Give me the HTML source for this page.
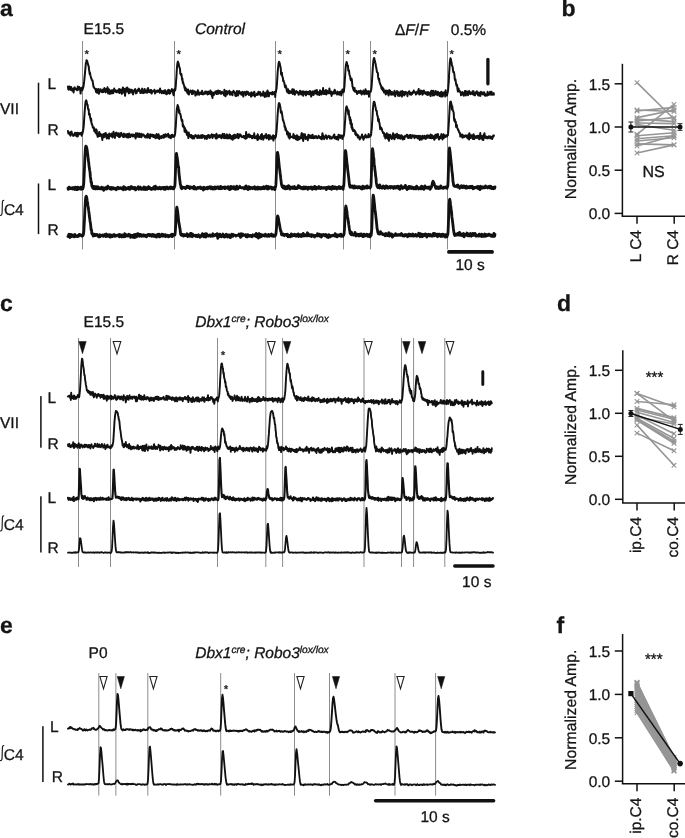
<!DOCTYPE html>
<html><head><meta charset="utf-8"><style>
html,body{margin:0;padding:0;background:#fff;overflow:hidden;width:685px;height:838px;}
svg{display:block;will-change:transform;}
text{font-family:"Liberation Sans", sans-serif;fill:#151515;stroke:#151515;stroke-width:0.3px;text-rendering:geometricPrecision;}
</style></head><body>
<svg width="685" height="838" viewBox="0 0 685 838">
<text x="0" y="16.2" font-size="23" font-weight="bold" font-style="normal" text-anchor="start" >a</text>
<text x="83.6" y="33.6" font-size="15.5" font-weight="normal" font-style="normal" text-anchor="start" >E15.5</text>
<text x="195" y="33.6" font-size="15.5" font-weight="normal" font-style="italic" text-anchor="start" >Control</text>
<text x="395" y="34.8" font-size="15.5"><tspan>Δ</tspan><tspan font-style="italic">F</tspan><tspan>/</tspan><tspan font-style="italic">F</tspan></text>
<text x="450.8" y="35" font-size="15.5" font-weight="normal" font-style="normal" text-anchor="start" >0.5%</text>
<line x1="82.5" y1="41" x2="82.5" y2="249.4" stroke="#8c8c8c" stroke-width="1.0"/>
<line x1="174.5" y1="41" x2="174.5" y2="249.4" stroke="#8c8c8c" stroke-width="1.0"/>
<line x1="275.5" y1="41" x2="275.5" y2="249.4" stroke="#8c8c8c" stroke-width="1.0"/>
<line x1="343.5" y1="41" x2="343.5" y2="249.4" stroke="#8c8c8c" stroke-width="1.0"/>
<line x1="370.5" y1="41" x2="370.5" y2="249.4" stroke="#8c8c8c" stroke-width="1.0"/>
<line x1="447.5" y1="41" x2="447.5" y2="249.4" stroke="#8c8c8c" stroke-width="1.0"/>
<path d="M68.0,86.6 68.3,89.4 68.7,89.6 69.0,87.6 69.4,86.5 69.8,88.2 70.1,89.1 70.5,89.9 70.8,86.9 71.2,86.9 71.5,89.7 71.8,89.3 72.2,90.7 72.5,90.1 72.9,88.8 73.2,88.6 73.6,92.4 74.0,88.5 74.3,87.9 74.7,87.4 75.0,89.1 75.3,89.2 75.7,88.5 76.0,88.9 76.4,89.4 76.8,89.8 77.1,90.3 77.5,89.1 77.8,86.5 78.2,89.8 78.5,87.0 78.8,88.7 79.2,87.0 79.5,89.1 79.9,88.0 80.2,89.3 80.6,93.6 81.0,89.2 81.3,90.5 81.7,87.7 82.0,89.1 82.3,90.2 82.7,88.9 83.0,88.3 83.4,86.8 83.8,84.3 84.1,81.9 84.5,78.0 84.8,75.0 85.2,70.3 85.5,67.1 85.8,63.8 86.2,61.9 86.5,60.2 86.9,60.6 87.2,61.0 87.6,62.7 88.0,64.0 88.3,65.5 88.7,66.2 89.0,69.8 89.3,71.0 89.7,74.0 90.0,72.7 90.4,75.5 90.8,76.8 91.1,77.9 91.5,78.8 91.8,80.0 92.2,80.0 92.5,80.5 92.8,82.3 93.2,84.7 93.5,86.8 93.9,87.0 94.2,87.9 94.6,88.3 95.0,88.9 95.3,88.8 95.7,90.1 96.0,91.9 96.3,89.3 96.7,89.1 97.0,92.7 97.4,90.5 97.8,91.7 98.1,91.6 98.5,89.0 98.8,93.8 99.2,92.9 99.5,90.8 99.8,91.5 100.2,90.7 100.5,89.2 100.9,90.2 101.2,90.9 101.6,91.9 101.9,91.3 102.3,90.5 102.7,92.2 103.0,89.4 103.3,91.7 103.7,92.0 104.0,90.1 104.4,88.1 104.8,89.2 105.1,90.8 105.4,91.0 105.8,92.4 106.2,88.9 106.5,90.3 106.8,91.2 107.2,90.1 107.5,87.3 107.9,91.6 108.2,93.6 108.6,91.8 108.9,89.2 109.3,89.9 109.7,90.7 110.0,93.9 110.3,91.3 110.7,90.8 111.0,92.9 111.4,93.2 111.8,93.4 112.1,90.1 112.4,90.4 112.8,92.1 113.2,93.1 113.5,92.1 113.8,91.6 114.2,88.6 114.5,90.1 114.9,90.1 115.2,90.3 115.6,91.8 115.9,90.6 116.3,92.3 116.7,91.3 117.0,90.5 117.3,91.2 117.7,91.5 118.0,92.2 118.4,90.3 118.8,90.6 119.1,89.0 119.4,93.0 119.8,92.8 120.2,90.7 120.5,90.4 120.8,89.4 121.2,91.2 121.5,91.3 121.9,93.9 122.2,91.2 122.6,89.8 122.9,87.6 123.3,92.6 123.7,91.1 124.0,88.7 124.3,91.3 124.7,89.0 125.0,95.8 125.4,92.6 125.8,91.9 126.1,90.9 126.4,88.1 126.8,90.9 127.2,87.5 127.5,91.4 127.8,88.2 128.2,89.8 128.6,92.7 128.9,93.4 129.2,89.8 129.6,89.2 129.9,92.4 130.3,92.4 130.7,89.9 131.0,90.3 131.3,90.3 131.7,89.7 132.1,90.5 132.4,93.1 132.8,92.4 133.1,94.4 133.4,91.5 133.8,91.4 134.1,90.3 134.5,91.3 134.8,89.7 135.2,89.0 135.6,92.4 135.9,93.4 136.2,92.5 136.6,93.0 136.9,91.6 137.3,90.3 137.6,91.2 138.0,90.5 138.3,89.5 138.7,88.6 139.1,88.9 139.4,90.9 139.8,91.1 140.1,90.4 140.4,93.1 140.8,91.4 141.1,91.9 141.5,92.8 141.8,90.2 142.2,88.6 142.6,92.5 142.9,90.5 143.2,93.1 143.6,91.9 143.9,92.8 144.3,92.6 144.6,88.9 145.0,92.6 145.3,90.6 145.7,90.5 146.1,90.9 146.4,92.4 146.8,92.5 147.1,92.8 147.4,89.1 147.8,90.5 148.1,88.1 148.5,91.0 148.8,92.0 149.2,90.2 149.6,91.5 149.9,91.5 150.2,92.4 150.6,90.0 150.9,90.0 151.3,90.2 151.6,93.6 152.0,92.7 152.3,91.1 152.7,91.6 153.1,91.4 153.4,91.5 153.8,91.0 154.1,90.9 154.4,89.8 154.8,90.5 155.1,93.6 155.5,92.2 155.8,91.5 156.2,91.3 156.6,91.6 156.9,92.0 157.2,90.6 157.6,91.7 157.9,91.8 158.3,90.6 158.6,90.5 159.0,90.3 159.3,90.2 159.7,92.7 160.1,88.4 160.4,91.1 160.8,90.7 161.1,90.8 161.4,91.8 161.8,93.3 162.1,91.9 162.5,91.7 162.8,91.1 163.2,91.8 163.6,93.3 163.9,91.5 164.2,90.4 164.6,90.4 164.9,93.0 165.3,90.3 165.6,93.7 166.0,92.7 166.3,92.0 166.7,94.3 167.1,91.4 167.4,93.2 167.8,93.3 168.1,90.1 168.4,89.9 168.8,90.6 169.1,93.0 169.5,93.6 169.8,90.3 170.2,93.2 170.6,91.3 170.9,91.2 171.2,90.8 171.6,91.1 171.9,89.1 172.3,90.2 172.6,90.0 173.0,92.2 173.3,94.4 173.7,95.3 174.1,91.0 174.4,89.2 174.8,90.7 175.1,90.3 175.4,89.4 175.8,85.7 176.1,80.6 176.5,75.6 176.8,70.0 177.2,64.8 177.6,62.5 177.9,61.6 178.2,62.2 178.6,63.5 178.9,64.9 179.3,67.1 179.6,67.7 180.0,68.9 180.3,73.7 180.7,73.7 181.1,75.3 181.4,74.0 181.8,77.4 182.1,80.0 182.4,78.5 182.8,82.9 183.1,82.0 183.5,84.2 183.8,84.6 184.2,86.1 184.6,88.3 184.9,86.9 185.2,90.3 185.6,87.9 185.9,88.4 186.3,91.2 186.6,89.4 187.0,90.7 187.3,92.8 187.7,93.4 188.1,89.5 188.4,92.7 188.8,94.6 189.1,93.7 189.4,91.7 189.8,91.2 190.1,91.7 190.5,90.5 190.8,91.8 191.2,92.1 191.6,92.1 191.9,94.0 192.2,92.2 192.6,90.5 192.9,93.9 193.3,91.0 193.6,92.0 194.0,92.5 194.3,92.2 194.7,91.3 195.1,92.3 195.4,95.6 195.8,91.9 196.1,92.6 196.4,94.4 196.8,94.0 197.2,93.9 197.5,94.5 197.8,90.2 198.2,91.7 198.5,93.1 198.9,93.7 199.2,94.7 199.6,93.5 199.9,92.5 200.3,92.9 200.7,92.7 201.0,93.3 201.3,94.0 201.7,92.5 202.0,90.8 202.4,91.6 202.8,94.2 203.1,94.4 203.4,94.0 203.8,94.0 204.1,94.0 204.5,92.8 204.8,93.6 205.2,91.4 205.5,92.5 205.9,91.7 206.2,93.6 206.6,91.7 206.9,92.4 207.3,93.2 207.6,94.6 208.0,91.8 208.3,91.6 208.7,94.0 209.0,92.0 209.4,93.6 209.8,92.2 210.1,92.8 210.4,90.6 210.8,94.1 211.1,92.3 211.5,91.9 211.8,96.0 212.2,94.2 212.5,97.9 212.9,93.7 213.2,92.5 213.6,93.0 213.9,95.0 214.3,92.9 214.6,93.4 215.0,93.5 215.3,91.6 215.7,92.9 216.0,92.1 216.4,91.1 216.8,94.0 217.1,93.9 217.4,93.0 217.8,91.8 218.1,90.4 218.5,93.7 218.8,93.0 219.2,90.9 219.5,93.1 219.9,91.1 220.2,93.1 220.6,93.4 220.9,93.8 221.3,93.7 221.6,93.6 222.0,91.8 222.3,92.7 222.7,92.6 223.0,92.9 223.4,93.6 223.8,94.0 224.1,95.3 224.4,89.8 224.8,93.8 225.1,93.0 225.5,96.3 225.8,94.4 226.2,91.1 226.5,93.9 226.9,92.5 227.2,94.5 227.6,91.6 227.9,93.0 228.3,93.0 228.6,93.0 229.0,92.4 229.3,90.7 229.7,93.7 230.0,94.7 230.4,93.3 230.8,91.9 231.1,93.6 231.4,94.1 231.8,93.2 232.1,93.2 232.5,95.2 232.8,91.8 233.2,92.5 233.5,90.8 233.9,92.3 234.2,92.4 234.6,92.1 234.9,92.5 235.3,95.7 235.6,93.1 236.0,93.1 236.3,96.1 236.7,93.2 237.0,91.0 237.4,93.8 237.8,93.2 238.1,95.4 238.4,91.6 238.8,92.6 239.1,91.1 239.5,93.5 239.8,92.2 240.2,93.3 240.5,92.9 240.9,92.4 241.2,94.6 241.6,94.7 241.9,93.5 242.3,92.1 242.6,91.9 243.0,93.7 243.3,96.6 243.7,92.7 244.0,92.4 244.4,92.3 244.8,91.8 245.1,92.0 245.4,93.0 245.8,95.3 246.1,93.4 246.5,92.8 246.8,91.5 247.2,94.0 247.5,93.6 247.9,92.0 248.2,92.3 248.6,93.7 248.9,95.1 249.3,94.6 249.6,93.9 250.0,93.3 250.3,94.1 250.7,93.7 251.0,96.6 251.4,92.2 251.8,93.2 252.1,95.4 252.4,93.3 252.8,95.5 253.1,93.4 253.5,93.7 253.8,93.1 254.2,91.7 254.5,92.3 254.9,96.6 255.2,94.5 255.6,94.5 255.9,94.9 256.3,94.5 256.6,95.0 257.0,93.4 257.4,93.4 257.7,94.9 258.0,93.1 258.4,91.8 258.8,93.2 259.1,93.0 259.4,94.5 259.8,92.6 260.1,92.1 260.5,93.2 260.9,95.8 261.2,93.7 261.5,94.0 261.9,93.7 262.2,94.0 262.6,95.0 262.9,95.5 263.3,91.5 263.6,95.5 264.0,93.6 264.4,93.3 264.7,97.0 265.0,93.5 265.4,96.2 265.8,95.0 266.1,92.4 266.4,94.4 266.8,96.6 267.1,93.3 267.5,90.4 267.9,93.1 268.2,93.4 268.5,92.2 268.9,96.3 269.2,93.4 269.6,93.4 269.9,93.4 270.3,92.7 270.6,92.7 271.0,93.8 271.4,94.2 271.7,93.1 272.0,93.6 272.4,91.9 272.8,94.4 273.1,92.7 273.4,94.0 273.8,92.5 274.1,93.0 274.5,93.9 274.9,91.8 275.2,97.0 275.5,92.9 275.9,92.1 276.2,90.2 276.6,88.1 276.9,84.0 277.3,78.7 277.6,72.9 278.0,68.5 278.4,65.2 278.7,62.6 279.0,61.8 279.4,62.3 279.8,63.8 280.1,65.6 280.4,66.4 280.8,69.1 281.1,74.5 281.5,74.9 281.9,72.7 282.2,76.1 282.5,76.9 282.9,78.1 283.2,81.1 283.6,80.5 283.9,81.7 284.3,82.9 284.6,84.4 285.0,87.2 285.4,87.5 285.7,85.5 286.0,87.6 286.4,87.9 286.8,90.8 287.1,90.7 287.4,92.2 287.8,91.4 288.1,89.3 288.5,92.9 288.9,92.7 289.2,93.3 289.5,90.9 289.9,92.8 290.2,91.6 290.6,91.5 290.9,92.9 291.3,92.9 291.6,91.3 292.0,90.3 292.4,89.2 292.7,91.8 293.0,94.1 293.4,92.4 293.8,89.4 294.1,91.2 294.4,93.0 294.8,94.7 295.1,94.0 295.5,92.3 295.9,92.7 296.2,91.0 296.5,92.1 296.9,92.4 297.2,91.7 297.6,92.8 297.9,92.2 298.3,93.3 298.6,94.8 299.0,93.8 299.4,93.5 299.7,92.5 300.0,90.8 300.4,92.7 300.8,93.8 301.1,91.6 301.4,94.6 301.8,92.6 302.1,93.6 302.5,92.5 302.9,91.2 303.2,95.7 303.5,91.4 303.9,94.2 304.2,92.1 304.6,93.2 304.9,91.8 305.3,92.2 305.6,94.1 306.0,95.4 306.4,91.6 306.7,92.5 307.0,94.0 307.4,91.9 307.8,93.7 308.1,91.7 308.4,93.5 308.8,93.4 309.1,94.5 309.5,93.3 309.9,91.0 310.2,93.5 310.5,91.2 310.9,93.7 311.2,96.6 311.6,93.7 311.9,92.3 312.3,94.7 312.6,93.4 313.0,91.3 313.4,92.5 313.7,94.9 314.0,92.7 314.4,93.3 314.8,92.7 315.1,90.6 315.4,92.2 315.8,93.5 316.1,93.3 316.5,92.8 316.9,90.0 317.2,94.5 317.5,93.8 317.9,94.2 318.2,94.4 318.6,92.1 318.9,92.0 319.3,93.2 319.6,95.0 320.0,90.3 320.4,92.3 320.7,91.5 321.0,93.3 321.4,94.5 321.8,92.2 322.1,91.0 322.4,92.6 322.8,92.2 323.1,88.1 323.5,93.9 323.9,91.9 324.2,93.6 324.6,90.9 324.9,94.1 325.2,90.7 325.6,94.0 325.9,90.1 326.3,94.5 326.6,92.2 327.0,90.8 327.3,92.5 327.7,93.3 328.1,91.4 328.4,92.1 328.8,93.2 329.1,92.5 329.4,88.4 329.8,91.9 330.1,93.1 330.5,93.0 330.8,93.9 331.2,91.4 331.6,95.9 331.9,93.6 332.2,92.9 332.6,93.9 332.9,93.6 333.3,92.4 333.6,91.4 334.0,93.5 334.3,92.8 334.7,89.7 335.1,90.9 335.4,93.2 335.8,92.8 336.1,92.9 336.4,93.4 336.8,92.6 337.1,94.6 337.5,91.6 337.8,91.9 338.2,92.9 338.5,93.6 338.9,93.7 339.2,94.8 339.6,92.1 339.9,94.4 340.3,93.6 340.6,91.4 341.0,92.5 341.3,95.5 341.7,93.7 342.0,92.1 342.4,89.4 342.8,91.8 343.1,91.7 343.4,92.3 343.8,92.0 344.1,89.4 344.5,85.8 344.8,80.4 345.2,74.5 345.5,69.4 345.9,65.0 346.2,63.7 346.6,62.0 346.9,62.6 347.3,64.6 347.6,65.9 348.0,65.7 348.3,70.7 348.7,70.1 349.0,70.4 349.4,74.2 349.8,75.8 350.1,76.0 350.4,78.7 350.8,80.2 351.1,79.1 351.5,78.6 351.8,79.5 352.2,83.7 352.5,86.5 352.9,87.3 353.2,88.8 353.6,90.2 353.9,88.5 354.3,90.9 354.6,88.1 355.0,91.7 355.3,91.8 355.7,91.5 356.0,91.5 356.4,90.8 356.8,92.5 357.1,94.1 357.4,91.9 357.8,93.0 358.1,91.5 358.5,92.8 358.8,91.0 359.2,92.8 359.5,92.1 359.9,92.7 360.2,91.4 360.6,90.6 360.9,91.8 361.3,93.7 361.6,94.5 362.0,91.8 362.3,93.4 362.7,93.5 363.0,93.1 363.4,90.6 363.8,93.0 364.1,91.3 364.4,94.3 364.8,93.9 365.1,93.6 365.5,89.3 365.8,93.6 366.2,93.7 366.5,90.9 366.9,93.9 367.2,92.7 367.6,92.2 367.9,91.6 368.3,91.1 368.6,91.9 369.0,96.7 369.3,92.8 369.7,92.8 370.0,91.5 370.4,91.4 370.8,91.6 371.1,90.1 371.4,88.1 371.8,83.8 372.1,79.0 372.5,72.7 372.8,67.8 373.2,62.8 373.5,59.9 373.9,58.1 374.2,58.0 374.6,59.8 374.9,60.8 375.3,62.7 375.6,63.7 376.0,66.9 376.3,67.7 376.7,70.3 377.0,72.1 377.4,72.3 377.8,72.8 378.1,76.7 378.4,78.7 378.8,79.8 379.1,78.6 379.5,82.1 379.8,82.9 380.2,83.9 380.5,85.1 380.9,85.2 381.2,87.1 381.6,88.9 381.9,87.7 382.3,87.3 382.6,89.7 383.0,90.7 383.3,88.5 383.7,90.3 384.0,92.4 384.4,91.7 384.8,92.2 385.1,90.4 385.4,93.3 385.8,94.5 386.1,91.9 386.5,91.2 386.8,90.6 387.2,93.3 387.5,92.4 387.9,91.1 388.2,93.7 388.6,95.5 388.9,93.2 389.3,90.0 389.6,92.4 390.0,93.5 390.3,91.0 390.7,93.9 391.0,94.8 391.4,94.3 391.8,92.0 392.1,92.0 392.4,94.2 392.8,94.4 393.1,94.7 393.5,94.5 393.8,92.9 394.2,92.7 394.5,90.8 394.9,94.3 395.2,96.3 395.6,92.6 395.9,92.5 396.3,93.9 396.6,93.6 397.0,91.1 397.3,92.0 397.7,91.5 398.0,95.8 398.4,92.2 398.8,94.3 399.1,95.8 399.4,95.9 399.8,95.3 400.1,95.4 400.5,91.5 400.8,92.6 401.2,92.1 401.5,92.7 401.9,96.6 402.2,90.9 402.6,93.8 402.9,91.5 403.3,94.8 403.6,94.7 404.0,92.1 404.3,95.4 404.7,92.8 405.0,94.5 405.4,93.1 405.8,91.9 406.1,92.2 406.4,92.6 406.8,93.7 407.1,93.2 407.5,96.2 407.8,92.7 408.2,92.4 408.5,92.1 408.9,91.9 409.2,91.2 409.6,91.9 409.9,94.4 410.3,93.3 410.6,92.8 411.0,93.7 411.3,94.7 411.7,94.1 412.0,94.2 412.4,92.2 412.8,92.6 413.1,91.8 413.4,92.8 413.8,90.6 414.1,92.3 414.5,92.6 414.8,92.6 415.2,92.4 415.5,92.2 415.9,94.6 416.2,92.4 416.6,93.9 416.9,93.3 417.3,91.5 417.6,91.6 418.0,93.3 418.3,91.0 418.7,88.9 419.0,93.7 419.4,94.5 419.8,91.0 420.1,92.0 420.4,94.1 420.8,90.6 421.1,92.2 421.5,91.8 421.8,93.3 422.2,90.9 422.5,94.7 422.9,93.3 423.2,93.9 423.6,93.0 423.9,90.6 424.3,93.3 424.6,91.5 425.0,93.4 425.3,92.4 425.7,93.1 426.0,93.2 426.4,94.5 426.8,94.4 427.1,91.9 427.4,93.1 427.8,95.1 428.1,93.8 428.5,92.2 428.8,93.0 429.2,92.7 429.5,94.5 429.9,93.0 430.2,93.5 430.6,96.1 430.9,91.2 431.3,91.6 431.6,90.7 432.0,91.7 432.3,94.4 432.7,93.6 433.0,95.5 433.4,90.7 433.8,92.2 434.1,95.3 434.4,94.7 434.8,94.4 435.1,94.4 435.5,93.3 435.8,90.9 436.2,93.4 436.5,94.4 436.9,93.0 437.2,93.7 437.6,95.2 437.9,91.7 438.3,92.3 438.6,94.1 439.0,93.0 439.3,93.0 439.7,96.0 440.0,93.8 440.4,92.6 440.8,94.7 441.1,96.6 441.4,91.8 441.8,92.5 442.1,93.6 442.5,92.7 442.8,96.4 443.2,94.2 443.5,93.0 443.9,94.0 444.2,92.2 444.6,92.5 444.9,93.5 445.3,96.5 445.6,90.2 446.0,93.8 446.3,95.0 446.7,94.1 447.0,95.6 447.4,93.4 447.8,91.9 448.1,89.8 448.4,85.8 448.8,81.3 449.1,73.9 449.5,68.0 449.8,62.8 450.2,59.7 450.5,58.2 450.9,59.3 451.2,60.9 451.6,62.7 451.9,65.5 452.3,65.9 452.6,67.0 453.0,70.0 453.3,72.0 453.7,71.7 454.0,72.4 454.4,74.7 454.8,79.1 455.1,80.4 455.4,79.2 455.8,81.8 456.1,83.9 456.5,85.8 456.8,84.4 457.2,86.1 457.5,89.3 457.9,91.6 458.2,91.2 458.6,88.4 458.9,91.2 459.3,90.8 459.6,91.7 460.0,91.3 460.3,91.8 460.7,92.7 461.0,95.3 461.4,93.8 461.8,93.5 462.1,93.1 462.4,92.1 462.8,92.8 463.1,94.8 463.5,94.3 463.8,95.8 464.2,93.6 464.5,93.3 464.9,91.1 465.2,93.9 465.6,91.1 465.9,95.4 466.3,92.6 466.6,93.5 467.0,91.6 467.3,92.9 467.7,92.4 468.0,95.2 468.4,93.9 468.8,92.0 469.1,90.9 469.4,93.5 469.8,93.0 470.1,92.1 470.5,94.3 470.8,93.3 471.2,93.7 471.5,92.7 471.9,92.8 472.2,92.8 472.6,91.3 472.9,94.3 473.3,94.1 473.6,91.2 474.0,93.8 474.3,95.3 474.7,94.1 475.0,95.4 475.4,93.2 475.8,93.6 476.1,91.9 476.4,92.4 476.8,91.3 477.1,92.5 477.5,94.0 477.8,94.5 478.2,95.5 478.5,94.0 478.9,92.4 479.2,94.2 479.6,93.2 479.9,95.8 480.3,95.9 480.6,94.5 481.0,91.8 481.3,92.7 481.7,93.6 482.0,92.4 482.4,94.1 482.8,94.3 483.1,94.5 483.4,93.7 483.8,92.2 484.1,92.2 484.5,93.3 484.8,95.4 485.2,95.8 485.5,95.1 485.9,94.3 486.2,94.8 486.6,95.0 486.9,95.7 487.3,95.0 487.6,91.8 488.0,95.1 488.3,94.4 488.7,93.3 489.0,94.8 489.4,94.5 489.8,94.0 490.1,91.8 490.4,94.2 490.8,94.7 491.1,93.8 491.5,91.7 491.8,94.4 492.2,94.8 492.5,94.0 492.9,94.3 493.2,93.3 493.6,93.0 493.9,94.7" fill="none" stroke="#111" stroke-width="2.0" stroke-linejoin="round" stroke-linecap="round"/>
<text x="86.7" y="58.3" font-size="11.5" text-anchor="middle">*</text>
<text x="178.7" y="58.3" font-size="11.5" text-anchor="middle">*</text>
<text x="279.7" y="58.3" font-size="11.5" text-anchor="middle">*</text>
<text x="347.7" y="58.3" font-size="11.5" text-anchor="middle">*</text>
<text x="374.7" y="58.3" font-size="11.5" text-anchor="middle">*</text>
<text x="451.7" y="58.3" font-size="11.5" text-anchor="middle">*</text>
<path d="M68.0,131.1 68.3,133.3 68.7,132.6 69.0,132.4 69.4,134.4 69.8,133.2 70.1,132.8 70.5,135.7 70.8,134.0 71.2,131.7 71.5,131.6 71.8,132.8 72.2,134.4 72.5,134.7 72.9,135.0 73.2,135.9 73.6,135.8 74.0,134.3 74.3,135.3 74.7,134.5 75.0,132.8 75.3,134.7 75.7,133.6 76.0,133.3 76.4,136.2 76.8,134.5 77.1,132.8 77.5,133.3 77.8,136.5 78.2,133.0 78.5,134.4 78.8,134.3 79.2,134.2 79.5,134.3 79.9,132.9 80.2,132.9 80.6,133.3 81.0,133.0 81.3,134.6 81.7,135.7 82.0,132.3 82.3,134.0 82.7,132.3 83.0,131.1 83.4,128.7 83.8,125.1 84.1,120.1 84.5,114.0 84.8,110.2 85.2,105.2 85.5,102.0 85.8,100.9 86.2,100.4 86.5,101.0 86.9,103.1 87.2,104.7 87.6,104.8 88.0,108.7 88.3,109.8 88.7,109.3 89.0,114.6 89.3,114.1 89.7,113.7 90.0,117.2 90.4,118.0 90.8,120.6 91.1,118.6 91.5,123.1 91.8,124.1 92.2,124.8 92.5,125.7 92.8,127.7 93.2,127.9 93.5,127.9 93.9,127.5 94.2,130.9 94.6,131.5 95.0,131.2 95.3,131.7 95.7,133.0 96.0,129.2 96.3,133.6 96.7,130.1 97.0,134.3 97.4,135.6 97.8,136.9 98.1,133.9 98.5,135.3 98.8,134.7 99.2,131.9 99.5,136.1 99.8,135.4 100.2,135.2 100.5,133.8 100.9,135.0 101.2,135.2 101.6,136.8 101.9,135.4 102.3,139.9 102.7,134.6 103.0,134.7 103.3,135.0 103.7,134.0 104.0,137.3 104.4,136.1 104.8,133.5 105.1,135.3 105.4,136.6 105.8,133.1 106.2,135.3 106.5,134.9 106.8,138.5 107.2,135.8 107.5,134.8 107.9,134.6 108.2,138.0 108.6,134.7 108.9,138.6 109.3,133.4 109.7,135.2 110.0,135.1 110.3,134.4 110.7,135.0 111.0,136.3 111.4,134.4 111.8,133.5 112.1,135.9 112.4,137.4 112.8,134.4 113.2,135.7 113.5,131.7 113.8,136.4 114.2,133.3 114.5,134.4 114.9,138.0 115.2,133.6 115.6,135.1 115.9,133.6 116.3,132.6 116.7,133.6 117.0,135.5 117.3,133.3 117.7,134.2 118.0,136.0 118.4,134.8 118.8,133.2 119.1,137.2 119.4,135.3 119.8,137.0 120.2,133.8 120.5,136.3 120.8,133.4 121.2,132.8 121.5,134.6 121.9,134.6 122.2,135.5 122.6,134.5 122.9,136.1 123.3,137.1 123.7,134.5 124.0,133.6 124.3,134.9 124.7,136.7 125.0,136.6 125.4,135.1 125.8,134.2 126.1,135.5 126.4,136.9 126.8,134.6 127.2,137.4 127.5,134.0 127.8,136.2 128.2,134.8 128.6,137.6 128.9,135.8 129.2,133.6 129.6,136.8 129.9,135.1 130.3,137.1 130.7,135.8 131.0,134.7 131.3,135.7 131.7,134.8 132.1,134.4 132.4,135.5 132.8,136.5 133.1,135.4 133.4,135.2 133.8,134.5 134.1,136.2 134.5,135.8 134.8,136.7 135.2,136.1 135.6,138.4 135.9,133.3 136.2,135.4 136.6,136.1 136.9,136.6 137.3,133.3 137.6,133.7 138.0,135.3 138.3,136.8 138.7,136.9 139.1,133.4 139.4,135.6 139.8,137.1 140.1,135.6 140.4,134.2 140.8,134.6 141.1,133.7 141.5,137.2 141.8,135.3 142.2,135.1 142.6,134.5 142.9,135.5 143.2,134.5 143.6,134.4 143.9,135.8 144.3,135.6 144.6,136.6 145.0,136.2 145.3,137.6 145.7,136.0 146.1,136.4 146.4,136.3 146.8,134.9 147.1,137.6 147.4,135.2 147.8,133.8 148.1,137.6 148.5,136.9 148.8,135.3 149.2,137.3 149.6,137.3 149.9,138.2 150.2,134.3 150.6,136.2 150.9,134.6 151.3,135.1 151.6,135.2 152.0,134.9 152.3,136.6 152.7,134.7 153.1,136.7 153.4,136.9 153.8,135.1 154.1,136.1 154.4,136.8 154.8,137.3 155.1,135.4 155.5,138.2 155.8,136.6 156.2,137.6 156.6,134.1 156.9,134.6 157.2,137.8 157.6,135.8 157.9,136.7 158.3,137.9 158.6,134.3 159.0,136.8 159.3,138.9 159.7,137.3 160.1,136.4 160.4,137.1 160.8,136.5 161.1,137.5 161.4,138.2 161.8,136.1 162.1,137.1 162.5,136.7 162.8,137.2 163.2,137.3 163.6,134.7 163.9,137.8 164.2,137.3 164.6,134.8 164.9,135.9 165.3,134.3 165.6,135.9 166.0,136.7 166.3,134.7 166.7,135.3 167.1,135.1 167.4,135.4 167.8,135.2 168.1,133.8 168.4,137.1 168.8,136.0 169.1,135.2 169.5,137.6 169.8,135.6 170.2,137.6 170.6,137.1 170.9,138.2 171.2,135.7 171.6,135.1 171.9,137.0 172.3,134.7 172.6,134.9 173.0,136.8 173.3,135.8 173.7,136.9 174.1,136.5 174.4,136.5 174.8,135.3 175.1,133.8 175.4,130.4 175.8,126.1 176.1,120.5 176.5,113.8 176.8,109.1 177.2,107.1 177.6,105.1 177.9,105.5 178.2,106.4 178.6,108.0 178.9,112.7 179.3,110.1 179.6,112.7 180.0,114.0 180.3,113.8 180.7,115.4 181.1,117.6 181.4,119.3 181.8,121.1 182.1,119.9 182.4,120.7 182.8,126.2 183.1,124.7 183.5,127.2 183.8,126.3 184.2,127.0 184.6,131.7 184.9,127.9 185.2,129.1 185.6,132.0 185.9,132.0 186.3,130.5 186.6,133.6 187.0,134.9 187.3,132.3 187.7,134.0 188.1,136.2 188.4,138.1 188.8,132.6 189.1,135.1 189.4,136.1 189.8,135.0 190.1,135.0 190.5,135.6 190.8,137.2 191.2,135.1 191.6,137.7 191.9,137.6 192.2,137.6 192.6,138.5 192.9,135.8 193.3,136.4 193.6,137.9 194.0,138.4 194.3,137.9 194.7,136.0 195.1,136.0 195.4,134.9 195.8,136.1 196.1,135.6 196.4,136.1 196.8,136.2 197.2,137.9 197.5,138.0 197.8,136.8 198.2,135.2 198.5,136.7 198.9,137.3 199.2,137.9 199.6,136.5 199.9,137.7 200.3,135.6 200.7,137.4 201.0,137.6 201.3,136.1 201.7,135.4 202.0,138.0 202.4,135.0 202.8,137.3 203.1,136.0 203.4,135.8 203.8,135.9 204.1,135.7 204.5,136.1 204.8,138.7 205.2,138.3 205.5,136.2 205.9,137.1 206.2,137.7 206.6,136.0 206.9,139.0 207.3,135.8 207.6,137.4 208.0,135.2 208.3,134.9 208.7,135.1 209.0,135.6 209.4,137.9 209.8,136.1 210.1,137.7 210.4,136.0 210.8,135.3 211.1,136.8 211.5,136.1 211.8,134.3 212.2,136.6 212.5,138.1 212.9,136.2 213.2,134.9 213.6,135.5 213.9,134.8 214.3,136.2 214.6,135.2 215.0,136.3 215.3,136.8 215.7,138.4 216.0,135.0 216.4,133.7 216.8,138.6 217.1,137.0 217.4,135.8 217.8,137.0 218.1,135.2 218.5,136.0 218.8,137.3 219.2,136.0 219.5,136.6 219.9,134.9 220.2,136.7 220.6,136.2 220.9,137.2 221.3,138.2 221.6,138.1 222.0,135.1 222.3,137.4 222.7,133.8 223.0,134.6 223.4,137.0 223.8,137.2 224.1,138.2 224.4,134.1 224.8,137.9 225.1,135.7 225.5,135.8 225.8,137.0 226.2,138.3 226.5,135.2 226.9,134.3 227.2,135.9 227.6,136.6 227.9,138.4 228.3,137.3 228.6,136.4 229.0,136.1 229.3,134.5 229.7,138.2 230.0,134.7 230.4,136.1 230.8,136.0 231.1,138.7 231.4,137.4 231.8,136.3 232.1,138.2 232.5,139.8 232.8,138.6 233.2,135.4 233.5,137.0 233.9,138.7 234.2,134.7 234.6,135.5 234.9,134.7 235.3,137.9 235.6,136.2 236.0,137.5 236.3,137.0 236.7,137.5 237.0,135.5 237.4,134.1 237.8,134.1 238.1,137.1 238.4,138.3 238.8,137.6 239.1,134.8 239.5,134.4 239.8,136.5 240.2,135.7 240.5,134.4 240.9,136.0 241.2,135.6 241.6,136.5 241.9,137.1 242.3,136.8 242.6,136.7 243.0,137.1 243.3,136.3 243.7,135.8 244.0,136.1 244.4,138.1 244.8,136.2 245.1,137.7 245.4,138.8 245.8,138.8 246.1,132.0 246.5,136.8 246.8,138.0 247.2,136.1 247.5,135.7 247.9,134.8 248.2,135.8 248.6,136.8 248.9,134.2 249.3,136.8 249.6,137.1 250.0,136.8 250.3,135.3 250.7,136.9 251.0,137.0 251.4,136.0 251.8,136.1 252.1,138.3 252.4,137.9 252.8,136.0 253.1,137.7 253.5,135.6 253.8,136.5 254.2,133.3 254.5,136.5 254.9,138.2 255.2,136.6 255.6,138.1 255.9,136.4 256.3,137.6 256.6,137.0 257.0,135.9 257.4,139.9 257.7,134.3 258.0,135.3 258.4,139.5 258.8,137.8 259.1,137.5 259.4,136.9 259.8,137.5 260.1,138.1 260.5,137.7 260.9,135.1 261.2,139.2 261.5,136.8 261.9,134.1 262.2,138.0 262.6,136.7 262.9,137.3 263.3,139.7 263.6,136.2 264.0,136.1 264.4,135.6 264.7,137.0 265.0,137.7 265.4,137.4 265.8,137.2 266.1,134.1 266.4,137.3 266.8,138.4 267.1,136.4 267.5,136.4 267.9,135.7 268.2,137.4 268.5,135.0 268.9,139.6 269.2,136.8 269.6,136.3 269.9,135.4 270.3,137.9 270.6,138.6 271.0,136.6 271.4,137.6 271.7,137.7 272.0,138.6 272.4,138.1 272.8,138.9 273.1,135.3 273.4,140.6 273.8,136.5 274.1,138.3 274.5,136.0 274.9,137.7 275.2,138.1 275.5,137.6 275.9,136.3 276.2,133.8 276.6,130.8 276.9,126.3 277.3,120.8 277.6,115.3 278.0,110.0 278.4,106.5 278.7,103.8 279.0,103.1 279.4,103.4 279.8,104.3 280.1,106.4 280.4,107.4 280.8,112.2 281.1,112.8 281.5,111.1 281.9,112.9 282.2,115.1 282.5,116.9 282.9,120.2 283.2,119.9 283.6,122.0 283.9,122.3 284.3,123.7 284.6,126.8 285.0,126.2 285.4,129.9 285.7,128.1 286.0,129.6 286.4,130.6 286.8,131.9 287.1,134.4 287.4,131.6 287.8,132.5 288.1,132.4 288.5,136.9 288.9,135.6 289.2,136.0 289.5,138.6 289.9,133.6 290.2,137.5 290.6,136.8 290.9,137.2 291.3,137.0 291.6,136.8 292.0,136.9 292.4,136.2 292.7,136.5 293.0,137.8 293.4,134.1 293.8,138.2 294.1,137.9 294.4,135.5 294.8,138.0 295.1,137.4 295.5,136.3 295.9,139.2 296.2,137.1 296.5,136.8 296.9,135.3 297.2,139.9 297.6,139.2 297.9,137.4 298.3,136.6 298.6,139.7 299.0,136.7 299.4,139.1 299.7,138.3 300.0,138.2 300.4,137.7 300.8,138.3 301.1,136.6 301.4,134.0 301.8,133.1 302.1,138.3 302.5,134.0 302.9,138.6 303.2,141.0 303.5,134.2 303.9,137.7 304.2,137.6 304.6,135.9 304.9,134.2 305.3,136.7 305.6,139.1 306.0,136.7 306.4,137.0 306.7,137.2 307.0,137.1 307.4,137.5 307.8,140.2 308.1,136.0 308.4,134.7 308.8,138.3 309.1,136.5 309.5,136.5 309.9,135.4 310.2,137.1 310.5,136.7 310.9,137.9 311.2,136.8 311.6,135.4 311.9,138.0 312.3,137.1 312.6,134.7 313.0,136.8 313.4,138.2 313.7,137.1 314.0,136.8 314.4,138.0 314.8,136.3 315.1,136.2 315.4,137.8 315.8,136.8 316.1,136.1 316.5,137.3 316.9,137.3 317.2,138.2 317.5,138.3 317.9,137.0 318.2,136.9 318.6,135.7 318.9,137.3 319.3,136.6 319.6,138.1 320.0,138.1 320.4,138.0 320.7,137.0 321.0,138.9 321.4,139.1 321.8,139.3 322.1,136.3 322.4,133.3 322.8,137.9 323.1,135.1 323.5,137.2 323.9,136.6 324.2,139.2 324.6,136.8 324.9,136.9 325.2,136.3 325.6,137.4 325.9,135.2 326.3,137.7 326.6,137.8 327.0,138.8 327.3,136.5 327.7,137.4 328.1,137.2 328.4,137.0 328.8,135.8 329.1,136.3 329.4,137.1 329.8,137.8 330.1,138.6 330.5,136.4 330.8,137.7 331.2,138.2 331.6,138.6 331.9,137.9 332.2,137.8 332.6,137.0 332.9,137.6 333.3,137.3 333.6,135.3 334.0,136.7 334.3,134.4 334.7,138.2 335.1,138.7 335.4,136.9 335.8,137.6 336.1,137.6 336.4,136.9 336.8,139.2 337.1,136.9 337.5,137.5 337.8,137.0 338.2,139.7 338.5,134.8 338.9,137.2 339.2,135.1 339.6,135.9 339.9,135.6 340.3,137.9 340.6,135.4 341.0,135.5 341.3,136.5 341.7,135.6 342.0,135.5 342.4,139.0 342.8,135.9 343.1,135.7 343.4,136.8 343.8,135.5 344.1,133.8 344.5,129.4 344.8,124.9 345.2,119.4 345.5,113.8 345.9,109.6 346.2,107.3 346.6,106.4 346.9,107.2 347.3,108.3 347.6,109.3 348.0,112.2 348.3,114.3 348.7,110.6 349.0,114.7 349.4,117.7 349.8,120.0 350.1,117.2 350.4,123.8 350.8,119.8 351.1,123.0 351.5,127.5 351.8,123.4 352.2,129.3 352.5,127.6 352.9,130.8 353.2,131.1 353.6,130.2 353.9,129.8 354.3,131.2 354.6,130.5 355.0,131.1 355.3,134.1 355.7,132.2 356.0,135.2 356.4,135.0 356.8,135.3 357.1,134.5 357.4,134.5 357.8,137.4 358.1,135.2 358.5,135.9 358.8,136.5 359.2,137.7 359.5,139.4 359.9,139.4 360.2,137.8 360.6,137.7 360.9,137.7 361.3,136.4 361.6,136.4 362.0,134.4 362.3,137.5 362.7,136.1 363.0,137.2 363.4,139.7 363.8,137.8 364.1,138.3 364.4,137.8 364.8,135.9 365.1,135.9 365.5,134.7 365.8,135.9 366.2,136.9 366.5,137.5 366.9,137.4 367.2,136.2 367.6,136.8 367.9,136.8 368.3,137.2 368.6,134.1 369.0,137.0 369.3,134.9 369.7,136.3 370.0,136.6 370.4,135.1 370.8,135.7 371.1,134.5 371.4,131.5 371.8,128.1 372.1,122.9 372.5,117.1 372.8,110.9 373.2,106.4 373.5,103.1 373.9,101.7 374.2,101.9 374.6,102.5 374.9,104.3 375.3,106.2 375.6,107.1 376.0,110.2 376.3,110.9 376.7,110.7 377.0,114.0 377.4,115.7 377.8,116.5 378.1,121.0 378.4,119.1 378.8,119.0 379.1,122.1 379.5,123.2 379.8,125.3 380.2,129.2 380.5,127.0 380.9,128.9 381.2,127.8 381.6,128.3 381.9,129.6 382.3,131.1 382.6,131.5 383.0,132.9 383.3,132.7 383.7,132.5 384.0,133.6 384.4,136.3 384.8,134.1 385.1,137.0 385.4,138.5 385.8,135.2 386.1,137.8 386.5,137.8 386.8,133.2 387.2,137.9 387.5,137.6 387.9,135.7 388.2,139.1 388.6,134.4 388.9,140.8 389.3,137.1 389.6,135.4 390.0,136.9 390.3,134.7 390.7,137.6 391.0,137.7 391.4,138.6 391.8,138.9 392.1,136.0 392.4,137.7 392.8,136.2 393.1,133.2 393.5,138.3 393.8,138.6 394.2,137.4 394.5,139.3 394.9,136.9 395.2,134.6 395.6,136.3 395.9,136.6 396.3,137.3 396.6,136.3 397.0,133.8 397.3,135.1 397.7,136.6 398.0,138.3 398.4,135.9 398.8,135.0 399.1,136.1 399.4,138.0 399.8,138.5 400.1,135.5 400.5,137.9 400.8,138.7 401.2,137.9 401.5,135.3 401.9,137.7 402.2,136.2 402.6,136.2 402.9,139.5 403.3,136.7 403.6,137.5 404.0,138.4 404.3,139.0 404.7,137.2 405.0,136.0 405.4,136.7 405.8,135.9 406.1,136.6 406.4,136.6 406.8,134.8 407.1,135.8 407.5,135.0 407.8,136.8 408.2,138.1 408.5,138.0 408.9,137.2 409.2,135.7 409.6,136.8 409.9,135.1 410.3,137.8 410.6,134.9 411.0,136.1 411.3,138.2 411.7,137.5 412.0,135.5 412.4,136.5 412.8,135.4 413.1,135.8 413.4,136.3 413.8,135.6 414.1,137.0 414.5,138.2 414.8,135.6 415.2,135.7 415.5,135.8 415.9,136.1 416.2,137.2 416.6,136.0 416.9,135.8 417.3,136.0 417.6,138.3 418.0,138.3 418.3,138.5 418.7,137.3 419.0,135.7 419.4,138.8 419.8,140.0 420.1,136.1 420.4,136.0 420.8,138.3 421.1,137.7 421.5,137.4 421.8,139.6 422.2,136.5 422.5,135.7 422.9,136.2 423.2,137.1 423.6,137.1 423.9,138.5 424.3,137.8 424.6,135.8 425.0,137.8 425.3,136.6 425.7,138.9 426.0,138.4 426.4,136.1 426.8,137.7 427.1,135.2 427.4,137.7 427.8,137.2 428.1,137.7 428.5,135.5 428.8,136.0 429.2,136.4 429.5,136.8 429.9,138.1 430.2,136.1 430.6,134.4 430.9,136.4 431.3,138.1 431.6,138.2 432.0,135.3 432.3,137.9 432.7,137.2 433.0,138.0 433.4,137.2 433.8,138.7 434.1,135.9 434.4,139.8 434.8,138.4 435.1,135.4 435.5,134.7 435.8,138.1 436.2,134.6 436.5,135.6 436.9,137.4 437.2,136.6 437.6,137.0 437.9,133.9 438.3,135.8 438.6,137.5 439.0,139.6 439.3,137.4 439.7,136.9 440.0,137.0 440.4,138.2 440.8,137.6 441.1,135.4 441.4,134.1 441.8,136.4 442.1,136.3 442.5,139.4 442.8,135.6 443.2,137.8 443.5,134.2 443.9,138.0 444.2,135.1 444.6,136.9 444.9,136.6 445.3,136.9 445.6,136.7 446.0,135.2 446.3,136.0 446.7,135.4 447.0,136.6 447.4,135.2 447.8,135.5 448.1,133.4 448.4,129.5 448.8,123.8 449.1,118.0 449.5,111.0 449.8,105.9 450.2,101.9 450.5,101.8 450.9,101.6 451.2,103.4 451.6,104.5 451.9,109.4 452.3,106.3 452.6,110.0 453.0,110.3 453.3,111.7 453.7,112.6 454.0,118.5 454.4,120.9 454.8,119.2 455.1,121.9 455.4,121.4 455.8,121.8 456.1,126.9 456.5,126.4 456.8,125.0 457.2,127.5 457.5,128.6 457.9,129.0 458.2,130.2 458.6,130.3 458.9,131.9 459.3,132.3 459.6,133.0 460.0,132.9 460.3,136.6 460.7,134.5 461.0,134.6 461.4,136.2 461.8,136.2 462.1,134.6 462.4,137.7 462.8,135.0 463.1,135.8 463.5,137.3 463.8,136.6 464.2,135.9 464.5,136.9 464.9,135.8 465.2,136.1 465.6,135.4 465.9,135.3 466.3,135.6 466.6,137.1 467.0,136.4 467.3,136.9 467.7,138.4 468.0,136.5 468.4,134.6 468.8,137.1 469.1,139.4 469.4,133.2 469.8,136.7 470.1,135.5 470.5,135.0 470.8,138.1 471.2,135.4 471.5,137.0 471.9,135.2 472.2,136.3 472.6,135.5 472.9,139.0 473.3,136.9 473.6,134.2 474.0,136.5 474.3,139.0 474.7,136.0 475.0,136.7 475.4,136.9 475.8,137.7 476.1,137.7 476.4,136.3 476.8,136.6 477.1,138.1 477.5,135.7 477.8,136.7 478.2,137.5 478.5,136.7 478.9,135.8 479.2,139.3 479.6,137.3 479.9,136.5 480.3,133.1 480.6,138.4 481.0,138.2 481.3,137.0 481.7,137.1 482.0,135.9 482.4,139.7 482.8,138.2 483.1,139.9 483.4,139.9 483.8,134.5 484.1,137.8 484.5,133.2 484.8,137.4 485.2,137.1 485.5,136.2 485.9,138.0 486.2,137.3 486.6,136.8 486.9,136.8 487.3,138.4 487.6,137.8 488.0,138.2 488.3,137.5 488.7,136.4 489.0,136.5 489.4,137.6 489.8,136.3 490.1,136.4 490.4,138.4 490.8,137.6 491.1,137.0 491.5,137.6 491.8,136.7 492.2,139.0 492.5,136.9 492.9,137.3 493.2,135.6 493.6,136.3 493.9,135.5" fill="none" stroke="#111" stroke-width="2.0" stroke-linejoin="round" stroke-linecap="round"/>
<path d="M68.0,188.2 68.3,189.4 68.7,187.8 69.0,187.1 69.4,188.5 69.8,187.7 70.1,188.6 70.5,188.7 70.8,188.3 71.2,187.9 71.5,187.8 71.8,188.2 72.2,188.1 72.5,189.0 72.9,188.8 73.2,187.5 73.6,188.8 74.0,188.3 74.3,189.1 74.7,189.4 75.0,188.8 75.3,187.1 75.7,188.8 76.0,187.3 76.4,189.5 76.8,187.9 77.1,188.2 77.5,189.6 77.8,187.1 78.2,188.4 78.5,187.6 78.8,188.0 79.2,187.8 79.5,188.8 79.9,188.1 80.2,188.6 80.6,188.8 81.0,187.1 81.3,189.3 81.7,188.2 82.0,187.2 82.3,187.9 82.7,188.9 83.0,188.1 83.4,186.4 83.8,182.8 84.1,176.1 84.5,167.3 84.8,158.2 85.2,151.7 85.5,147.6 85.8,146.2 86.2,146.3 86.5,147.0 86.9,148.3 87.2,150.8 87.6,153.5 88.0,157.0 88.3,160.1 88.7,162.5 89.0,165.6 89.3,167.7 89.7,170.4 90.0,172.0 90.4,176.9 90.8,179.4 91.1,182.6 91.5,182.2 91.8,185.9 92.2,186.7 92.5,186.0 92.8,188.0 93.2,188.3 93.5,186.5 93.9,187.8 94.2,188.7 94.6,186.7 95.0,188.3 95.3,188.7 95.7,189.0 96.0,186.7 96.3,186.9 96.7,187.9 97.0,188.6 97.4,186.9 97.8,188.9 98.1,187.0 98.5,188.6 98.8,187.5 99.2,188.3 99.5,188.4 99.8,188.7 100.2,188.2 100.5,188.2 100.9,188.8 101.2,188.3 101.6,187.1 101.9,187.6 102.3,188.7 102.7,188.1 103.0,187.8 103.3,188.2 103.7,190.4 104.0,188.0 104.4,188.4 104.8,188.4 105.1,187.9 105.4,189.0 105.8,188.7 106.2,188.4 106.5,187.2 106.8,189.0 107.2,188.7 107.5,188.1 107.9,186.2 108.2,188.1 108.6,187.3 108.9,188.0 109.3,187.8 109.7,187.6 110.0,188.9 110.3,188.3 110.7,189.1 111.0,187.5 111.4,188.1 111.8,189.2 112.1,188.4 112.4,187.7 112.8,187.6 113.2,187.8 113.5,188.2 113.8,188.7 114.2,188.3 114.5,188.8 114.9,188.8 115.2,188.3 115.6,189.2 115.9,188.8 116.3,189.8 116.7,188.1 117.0,188.2 117.3,187.7 117.7,187.3 118.0,188.3 118.4,187.9 118.8,188.7 119.1,187.8 119.4,188.3 119.8,188.4 120.2,187.9 120.5,188.4 120.8,187.7 121.2,187.9 121.5,188.8 121.9,188.5 122.2,188.2 122.6,187.7 122.9,188.8 123.3,189.7 123.7,186.7 124.0,189.0 124.3,188.4 124.7,189.0 125.0,189.1 125.4,187.5 125.8,189.5 126.1,187.8 126.4,188.1 126.8,188.7 127.2,188.2 127.5,188.4 127.8,187.9 128.2,187.5 128.6,188.3 128.9,187.5 129.2,189.2 129.6,188.4 129.9,189.3 130.3,187.4 130.7,186.8 131.0,186.6 131.3,188.0 131.7,187.3 132.1,188.5 132.4,187.2 132.8,187.3 133.1,188.4 133.4,188.0 133.8,188.7 134.1,188.8 134.5,188.5 134.8,187.4 135.2,187.6 135.6,189.9 135.9,188.1 136.2,188.5 136.6,188.3 136.9,188.2 137.3,188.1 137.6,187.8 138.0,187.9 138.3,186.8 138.7,189.4 139.1,188.2 139.4,187.3 139.8,188.6 140.1,188.7 140.4,187.2 140.8,187.9 141.1,189.3 141.5,188.6 141.8,188.5 142.2,188.9 142.6,188.1 142.9,188.0 143.2,189.4 143.6,188.1 143.9,187.0 144.3,188.7 144.6,188.3 145.0,187.3 145.3,189.6 145.7,188.2 146.1,189.0 146.4,188.6 146.8,187.6 147.1,189.3 147.4,188.1 147.8,187.6 148.1,188.2 148.5,186.7 148.8,188.5 149.2,187.7 149.6,188.0 149.9,187.6 150.2,188.7 150.6,188.5 150.9,189.0 151.3,189.4 151.6,188.4 152.0,188.3 152.3,188.4 152.7,189.1 153.1,187.8 153.4,188.8 153.8,187.6 154.1,186.8 154.4,188.0 154.8,188.4 155.1,189.3 155.5,186.2 155.8,187.5 156.2,188.3 156.6,188.1 156.9,188.4 157.2,187.8 157.6,188.3 157.9,187.8 158.3,188.9 158.6,188.4 159.0,188.6 159.3,187.9 159.7,187.2 160.1,188.2 160.4,188.2 160.8,189.0 161.1,188.9 161.4,188.2 161.8,188.2 162.1,187.5 162.5,188.2 162.8,188.3 163.2,187.9 163.6,187.4 163.9,189.1 164.2,187.5 164.6,189.4 164.9,189.0 165.3,189.3 165.6,187.6 166.0,188.6 166.3,187.2 166.7,187.9 167.1,187.1 167.4,187.7 167.8,187.8 168.1,188.9 168.4,188.9 168.8,187.9 169.1,188.0 169.5,187.5 169.8,187.4 170.2,186.9 170.6,188.0 170.9,188.6 171.2,187.6 171.6,188.4 171.9,187.3 172.3,187.5 172.6,187.8 173.0,188.8 173.3,187.8 173.7,188.7 174.1,187.9 174.4,187.2 174.8,186.4 175.1,182.3 175.4,173.4 175.8,163.1 176.1,155.6 176.5,153.3 176.8,155.4 177.2,158.1 177.6,160.3 177.9,163.1 178.2,166.9 178.6,166.7 178.9,172.0 179.3,175.8 179.6,178.5 180.0,181.5 180.3,184.3 180.7,185.2 181.1,187.8 181.4,187.5 181.8,188.7 182.1,187.0 182.4,187.7 182.8,187.5 183.1,187.2 183.5,187.6 183.8,187.6 184.2,188.0 184.6,187.7 184.9,187.5 185.2,187.9 185.6,188.6 185.9,187.6 186.3,188.0 186.6,187.7 187.0,186.2 187.3,187.0 187.7,187.0 188.1,186.7 188.4,187.3 188.8,186.5 189.1,187.9 189.4,187.4 189.8,188.6 190.1,188.1 190.5,186.9 190.8,187.7 191.2,187.9 191.6,187.4 191.9,187.6 192.2,187.1 192.6,187.4 192.9,188.1 193.3,187.7 193.6,188.7 194.0,186.4 194.3,187.4 194.7,187.7 195.1,189.0 195.4,187.6 195.8,188.5 196.1,188.6 196.4,189.1 196.8,188.4 197.2,187.8 197.5,188.1 197.8,187.5 198.2,187.8 198.5,188.2 198.9,187.6 199.2,188.1 199.6,187.7 199.9,187.1 200.3,187.0 200.7,188.5 201.0,188.0 201.3,188.6 201.7,187.9 202.0,188.0 202.4,188.2 202.8,187.8 203.1,189.0 203.4,190.0 203.8,188.3 204.1,187.3 204.5,187.7 204.8,188.2 205.2,188.8 205.5,188.0 205.9,188.2 206.2,188.4 206.6,188.1 206.9,187.9 207.3,187.2 207.6,188.9 208.0,188.0 208.3,187.7 208.7,188.0 209.0,187.1 209.4,186.9 209.8,186.8 210.1,188.3 210.4,187.1 210.8,188.1 211.1,188.8 211.5,186.8 211.8,187.6 212.2,187.5 212.5,187.5 212.9,189.2 213.2,188.2 213.6,187.4 213.9,188.6 214.3,187.8 214.6,188.9 215.0,186.9 215.3,188.8 215.7,187.3 216.0,187.5 216.4,188.2 216.8,187.3 217.1,186.9 217.4,187.7 217.8,187.8 218.1,186.9 218.5,188.7 218.8,187.4 219.2,187.6 219.5,187.9 219.9,188.0 220.2,188.8 220.6,186.5 220.9,188.0 221.3,188.6 221.6,188.2 222.0,188.0 222.3,187.2 222.7,188.2 223.0,187.7 223.4,188.1 223.8,187.3 224.1,187.8 224.4,187.9 224.8,187.0 225.1,188.7 225.5,187.9 225.8,187.1 226.2,187.8 226.5,188.1 226.9,187.8 227.2,187.3 227.6,187.8 227.9,187.0 228.3,186.8 228.6,188.8 229.0,189.2 229.3,189.3 229.7,189.6 230.0,188.9 230.4,187.3 230.8,186.4 231.1,188.8 231.4,187.7 231.8,187.7 232.1,188.0 232.5,188.3 232.8,187.0 233.2,188.0 233.5,188.3 233.9,186.6 234.2,188.8 234.6,188.5 234.9,187.4 235.3,189.3 235.6,188.3 236.0,188.3 236.3,189.1 236.7,186.2 237.0,188.0 237.4,188.7 237.8,189.0 238.1,188.0 238.4,187.9 238.8,187.4 239.1,187.7 239.5,187.4 239.8,186.3 240.2,187.6 240.5,187.3 240.9,187.6 241.2,187.7 241.6,187.6 241.9,188.0 242.3,187.9 242.6,187.7 243.0,187.5 243.3,187.9 243.7,187.8 244.0,187.9 244.4,188.9 244.8,188.1 245.1,187.7 245.4,186.5 245.8,186.9 246.1,185.9 246.5,188.6 246.8,188.7 247.2,187.7 247.5,187.6 247.9,189.6 248.2,188.4 248.6,186.7 248.9,187.8 249.3,187.7 249.6,187.1 250.0,188.9 250.3,188.5 250.7,187.5 251.0,187.9 251.4,187.6 251.8,187.6 252.1,187.7 252.4,188.7 252.8,188.0 253.1,187.6 253.5,187.5 253.8,188.1 254.2,187.3 254.5,186.8 254.9,187.9 255.2,189.1 255.6,187.5 255.9,188.1 256.3,187.8 256.6,188.8 257.0,188.3 257.4,187.1 257.7,189.2 258.0,187.9 258.4,187.3 258.8,187.6 259.1,188.0 259.4,188.7 259.8,187.7 260.1,187.4 260.5,188.9 260.9,189.0 261.2,187.7 261.5,188.0 261.9,188.2 262.2,187.7 262.6,187.3 262.9,188.7 263.3,187.2 263.6,186.6 264.0,188.3 264.4,188.7 264.7,188.5 265.0,187.4 265.4,187.8 265.8,187.2 266.1,187.6 266.4,186.2 266.8,187.3 267.1,188.9 267.5,187.1 267.9,189.1 268.2,188.0 268.5,186.5 268.9,188.6 269.2,187.3 269.6,188.3 269.9,187.8 270.3,187.7 270.6,187.8 271.0,187.0 271.4,187.4 271.7,187.6 272.0,189.2 272.4,187.5 272.8,188.1 273.1,188.2 273.4,188.8 273.8,187.8 274.1,188.1 274.5,187.3 274.9,189.7 275.2,186.8 275.5,187.4 275.9,184.9 276.2,178.5 276.6,167.7 276.9,157.5 277.3,152.5 277.6,152.4 278.0,154.5 278.4,157.5 278.7,160.6 279.0,163.6 279.4,167.6 279.8,170.3 280.1,173.2 280.4,174.8 280.8,178.9 281.1,181.1 281.5,184.6 281.9,185.7 282.2,186.8 282.5,186.8 282.9,187.6 283.2,187.9 283.6,187.1 283.9,186.0 284.3,187.1 284.6,188.5 285.0,186.7 285.4,187.1 285.7,188.9 286.0,188.4 286.4,187.7 286.8,188.6 287.1,186.4 287.4,188.5 287.8,188.0 288.1,186.2 288.5,185.7 288.9,187.3 289.2,187.4 289.5,187.0 289.9,189.2 290.2,186.9 290.6,188.5 290.9,188.0 291.3,187.6 291.6,187.9 292.0,188.1 292.4,187.0 292.7,187.3 293.0,188.5 293.4,188.3 293.8,187.9 294.1,186.8 294.4,186.5 294.8,188.7 295.1,188.7 295.5,188.0 295.9,188.0 296.2,187.7 296.5,188.1 296.9,188.6 297.2,188.3 297.6,187.3 297.9,188.0 298.3,185.6 298.6,187.7 299.0,187.0 299.4,186.1 299.7,187.0 300.0,187.9 300.4,187.2 300.8,188.2 301.1,187.4 301.4,188.0 301.8,187.5 302.1,188.8 302.5,187.5 302.9,187.8 303.2,188.6 303.5,188.8 303.9,187.0 304.2,188.8 304.6,187.1 304.9,187.1 305.3,187.2 305.6,188.5 306.0,187.1 306.4,188.2 306.7,188.1 307.0,187.7 307.4,188.1 307.8,189.3 308.1,189.0 308.4,187.2 308.8,188.0 309.1,187.6 309.5,187.7 309.9,187.5 310.2,188.2 310.5,187.2 310.9,187.0 311.2,187.9 311.6,188.1 311.9,188.7 312.3,189.4 312.6,187.4 313.0,187.2 313.4,188.1 313.7,188.0 314.0,188.4 314.4,188.8 314.8,186.3 315.1,187.4 315.4,188.2 315.8,187.1 316.1,189.0 316.5,187.8 316.9,188.3 317.2,187.7 317.5,188.1 317.9,188.1 318.2,188.2 318.6,186.9 318.9,186.5 319.3,187.8 319.6,188.4 320.0,187.7 320.4,187.7 320.7,188.6 321.0,188.3 321.4,187.2 321.8,188.0 322.1,187.7 322.4,187.9 322.8,187.8 323.1,188.3 323.5,187.8 323.9,188.1 324.2,187.9 324.6,187.7 324.9,187.4 325.2,188.0 325.6,188.2 325.9,188.9 326.3,189.6 326.6,187.4 327.0,187.4 327.3,188.6 327.7,187.5 328.1,187.9 328.4,187.0 328.8,188.3 329.1,186.8 329.4,188.5 329.8,187.3 330.1,188.0 330.5,188.5 330.8,187.2 331.2,187.8 331.6,189.3 331.9,186.9 332.2,187.9 332.6,186.4 332.9,188.1 333.3,187.7 333.6,187.0 334.0,187.0 334.3,188.7 334.7,188.3 335.1,187.0 335.4,188.4 335.8,187.2 336.1,187.3 336.4,188.1 336.8,189.1 337.1,188.2 337.5,188.6 337.8,187.4 338.2,188.2 338.5,188.0 338.9,186.7 339.2,188.4 339.6,188.5 339.9,186.9 340.3,187.6 340.6,188.5 341.0,188.4 341.3,187.6 341.7,187.7 342.0,187.6 342.4,187.0 342.8,187.9 343.1,189.3 343.4,186.5 343.8,185.8 344.1,180.3 344.5,170.6 344.8,158.7 345.2,151.9 345.5,150.5 345.9,152.3 346.2,155.4 346.6,158.7 346.9,163.0 347.3,165.2 347.6,169.0 348.0,172.1 348.3,174.5 348.7,177.6 349.0,180.7 349.4,184.6 349.8,186.4 350.1,187.1 350.4,186.2 350.8,186.6 351.1,187.3 351.5,186.7 351.8,185.9 352.2,185.9 352.5,187.3 352.9,187.5 353.2,187.4 353.6,188.1 353.9,186.0 354.3,185.9 354.6,187.2 355.0,187.8 355.3,186.6 355.7,187.4 356.0,187.5 356.4,186.9 356.8,186.7 357.1,187.1 357.4,187.3 357.8,187.9 358.1,187.2 358.5,186.7 358.8,186.6 359.2,187.1 359.5,187.8 359.9,186.8 360.2,187.2 360.6,187.8 360.9,187.7 361.3,188.9 361.6,187.8 362.0,188.0 362.3,189.0 362.7,186.2 363.0,186.3 363.4,187.0 363.8,187.6 364.1,188.4 364.4,188.0 364.8,187.2 365.1,186.6 365.5,187.8 365.8,187.4 366.2,186.9 366.5,186.7 366.9,188.1 367.2,186.0 367.6,187.8 367.9,187.5 368.3,187.1 368.6,187.3 369.0,187.2 369.3,187.6 369.7,187.2 370.0,188.1 370.4,186.9 370.8,186.8 371.1,183.4 371.4,174.8 371.8,161.5 372.1,152.0 372.5,148.7 372.8,150.0 373.2,153.1 373.5,156.4 373.9,158.8 374.2,165.2 374.6,166.3 374.9,170.1 375.3,172.3 375.6,176.1 376.0,178.1 376.3,182.7 376.7,184.4 377.0,186.1 377.4,186.7 377.8,187.5 378.1,186.6 378.4,185.8 378.8,186.3 379.1,187.1 379.5,188.0 379.8,185.0 380.2,185.9 380.5,186.3 380.9,186.8 381.2,187.3 381.6,187.9 381.9,187.4 382.3,188.0 382.6,186.6 383.0,186.5 383.3,185.9 383.7,186.5 384.0,187.6 384.4,187.1 384.8,188.5 385.1,186.9 385.4,186.5 385.8,187.6 386.1,185.8 386.5,187.8 386.8,187.5 387.2,186.3 387.5,187.6 387.9,187.4 388.2,188.1 388.6,187.1 388.9,186.9 389.3,187.3 389.6,187.2 390.0,186.6 390.3,188.0 390.7,188.0 391.0,186.8 391.4,187.0 391.8,186.6 392.1,187.0 392.4,186.9 392.8,187.4 393.1,187.9 393.5,188.4 393.8,186.7 394.2,186.9 394.5,186.6 394.9,187.4 395.2,188.0 395.6,186.8 395.9,187.4 396.3,186.7 396.6,186.4 397.0,187.1 397.3,188.0 397.7,187.2 398.0,186.2 398.4,186.7 398.8,187.2 399.1,188.8 399.4,186.6 399.8,189.4 400.1,188.1 400.5,188.3 400.8,188.1 401.2,185.7 401.5,187.6 401.9,187.6 402.2,187.8 402.6,188.4 402.9,187.4 403.3,186.9 403.6,187.8 404.0,187.6 404.3,187.8 404.7,187.2 405.0,187.5 405.4,185.3 405.8,187.6 406.1,188.2 406.4,187.6 406.8,187.5 407.1,189.5 407.5,187.3 407.8,187.4 408.2,188.7 408.5,188.7 408.9,186.3 409.2,187.1 409.6,187.7 409.9,188.1 410.3,186.7 410.6,187.1 411.0,188.0 411.3,188.4 411.7,186.9 412.0,188.3 412.4,187.3 412.8,188.3 413.1,187.9 413.4,187.8 413.8,188.9 414.1,188.1 414.5,187.6 414.8,188.7 415.2,188.7 415.5,188.6 415.9,188.9 416.2,187.9 416.6,186.1 416.9,187.3 417.3,187.7 417.6,187.6 418.0,188.1 418.3,187.8 418.7,189.0 419.0,188.0 419.4,188.3 419.8,188.5 420.1,188.7 420.4,187.3 420.8,188.6 421.1,187.6 421.5,186.2 421.8,188.8 422.2,187.8 422.5,188.5 422.9,186.9 423.2,188.1 423.6,187.1 423.9,189.3 424.3,188.7 424.6,187.6 425.0,185.9 425.3,187.7 425.7,187.8 426.0,187.6 426.4,187.9 426.8,187.4 427.1,188.1 427.4,187.9 427.8,187.1 428.1,188.2 428.5,188.0 428.8,187.5 429.2,187.1 429.5,187.0 429.9,189.3 430.2,189.3 430.6,188.2 430.9,187.3 431.3,187.5 431.6,186.6 432.0,185.2 432.3,183.2 432.7,181.9 433.0,181.3 433.4,181.9 433.8,182.7 434.1,183.5 434.4,184.5 434.8,185.5 435.1,186.4 435.5,187.2 435.8,188.3 436.2,186.5 436.5,187.7 436.9,187.7 437.2,188.2 437.6,187.5 437.9,187.0 438.3,188.2 438.6,188.4 439.0,187.1 439.3,188.4 439.7,187.8 440.0,187.2 440.4,188.1 440.8,185.8 441.1,187.8 441.4,187.0 441.8,187.9 442.1,187.5 442.5,187.8 442.8,188.4 443.2,188.3 443.5,188.3 443.9,187.1 444.2,187.5 444.6,187.6 444.9,187.3 445.3,187.0 445.6,187.6 446.0,188.0 446.3,187.4 446.7,186.8 447.0,188.3 447.4,186.9 447.8,186.3 448.1,181.1 448.4,171.1 448.8,159.0 449.1,150.4 449.5,148.0 449.8,150.1 450.2,152.8 450.5,156.5 450.9,159.9 451.2,163.5 451.6,166.5 451.9,171.1 452.3,173.2 452.6,176.1 453.0,181.8 453.3,182.7 453.7,185.5 454.0,185.9 454.4,186.2 454.8,186.4 455.1,186.1 455.4,186.5 455.8,186.4 456.1,186.3 456.5,186.1 456.8,186.5 457.2,185.1 457.5,187.0 457.9,185.0 458.2,186.6 458.6,186.8 458.9,186.4 459.3,186.9 459.6,188.3 460.0,187.1 460.3,186.6 460.7,187.3 461.0,186.5 461.4,185.7 461.8,186.5 462.1,187.5 462.4,186.9 462.8,187.5 463.1,187.6 463.5,185.8 463.8,186.1 464.2,186.5 464.5,186.3 464.9,187.6 465.2,186.5 465.6,186.4 465.9,188.2 466.3,186.2 466.6,186.3 467.0,188.1 467.3,187.3 467.7,187.1 468.0,187.6 468.4,186.8 468.8,187.0 469.1,187.0 469.4,187.9 469.8,187.2 470.1,186.3 470.5,186.4 470.8,187.7 471.2,186.3 471.5,186.3 471.9,186.9 472.2,186.2 472.6,187.5 472.9,188.8 473.3,188.7 473.6,187.5 474.0,188.4 474.3,187.5 474.7,187.4 475.0,187.9 475.4,187.4 475.8,187.1 476.1,187.3 476.4,187.6 476.8,187.6 477.1,188.1 477.5,186.5 477.8,187.0 478.2,186.6 478.5,188.6 478.9,187.9 479.2,187.6 479.6,186.7 479.9,189.7 480.3,186.7 480.6,186.3 481.0,186.9 481.3,188.3 481.7,187.3 482.0,187.1 482.4,187.0 482.8,188.0 483.1,186.8 483.4,187.0 483.8,187.8 484.1,187.9 484.5,187.4 484.8,187.8 485.2,187.7 485.5,186.0 485.9,187.4 486.2,187.0 486.6,187.3 486.9,187.4 487.3,187.6 487.6,188.0 488.0,186.7 488.3,187.0 488.7,187.1 489.0,187.4 489.4,186.3 489.8,187.5 490.1,188.0 490.4,187.0 490.8,186.2 491.1,187.9 491.5,188.4 491.8,187.8 492.2,188.5 492.5,188.3 492.9,187.4 493.2,187.3 493.6,188.7 493.9,187.9 494.3,187.2 494.6,188.4 495.0,186.9" fill="none" stroke="#111" stroke-width="2.8" stroke-linejoin="round" stroke-linecap="round"/>
<path d="M68.0,236.5 68.3,236.3 68.7,234.6 69.0,234.1 69.4,235.5 69.8,237.6 70.1,235.5 70.5,234.5 70.8,235.2 71.2,236.7 71.5,234.6 71.8,236.4 72.2,236.0 72.5,236.0 72.9,236.2 73.2,235.2 73.6,235.5 74.0,236.9 74.3,235.3 74.7,235.3 75.0,234.5 75.3,235.2 75.7,236.1 76.0,236.5 76.4,236.1 76.8,236.1 77.1,236.6 77.5,235.8 77.8,236.3 78.2,235.5 78.5,236.4 78.8,235.5 79.2,234.4 79.5,234.6 79.9,235.4 80.2,235.3 80.6,234.7 81.0,235.0 81.3,235.7 81.7,235.9 82.0,236.2 82.3,236.2 82.7,235.8 83.0,235.5 83.4,234.4 83.8,231.8 84.1,226.2 84.5,219.1 84.8,211.3 85.2,204.2 85.5,199.4 85.8,197.0 86.2,196.3 86.5,196.8 86.9,198.4 87.2,200.7 87.6,202.9 88.0,205.9 88.3,207.5 88.7,210.7 89.0,212.7 89.3,216.1 89.7,218.3 90.0,220.9 90.4,223.1 90.8,226.3 91.1,229.9 91.5,229.8 91.8,233.4 92.2,234.3 92.5,234.3 92.8,233.7 93.2,236.0 93.5,234.9 93.9,235.5 94.2,234.5 94.6,234.3 95.0,235.7 95.3,235.4 95.7,234.7 96.0,234.8 96.3,235.4 96.7,234.4 97.0,234.4 97.4,235.0 97.8,235.8 98.1,235.7 98.5,236.8 98.8,236.1 99.2,235.0 99.5,234.8 99.8,236.9 100.2,234.8 100.5,235.7 100.9,235.6 101.2,235.3 101.6,235.4 101.9,235.8 102.3,235.7 102.7,234.9 103.0,235.3 103.3,236.3 103.7,235.9 104.0,235.0 104.4,235.4 104.8,234.6 105.1,234.4 105.4,235.0 105.8,236.6 106.2,234.9 106.5,234.0 106.8,235.3 107.2,234.9 107.5,236.0 107.9,236.3 108.2,235.2 108.6,235.5 108.9,234.8 109.3,236.3 109.7,234.9 110.0,235.5 110.3,237.2 110.7,234.8 111.0,235.6 111.4,235.4 111.8,235.8 112.1,235.8 112.4,236.6 112.8,235.9 113.2,235.9 113.5,234.6 113.8,235.8 114.2,234.5 114.5,236.4 114.9,235.5 115.2,236.2 115.6,235.2 115.9,235.7 116.3,235.6 116.7,235.9 117.0,235.4 117.3,235.1 117.7,235.3 118.0,235.1 118.4,234.9 118.8,234.6 119.1,234.5 119.4,236.9 119.8,235.0 120.2,234.7 120.5,236.3 120.8,235.7 121.2,235.4 121.5,236.4 121.9,236.9 122.2,234.9 122.6,236.6 122.9,236.0 123.3,236.4 123.7,235.2 124.0,236.8 124.3,236.4 124.7,233.6 125.0,236.5 125.4,236.5 125.8,234.5 126.1,235.8 126.4,235.4 126.8,235.7 127.2,234.9 127.5,236.0 127.8,236.1 128.2,235.5 128.6,235.5 128.9,234.3 129.2,235.9 129.6,234.6 129.9,235.6 130.3,235.0 130.7,237.4 131.0,235.5 131.3,236.5 131.7,235.5 132.1,235.5 132.4,236.1 132.8,235.5 133.1,237.3 133.4,235.4 133.8,236.7 134.1,234.7 134.5,234.9 134.8,237.6 135.2,234.5 135.6,237.0 135.9,235.9 136.2,235.6 136.6,236.8 136.9,235.2 137.3,235.0 137.6,233.6 138.0,234.1 138.3,235.3 138.7,234.0 139.1,236.1 139.4,236.3 139.8,235.9 140.1,234.3 140.4,234.9 140.8,234.5 141.1,236.1 141.5,236.3 141.8,235.4 142.2,235.6 142.6,235.7 142.9,236.1 143.2,234.9 143.6,234.8 143.9,236.1 144.3,235.9 144.6,235.9 145.0,235.4 145.3,236.1 145.7,235.9 146.1,235.1 146.4,236.8 146.8,236.3 147.1,235.4 147.4,235.5 147.8,235.0 148.1,234.5 148.5,234.8 148.8,234.5 149.2,235.0 149.6,235.8 149.9,235.5 150.2,234.5 150.6,235.4 150.9,235.1 151.3,234.7 151.6,236.3 152.0,234.8 152.3,236.2 152.7,234.3 153.1,235.7 153.4,235.0 153.8,236.2 154.1,235.8 154.4,234.9 154.8,236.0 155.1,236.5 155.5,236.5 155.8,236.6 156.2,235.3 156.6,237.1 156.9,235.1 157.2,235.4 157.6,234.4 157.9,235.4 158.3,234.5 158.6,235.6 159.0,234.2 159.3,236.9 159.7,236.1 160.1,236.7 160.4,236.4 160.8,235.6 161.1,235.9 161.4,235.7 161.8,234.1 162.1,234.7 162.5,235.2 162.8,236.2 163.2,234.5 163.6,235.7 163.9,235.1 164.2,236.1 164.6,236.1 164.9,234.7 165.3,234.7 165.6,236.6 166.0,236.3 166.3,235.5 166.7,236.1 167.1,235.6 167.4,235.9 167.8,235.2 168.1,235.9 168.4,236.8 168.8,236.6 169.1,236.5 169.5,235.6 169.8,236.2 170.2,235.2 170.6,235.3 170.9,235.6 171.2,234.7 171.6,235.7 171.9,234.2 172.3,236.7 172.6,236.1 173.0,235.7 173.3,235.0 173.7,235.1 174.1,235.2 174.4,234.3 174.8,235.1 175.1,233.8 175.4,230.3 175.8,223.6 176.1,215.6 176.5,209.2 176.8,207.1 177.2,208.7 177.6,210.9 177.9,213.6 178.2,216.5 178.6,220.6 178.9,222.9 179.3,224.6 179.6,227.1 180.0,228.5 180.3,231.8 180.7,234.5 181.1,234.8 181.4,235.3 181.8,234.5 182.1,235.2 182.4,234.3 182.8,234.6 183.1,235.6 183.5,236.1 183.8,234.6 184.2,234.7 184.6,234.7 184.9,234.8 185.2,235.0 185.6,235.6 185.9,235.3 186.3,235.0 186.6,235.4 187.0,233.8 187.3,235.0 187.7,236.6 188.1,235.3 188.4,234.7 188.8,235.4 189.1,235.9 189.4,235.0 189.8,234.4 190.1,236.4 190.5,233.5 190.8,234.6 191.2,234.7 191.6,233.5 191.9,236.3 192.2,236.7 192.6,234.1 192.9,235.0 193.3,235.1 193.6,235.8 194.0,235.2 194.3,235.7 194.7,235.7 195.1,235.2 195.4,235.4 195.8,236.4 196.1,235.5 196.4,235.8 196.8,235.3 197.2,235.9 197.5,236.6 197.8,235.4 198.2,235.0 198.5,234.8 198.9,236.2 199.2,236.4 199.6,235.8 199.9,237.3 200.3,235.6 200.7,236.8 201.0,235.4 201.3,235.4 201.7,235.9 202.0,234.8 202.4,233.6 202.8,235.4 203.1,234.9 203.4,235.6 203.8,236.9 204.1,235.9 204.5,234.3 204.8,235.8 205.2,234.1 205.5,233.8 205.9,237.0 206.2,234.7 206.6,233.8 206.9,235.4 207.3,235.3 207.6,235.8 208.0,235.3 208.3,235.3 208.7,236.1 209.0,235.3 209.4,234.9 209.8,235.7 210.1,235.0 210.4,236.3 210.8,235.5 211.1,235.3 211.5,235.1 211.8,235.9 212.2,236.2 212.5,235.2 212.9,233.8 213.2,236.1 213.6,234.9 213.9,235.9 214.3,235.0 214.6,234.9 215.0,235.3 215.3,234.9 215.7,234.5 216.0,235.4 216.4,235.6 216.8,234.2 217.1,233.6 217.4,235.7 217.8,238.4 218.1,234.9 218.5,235.3 218.8,234.6 219.2,234.5 219.5,236.6 219.9,234.2 220.2,235.7 220.6,234.9 220.9,235.9 221.3,236.7 221.6,235.6 222.0,235.2 222.3,236.3 222.7,235.2 223.0,234.0 223.4,236.5 223.8,235.1 224.1,235.6 224.4,237.2 224.8,236.2 225.1,235.7 225.5,236.7 225.8,234.8 226.2,234.2 226.5,234.6 226.9,235.5 227.2,234.7 227.6,234.9 227.9,237.1 228.3,236.1 228.6,235.6 229.0,234.9 229.3,235.4 229.7,235.7 230.0,235.2 230.4,237.7 230.8,236.8 231.1,236.0 231.4,235.5 231.8,234.1 232.1,236.3 232.5,234.9 232.8,236.3 233.2,235.8 233.5,234.5 233.9,235.5 234.2,235.3 234.6,235.3 234.9,235.4 235.3,235.5 235.6,235.3 236.0,236.1 236.3,235.3 236.7,235.3 237.0,235.4 237.4,235.2 237.8,235.2 238.1,235.3 238.4,235.6 238.8,235.2 239.1,234.0 239.5,235.5 239.8,234.8 240.2,235.4 240.5,237.4 240.9,236.2 241.2,233.6 241.6,234.1 241.9,236.2 242.3,234.9 242.6,234.3 243.0,234.1 243.3,235.3 243.7,234.8 244.0,235.4 244.4,235.2 244.8,235.5 245.1,235.1 245.4,234.8 245.8,236.0 246.1,236.6 246.5,234.8 246.8,235.3 247.2,237.0 247.5,234.6 247.9,234.6 248.2,235.9 248.6,236.1 248.9,235.4 249.3,236.3 249.6,235.4 250.0,235.6 250.3,235.4 250.7,235.7 251.0,235.5 251.4,236.5 251.8,236.0 252.1,236.7 252.4,235.3 252.8,234.8 253.1,235.0 253.5,235.1 253.8,235.7 254.2,235.1 254.5,235.7 254.9,235.8 255.2,234.6 255.6,234.4 255.9,236.4 256.3,233.3 256.6,236.9 257.0,235.2 257.4,234.4 257.7,234.5 258.0,234.8 258.4,238.0 258.8,234.0 259.1,233.6 259.4,234.7 259.8,235.5 260.1,237.1 260.5,236.2 260.9,234.3 261.2,236.6 261.5,236.4 261.9,234.9 262.2,235.9 262.6,235.7 262.9,235.3 263.3,235.1 263.6,235.0 264.0,235.8 264.4,235.0 264.7,236.1 265.0,236.0 265.4,234.2 265.8,235.7 266.1,235.3 266.4,236.0 266.8,235.2 267.1,236.3 267.5,236.1 267.9,236.1 268.2,235.9 268.5,234.4 268.9,235.4 269.2,236.3 269.6,236.1 269.9,235.9 270.3,235.4 270.6,235.4 271.0,234.4 271.4,234.1 271.7,235.3 272.0,236.1 272.4,235.2 272.8,235.0 273.1,235.3 273.4,236.4 273.8,235.0 274.1,235.4 274.5,235.7 274.9,236.2 275.2,235.7 275.5,235.1 275.9,234.2 276.2,231.5 276.6,227.0 276.9,221.7 277.3,217.4 277.6,215.9 278.0,216.5 278.4,218.2 278.7,220.3 279.0,222.4 279.4,224.1 279.8,226.3 280.1,228.4 280.4,229.4 280.8,231.6 281.1,231.3 281.5,234.5 281.9,234.4 282.2,235.0 282.5,234.2 282.9,234.7 283.2,234.0 283.6,234.9 283.9,234.2 284.3,235.7 284.6,234.7 285.0,235.1 285.4,234.5 285.7,234.9 286.0,234.5 286.4,234.4 286.8,235.5 287.1,234.6 287.4,234.2 287.8,234.8 288.1,236.8 288.5,235.9 288.9,235.3 289.2,235.4 289.5,235.4 289.9,235.5 290.2,236.9 290.6,236.4 290.9,235.4 291.3,233.9 291.6,234.5 292.0,235.4 292.4,236.1 292.7,235.6 293.0,235.0 293.4,235.6 293.8,235.6 294.1,234.9 294.4,234.3 294.8,235.1 295.1,235.7 295.5,234.6 295.9,235.4 296.2,236.2 296.5,235.1 296.9,235.2 297.2,234.5 297.6,235.5 297.9,235.5 298.3,233.9 298.6,236.5 299.0,235.6 299.4,236.1 299.7,235.1 300.0,235.7 300.4,234.7 300.8,236.0 301.1,236.5 301.4,234.7 301.8,234.8 302.1,235.6 302.5,235.4 302.9,236.0 303.2,233.4 303.5,235.0 303.9,235.8 304.2,235.6 304.6,234.6 304.9,235.9 305.3,235.5 305.6,235.4 306.0,235.2 306.4,235.3 306.7,235.8 307.0,234.3 307.4,232.8 307.8,235.9 308.1,233.6 308.4,235.5 308.8,235.4 309.1,235.7 309.5,234.6 309.9,235.8 310.2,235.2 310.5,235.0 310.9,235.2 311.2,234.8 311.6,236.6 311.9,234.9 312.3,235.4 312.6,235.1 313.0,235.5 313.4,235.4 313.7,235.2 314.0,235.4 314.4,237.0 314.8,235.6 315.1,236.2 315.4,235.3 315.8,235.3 316.1,235.8 316.5,235.3 316.9,235.7 317.2,235.9 317.5,233.7 317.9,235.5 318.2,235.1 318.6,234.2 318.9,234.4 319.3,234.3 319.6,236.2 320.0,236.3 320.4,235.4 320.7,235.3 321.0,234.6 321.4,237.0 321.8,236.5 322.1,235.6 322.4,234.8 322.8,235.3 323.1,234.9 323.5,234.5 323.9,234.6 324.2,234.7 324.6,234.9 324.9,235.7 325.2,234.7 325.6,235.7 325.9,234.6 326.3,236.1 326.6,236.4 327.0,237.1 327.3,236.1 327.7,235.1 328.1,235.2 328.4,237.5 328.8,234.6 329.1,235.5 329.4,236.3 329.8,235.4 330.1,235.8 330.5,236.7 330.8,236.1 331.2,235.4 331.6,235.8 331.9,235.6 332.2,235.9 332.6,235.8 332.9,235.2 333.3,235.5 333.6,235.6 334.0,235.3 334.3,235.0 334.7,236.1 335.1,233.7 335.4,235.2 335.8,236.2 336.1,235.6 336.4,234.5 336.8,234.7 337.1,236.9 337.5,235.9 337.8,235.3 338.2,235.5 338.5,235.2 338.9,235.7 339.2,234.7 339.6,235.5 339.9,235.3 340.3,235.5 340.6,236.1 341.0,234.1 341.3,236.3 341.7,235.5 342.0,235.5 342.4,235.4 342.8,235.7 343.1,236.2 343.4,235.0 343.8,235.0 344.1,233.5 344.5,229.0 344.8,221.8 345.2,213.2 345.5,207.8 345.9,206.0 346.2,207.3 346.6,209.5 346.9,211.5 347.3,214.9 347.6,217.0 348.0,219.2 348.3,221.2 348.7,224.3 349.0,226.2 349.4,228.9 349.8,231.1 350.1,233.0 350.4,233.8 350.8,233.4 351.1,234.7 351.5,232.1 351.8,234.8 352.2,234.6 352.5,234.6 352.9,234.3 353.2,235.0 353.6,235.1 353.9,234.4 354.3,234.4 354.6,234.1 355.0,232.3 355.3,235.2 355.7,234.8 356.0,236.0 356.4,233.8 356.8,234.1 357.1,235.1 357.4,234.6 357.8,234.7 358.1,234.4 358.5,236.0 358.8,234.8 359.2,235.3 359.5,235.9 359.9,234.2 360.2,234.8 360.6,234.3 360.9,235.7 361.3,233.8 361.6,234.8 362.0,234.7 362.3,235.8 362.7,236.4 363.0,235.2 363.4,236.6 363.8,235.7 364.1,234.2 364.4,235.1 364.8,234.4 365.1,235.8 365.5,235.5 365.8,235.4 366.2,234.6 366.5,235.1 366.9,234.3 367.2,235.2 367.6,236.3 367.9,235.1 368.3,236.3 368.6,235.4 369.0,235.0 369.3,235.7 369.7,234.2 370.0,236.8 370.4,235.5 370.8,234.4 371.1,235.5 371.4,233.3 371.8,228.9 372.1,219.9 372.5,208.4 372.8,198.9 373.2,195.1 373.5,196.0 373.9,198.7 374.2,201.9 374.6,205.6 374.9,209.2 375.3,211.6 375.6,214.2 376.0,217.8 376.3,220.5 376.7,224.3 377.0,228.1 377.4,229.7 377.8,232.4 378.1,232.8 378.4,233.8 378.8,232.6 379.1,233.0 379.5,233.7 379.8,234.1 380.2,233.9 380.5,231.7 380.9,233.8 381.2,232.6 381.6,233.9 381.9,233.4 382.3,233.4 382.6,233.8 383.0,234.6 383.3,234.3 383.7,234.7 384.0,234.4 384.4,234.1 384.8,235.0 385.1,235.9 385.4,234.0 385.8,234.6 386.1,233.5 386.5,234.6 386.8,234.0 387.2,235.6 387.5,235.0 387.9,234.9 388.2,235.6 388.6,235.0 388.9,232.7 389.3,236.0 389.6,236.1 390.0,235.0 390.3,235.8 390.7,235.3 391.0,233.8 391.4,233.8 391.8,236.0 392.1,235.6 392.4,237.2 392.8,236.4 393.1,234.9 393.5,235.6 393.8,235.5 394.2,235.6 394.5,235.4 394.9,234.7 395.2,235.3 395.6,233.7 395.9,235.4 396.3,234.8 396.6,234.6 397.0,235.4 397.3,235.4 397.7,235.4 398.0,234.6 398.4,234.7 398.8,235.0 399.1,235.1 399.4,234.9 399.8,234.4 400.1,235.3 400.5,234.7 400.8,235.1 401.2,234.4 401.5,233.5 401.9,235.3 402.2,235.5 402.6,235.1 402.9,235.9 403.3,235.1 403.6,235.1 404.0,236.1 404.3,235.5 404.7,234.7 405.0,235.3 405.4,234.9 405.8,234.5 406.1,235.7 406.4,235.1 406.8,234.8 407.1,235.2 407.5,236.7 407.8,236.4 408.2,236.2 408.5,234.4 408.9,234.1 409.2,235.2 409.6,235.3 409.9,235.7 410.3,235.4 410.6,235.8 411.0,234.5 411.3,235.8 411.7,235.1 412.0,235.9 412.4,235.7 412.8,234.0 413.1,235.2 413.4,236.2 413.8,236.1 414.1,235.9 414.5,234.9 414.8,234.9 415.2,235.8 415.5,234.4 415.9,235.8 416.2,235.1 416.6,236.0 416.9,236.3 417.3,235.3 417.6,234.7 418.0,234.8 418.3,235.4 418.7,233.2 419.0,235.7 419.4,235.2 419.8,236.0 420.1,236.7 420.4,233.6 420.8,234.3 421.1,235.2 421.5,234.1 421.8,235.2 422.2,236.7 422.5,234.4 422.9,235.9 423.2,234.9 423.6,235.9 423.9,234.4 424.3,235.6 424.6,235.2 425.0,235.1 425.3,233.9 425.7,235.2 426.0,235.3 426.4,234.2 426.8,237.0 427.1,235.3 427.4,234.6 427.8,235.4 428.1,235.0 428.5,235.2 428.8,234.3 429.2,235.9 429.5,235.2 429.9,234.9 430.2,235.8 430.6,234.5 430.9,235.6 431.3,235.5 431.6,236.0 432.0,236.2 432.3,235.6 432.7,235.6 433.0,234.7 433.4,233.4 433.8,235.9 434.1,235.8 434.4,234.3 434.8,233.5 435.1,234.3 435.5,234.2 435.8,235.4 436.2,235.8 436.5,234.8 436.9,234.3 437.2,235.7 437.6,236.7 437.9,234.1 438.3,234.7 438.6,235.6 439.0,235.4 439.3,234.1 439.7,234.7 440.0,235.2 440.4,236.1 440.8,235.6 441.1,236.5 441.4,234.4 441.8,235.2 442.1,234.5 442.5,236.3 442.8,234.1 443.2,234.9 443.5,236.1 443.9,234.9 444.2,235.6 444.6,234.7 444.9,235.3 445.3,237.2 445.6,234.6 446.0,235.2 446.3,235.7 446.7,235.8 447.0,236.8 447.4,234.4 447.8,234.6 448.1,231.2 448.4,223.9 448.8,213.8 449.1,204.4 449.5,199.8 449.8,199.3 450.2,201.4 450.5,204.5 450.9,207.0 451.2,210.3 451.6,212.5 451.9,216.7 452.3,219.4 452.6,222.0 453.0,225.1 453.3,228.2 453.7,231.0 454.0,233.1 454.4,234.4 454.8,235.5 455.1,234.9 455.4,234.2 455.8,234.2 456.1,234.2 456.5,235.0 456.8,233.9 457.2,235.0 457.5,233.5 457.9,233.3 458.2,233.9 458.6,235.0 458.9,234.5 459.3,233.5 459.6,232.4 460.0,234.9 460.3,235.3 460.7,234.2 461.0,233.8 461.4,234.7 461.8,234.5 462.1,234.8 462.4,235.9 462.8,234.7 463.1,233.7 463.5,235.3 463.8,233.6 464.2,236.8 464.5,234.9 464.9,235.2 465.2,235.1 465.6,234.8 465.9,234.2 466.3,235.1 466.6,234.8 467.0,233.0 467.3,235.5 467.7,234.2 468.0,235.8 468.4,235.9 468.8,234.0 469.1,234.7 469.4,235.8 469.8,235.2 470.1,234.1 470.5,233.4 470.8,235.9 471.2,235.0 471.5,236.2 471.9,234.9 472.2,235.2 472.6,235.1 472.9,233.5 473.3,235.4 473.6,234.3 474.0,234.1 474.3,234.6 474.7,235.2 475.0,233.4 475.4,235.3 475.8,235.1 476.1,236.2 476.4,234.9 476.8,235.7 477.1,235.5 477.5,235.6 477.8,235.6 478.2,235.9 478.5,236.1 478.9,235.6 479.2,234.1 479.6,235.9 479.9,235.4 480.3,235.1 480.6,236.1 481.0,235.1 481.3,235.3 481.7,234.1 482.0,236.6 482.4,235.6 482.8,235.1 483.1,235.2 483.4,234.9 483.8,234.7 484.1,236.4 484.5,235.0 484.8,234.0 485.2,235.4 485.5,235.2 485.9,236.2 486.2,235.5 486.6,234.7 486.9,234.6 487.3,235.5 487.6,235.6 488.0,235.3 488.3,234.9 488.7,234.1 489.0,234.4 489.4,235.2 489.8,234.5 490.1,235.0 490.4,234.7 490.8,235.0 491.1,236.3 491.5,235.9 491.8,235.8 492.2,235.1 492.5,235.0 492.9,236.5 493.2,235.6 493.6,235.8 493.9,233.3 494.3,236.3 494.6,236.1 495.0,234.3" fill="none" stroke="#111" stroke-width="2.8" stroke-linejoin="round" stroke-linecap="round"/>
<text x="47.6" y="88.9" font-size="15.5" font-weight="normal" font-style="normal" text-anchor="start" >L</text>
<text x="47.5" y="135.2" font-size="15.5" font-weight="normal" font-style="normal" text-anchor="start" >R</text>
<text x="47.6" y="189.5" font-size="15.5" font-weight="normal" font-style="normal" text-anchor="start" >L</text>
<text x="47.5" y="235.4" font-size="15.5" font-weight="normal" font-style="normal" text-anchor="start" >R</text>
<text x="0" y="113.9" font-size="15.5" font-weight="normal" font-style="normal" text-anchor="start" >VII</text>
<path d="M0,215.4 C1.4,215.7 2.0,214.8 2.1,212.8 L2.4,202.5 C2.5,200.7 3.1,200.1 4.2,200.5" fill="none" stroke="#1a1a1a" stroke-width="1.15"/>
<text x="3.9" y="214.8" font-size="15.5" font-weight="normal" font-style="normal" text-anchor="start" >C4</text>
<rect x="37.75" y="82.7" width="1.5" height="51.1" fill="#111"/>
<rect x="37.75" y="183.5" width="1.5" height="50.6" fill="#111"/>
<line x1="487.9" y1="59.5" x2="487.9" y2="83.8" stroke="#111" stroke-width="3.3" stroke-linecap="round"/>
<line x1="448.9" y1="251.95" x2="492.1" y2="251.95" stroke="#111" stroke-width="3.7" stroke-linecap="round"/>
<text x="455.4" y="270.3" font-size="15.5" font-weight="normal" font-style="normal" text-anchor="start" >10 s</text>
<text x="0" y="311.2" font-size="23" font-weight="bold" font-style="normal" text-anchor="start" >c</text>
<text x="83.6" y="327.2" font-size="15.5" font-weight="normal" font-style="normal" text-anchor="start" >E15.5</text>
<text x="195.3" y="326.9" font-size="15.5" font-style="italic">Dbx1<tspan font-size="10.2" dy="-4.5">cre</tspan><tspan dy="4.5">; Robo3</tspan><tspan font-size="10.2" dy="-4.5">lox/lox</tspan></text>
<line x1="78.5" y1="338" x2="78.5" y2="567" stroke="#8c8c8c" stroke-width="1.0"/>
<line x1="110.5" y1="338" x2="110.5" y2="567" stroke="#8c8c8c" stroke-width="1.0"/>
<line x1="217.5" y1="338" x2="217.5" y2="567" stroke="#8c8c8c" stroke-width="1.0"/>
<line x1="265.8" y1="338" x2="265.8" y2="567" stroke="#8c8c8c" stroke-width="1.0"/>
<line x1="282.6" y1="338" x2="282.6" y2="567" stroke="#8c8c8c" stroke-width="1.0"/>
<line x1="364" y1="338" x2="364" y2="567" stroke="#8c8c8c" stroke-width="1.0"/>
<line x1="401.5" y1="338" x2="401.5" y2="567" stroke="#8c8c8c" stroke-width="1.0"/>
<line x1="413.6" y1="338" x2="413.6" y2="567" stroke="#8c8c8c" stroke-width="1.0"/>
<line x1="444.8" y1="338" x2="444.8" y2="567" stroke="#8c8c8c" stroke-width="1.0"/>
<polygon points="78.8,341.5 86.2,341.5 82.5,353.8" fill="#111" stroke="#111" stroke-width="0.5"/>
<polygon points="113.2,341.5 120.8,341.5 117.0,353.8" fill="#fff" stroke="#222" stroke-width="1.1"/>
<polygon points="267.6,341.5 275.1,341.5 271.4,353.8" fill="#fff" stroke="#222" stroke-width="1.1"/>
<polygon points="283.2,341.5 290.8,341.5 287.0,353.8" fill="#111" stroke="#111" stroke-width="0.5"/>
<polygon points="364.6,341.5 372.1,341.5 368.4,353.8" fill="#fff" stroke="#222" stroke-width="1.1"/>
<polygon points="402.6,341.5 410.1,341.5 406.3,353.8" fill="#111" stroke="#111" stroke-width="0.5"/>
<polygon points="418.2,341.5 425.8,341.5 422.0,353.8" fill="#111" stroke="#111" stroke-width="0.5"/>
<polygon points="446.2,341.5 453.8,341.5 450.0,353.8" fill="#fff" stroke="#222" stroke-width="1.1"/>
<text x="222.9" y="358.6" font-size="11.5" text-anchor="middle">*</text>
<path d="M68.0,396.5 68.3,396.2 68.7,396.3 69.0,395.7 69.4,396.7 69.8,396.5 70.1,397.9 70.5,395.3 70.8,400.0 71.2,392.8 71.5,397.0 71.8,398.2 72.2,396.9 72.5,396.3 72.9,397.3 73.2,398.2 73.6,399.0 74.0,395.4 74.3,397.7 74.7,396.6 75.0,398.8 75.3,396.8 75.7,397.6 76.0,398.8 76.4,397.0 76.8,397.7 77.1,396.4 77.5,397.0 77.8,394.9 78.2,396.2 78.5,396.6 78.8,396.3 79.2,397.2 79.5,394.3 79.9,391.2 80.2,386.9 80.6,380.1 81.0,372.3 81.3,365.8 81.7,361.4 82.0,358.7 82.3,358.9 82.7,361.3 83.0,364.4 83.4,367.1 83.8,369.4 84.1,372.9 84.5,375.5 84.8,375.5 85.2,380.7 85.5,381.5 85.8,384.4 86.2,385.9 86.5,388.2 86.9,390.5 87.2,389.8 87.6,390.9 88.0,392.2 88.3,392.0 88.7,390.8 89.0,393.0 89.3,391.8 89.7,392.1 90.0,393.0 90.4,394.8 90.8,392.0 91.1,392.8 91.5,393.6 91.8,392.4 92.2,394.0 92.5,395.6 92.8,391.9 93.2,392.5 93.5,393.6 93.9,397.3 94.2,395.6 94.6,395.6 95.0,394.8 95.3,393.7 95.7,395.2 96.0,395.7 96.3,395.5 96.7,397.7 97.0,396.5 97.4,394.4 97.8,395.1 98.1,395.9 98.5,394.0 98.8,395.3 99.2,394.8 99.5,395.9 99.8,396.0 100.2,395.1 100.5,397.7 100.9,395.3 101.2,397.0 101.6,395.0 101.9,395.1 102.3,395.5 102.7,395.9 103.0,397.7 103.3,394.7 103.7,398.9 104.0,395.2 104.4,398.7 104.8,397.2 105.1,396.3 105.4,398.1 105.8,396.4 106.2,399.0 106.5,397.1 106.8,400.7 107.2,395.7 107.5,399.5 107.9,396.8 108.2,396.3 108.6,396.5 108.9,398.7 109.3,396.8 109.7,396.2 110.0,398.1 110.3,397.8 110.7,398.7 111.0,395.7 111.4,399.3 111.8,399.0 112.1,396.5 112.4,397.0 112.8,398.0 113.2,397.2 113.5,398.7 113.8,398.3 114.2,397.5 114.5,396.2 114.9,395.1 115.2,397.7 115.6,396.0 115.9,399.1 116.3,399.9 116.7,397.8 117.0,398.8 117.3,399.3 117.7,398.6 118.0,396.2 118.4,396.4 118.8,397.0 119.1,397.8 119.4,396.6 119.8,397.9 120.2,399.4 120.5,397.2 120.8,397.7 121.2,396.4 121.5,397.5 121.9,398.8 122.2,399.3 122.6,397.9 122.9,396.7 123.3,400.4 123.7,395.2 124.0,397.3 124.3,396.8 124.7,397.8 125.0,398.5 125.4,397.2 125.8,402.4 126.1,400.4 126.4,398.9 126.8,397.2 127.2,395.8 127.5,399.4 127.8,398.9 128.2,398.5 128.6,399.7 128.9,398.5 129.2,395.9 129.6,395.3 129.9,397.2 130.3,397.8 130.7,398.6 131.0,398.2 131.3,397.6 131.7,396.8 132.1,398.5 132.4,398.8 132.8,397.1 133.1,396.6 133.4,397.3 133.8,396.7 134.1,396.7 134.5,396.5 134.8,398.4 135.2,396.9 135.6,398.7 135.9,401.2 136.2,396.7 136.6,398.2 136.9,401.2 137.3,399.3 137.6,398.4 138.0,398.8 138.3,397.7 138.7,396.1 139.1,394.6 139.4,397.1 139.8,397.1 140.1,399.3 140.4,399.3 140.8,395.8 141.1,398.6 141.5,396.4 141.8,399.7 142.2,396.8 142.6,399.3 142.9,398.4 143.2,397.6 143.6,399.7 143.9,398.0 144.3,395.2 144.6,399.0 145.0,397.2 145.3,398.0 145.7,398.9 146.1,399.5 146.4,398.7 146.8,397.2 147.1,397.6 147.4,397.0 147.8,398.2 148.1,397.6 148.5,399.5 148.8,397.6 149.2,399.8 149.6,401.0 149.9,399.3 150.2,400.0 150.6,400.1 150.9,397.4 151.3,398.5 151.6,400.3 152.0,399.4 152.3,398.3 152.7,398.1 153.1,397.8 153.4,400.4 153.8,401.0 154.1,400.5 154.4,398.6 154.8,398.9 155.1,397.3 155.5,396.9 155.8,399.1 156.2,399.2 156.6,396.7 156.9,396.7 157.2,398.7 157.6,396.6 157.9,399.7 158.3,400.0 158.6,397.0 159.0,398.1 159.3,399.6 159.7,399.7 160.1,398.3 160.4,398.1 160.8,398.0 161.1,399.1 161.4,399.3 161.8,398.3 162.1,397.9 162.5,398.4 162.8,398.2 163.2,398.0 163.6,396.8 163.9,398.5 164.2,399.4 164.6,398.4 164.9,399.9 165.3,398.9 165.6,399.4 166.0,399.5 166.3,395.8 166.7,399.4 167.1,399.9 167.4,396.9 167.8,395.9 168.1,397.0 168.4,397.9 168.8,398.8 169.1,396.4 169.5,398.1 169.8,396.9 170.2,398.9 170.6,398.4 170.9,398.9 171.2,397.9 171.6,398.1 171.9,400.0 172.3,397.3 172.6,398.7 173.0,397.9 173.3,398.3 173.7,397.7 174.1,400.3 174.4,400.1 174.8,398.4 175.1,401.3 175.4,399.0 175.8,400.8 176.1,397.3 176.5,398.0 176.8,397.9 177.2,401.4 177.6,399.9 177.9,398.1 178.2,398.9 178.6,398.4 178.9,398.5 179.3,397.4 179.6,399.8 180.0,399.0 180.3,397.5 180.7,399.0 181.1,399.7 181.4,398.8 181.8,398.1 182.1,399.3 182.4,399.6 182.8,401.2 183.1,398.0 183.5,399.2 183.8,398.7 184.2,398.2 184.6,398.8 184.9,397.0 185.2,397.9 185.6,397.2 185.9,399.3 186.3,398.5 186.6,397.8 187.0,398.5 187.3,399.9 187.7,398.7 188.1,395.9 188.4,402.1 188.8,398.7 189.1,400.2 189.4,397.8 189.8,398.8 190.1,399.5 190.5,399.8 190.8,398.7 191.2,401.7 191.6,398.4 191.9,398.9 192.2,402.1 192.6,399.5 192.9,397.1 193.3,400.1 193.6,399.8 194.0,400.9 194.3,401.6 194.7,399.3 195.1,400.8 195.4,399.4 195.8,398.0 196.1,398.2 196.4,398.2 196.8,397.4 197.2,401.3 197.5,398.3 197.8,397.5 198.2,399.1 198.5,397.7 198.9,400.7 199.2,401.8 199.6,400.0 199.9,399.6 200.3,399.0 200.7,400.1 201.0,400.5 201.3,400.7 201.7,398.7 202.0,399.5 202.4,397.2 202.8,399.4 203.1,400.4 203.4,400.7 203.8,398.1 204.1,397.4 204.5,401.9 204.8,399.4 205.2,399.0 205.5,399.7 205.9,398.9 206.2,399.9 206.6,400.1 206.9,398.4 207.3,397.5 207.6,398.6 208.0,395.1 208.3,400.5 208.7,398.4 209.0,397.9 209.4,399.8 209.8,400.1 210.1,398.8 210.4,398.1 210.8,397.1 211.1,398.2 211.5,398.3 211.8,397.2 212.2,399.1 212.5,399.6 212.9,398.7 213.2,401.9 213.6,399.4 213.9,399.9 214.3,403.9 214.6,401.4 215.0,399.5 215.3,399.7 215.7,399.1 216.0,399.7 216.4,399.1 216.8,397.4 217.1,397.4 217.4,400.2 217.8,401.4 218.1,399.2 218.5,398.4 218.8,397.1 219.2,395.4 219.5,391.4 219.9,385.6 220.2,378.9 220.6,372.7 220.9,368.2 221.3,364.8 221.6,363.5 222.0,363.6 222.3,365.7 222.7,367.8 223.0,368.6 223.4,373.8 223.8,372.8 224.1,377.6 224.4,378.3 224.8,379.6 225.1,382.7 225.5,381.9 225.8,386.9 226.2,386.1 226.5,387.8 226.9,390.5 227.2,391.5 227.6,391.4 227.9,394.8 228.3,393.4 228.6,395.7 229.0,395.4 229.3,396.9 229.7,397.6 230.0,397.3 230.4,396.3 230.8,399.0 231.1,398.3 231.4,396.6 231.8,397.2 232.1,397.1 232.5,401.0 232.8,398.1 233.2,399.8 233.5,398.8 233.9,399.0 234.2,398.3 234.6,395.5 234.9,398.0 235.3,398.6 235.6,397.5 236.0,400.6 236.3,398.8 236.7,398.5 237.0,395.8 237.4,400.0 237.8,400.2 238.1,397.0 238.4,397.3 238.8,400.3 239.1,397.4 239.5,399.5 239.8,398.7 240.2,400.9 240.5,399.1 240.9,398.4 241.2,398.9 241.6,396.6 241.9,399.0 242.3,401.1 242.6,399.0 243.0,399.7 243.3,399.4 243.7,400.3 244.0,400.1 244.4,400.8 244.8,398.0 245.1,396.8 245.4,400.6 245.8,398.7 246.1,399.2 246.5,401.3 246.8,398.7 247.2,401.6 247.5,399.4 247.9,396.8 248.2,399.3 248.6,399.5 248.9,399.5 249.3,399.0 249.6,402.4 250.0,401.2 250.3,400.5 250.7,398.8 251.0,399.3 251.4,400.1 251.8,401.5 252.1,397.6 252.4,401.3 252.8,401.2 253.1,400.0 253.5,400.1 253.8,398.8 254.2,399.3 254.5,401.1 254.9,400.3 255.2,401.0 255.6,400.4 255.9,398.9 256.3,400.8 256.6,401.7 257.0,401.9 257.4,400.4 257.7,397.5 258.0,400.5 258.4,397.0 258.8,401.4 259.1,398.2 259.4,397.8 259.8,400.7 260.1,400.0 260.5,399.5 260.9,401.2 261.2,399.0 261.5,400.0 261.9,399.9 262.2,400.1 262.6,400.0 262.9,399.9 263.3,396.9 263.6,398.7 264.0,399.6 264.4,398.3 264.7,400.6 265.0,399.1 265.4,398.3 265.8,400.3 266.1,398.4 266.4,398.8 266.8,399.3 267.1,399.0 267.5,400.1 267.9,400.8 268.2,398.7 268.5,400.1 268.9,399.2 269.2,399.4 269.6,398.5 269.9,400.3 270.3,399.1 270.6,399.2 271.0,398.9 271.4,398.4 271.7,400.2 272.0,399.3 272.4,397.9 272.8,400.9 273.1,401.7 273.4,398.7 273.8,400.7 274.1,398.9 274.5,399.9 274.9,400.7 275.2,398.6 275.5,398.4 275.9,399.1 276.2,400.1 276.6,400.6 276.9,399.0 277.3,400.0 277.6,402.2 278.0,400.1 278.4,398.0 278.7,400.4 279.0,398.2 279.4,399.0 279.8,398.9 280.1,401.1 280.4,402.3 280.8,401.4 281.1,401.1 281.5,398.8 281.9,401.5 282.2,401.3 282.5,398.2 282.9,402.0 283.2,399.8 283.6,399.4 283.9,400.0 284.3,399.0 284.6,396.7 285.0,394.2 285.4,390.1 285.7,384.1 286.0,378.6 286.4,372.5 286.8,367.7 287.1,364.8 287.4,363.7 287.8,364.4 288.1,365.9 288.5,367.6 288.9,369.4 289.2,372.5 289.5,373.4 289.9,373.3 290.2,378.0 290.6,381.5 290.9,379.9 291.3,383.0 291.6,384.6 292.0,388.2 292.4,386.2 292.7,387.3 293.0,389.3 293.4,392.3 293.8,392.4 294.1,395.4 294.4,395.2 294.8,396.5 295.1,396.4 295.5,398.7 295.9,397.9 296.2,397.7 296.5,396.0 296.9,400.5 297.2,399.1 297.6,400.3 297.9,396.8 298.3,398.2 298.6,398.2 299.0,397.6 299.4,398.8 299.7,398.7 300.0,400.0 300.4,399.7 300.8,397.3 301.1,400.1 301.4,398.8 301.8,400.8 302.1,400.3 302.5,400.1 302.9,398.1 303.2,399.4 303.5,401.0 303.9,399.3 304.2,400.5 304.6,397.5 304.9,398.2 305.3,399.2 305.6,398.7 306.0,398.0 306.4,400.1 306.7,399.1 307.0,399.5 307.4,399.0 307.8,400.5 308.1,396.7 308.4,396.6 308.8,399.7 309.1,400.8 309.5,399.5 309.9,399.9 310.2,399.0 310.5,400.6 310.9,399.9 311.2,398.5 311.6,401.4 311.9,398.8 312.3,397.3 312.6,400.9 313.0,399.4 313.4,399.7 313.7,397.7 314.0,400.0 314.4,399.5 314.8,399.3 315.1,401.4 315.4,399.8 315.8,400.9 316.1,399.0 316.5,399.8 316.9,398.9 317.2,400.6 317.5,400.9 317.9,400.4 318.2,399.7 318.6,398.0 318.9,399.6 319.3,400.4 319.6,400.4 320.0,400.9 320.4,402.3 320.7,399.8 321.0,400.0 321.4,400.5 321.8,401.4 322.1,402.0 322.4,400.8 322.8,399.5 323.1,400.4 323.5,400.4 323.9,401.9 324.2,398.6 324.6,400.7 324.9,400.3 325.2,401.0 325.6,400.2 325.9,401.3 326.3,400.1 326.6,400.2 327.0,403.0 327.3,398.8 327.7,402.5 328.1,400.6 328.4,399.6 328.8,401.5 329.1,401.7 329.4,400.1 329.8,399.5 330.1,401.3 330.5,398.6 330.8,399.7 331.2,399.0 331.6,401.1 331.9,401.4 332.2,401.3 332.6,399.4 332.9,399.7 333.3,398.7 333.6,400.5 334.0,399.3 334.3,400.2 334.7,398.6 335.1,400.3 335.4,402.6 335.8,399.9 336.1,400.3 336.4,399.2 336.8,399.2 337.1,400.2 337.5,398.7 337.8,399.3 338.2,401.1 338.5,397.5 338.9,400.5 339.2,399.0 339.6,399.5 339.9,400.6 340.3,399.3 340.6,401.4 341.0,398.9 341.3,400.5 341.7,403.8 342.0,400.6 342.4,399.4 342.8,401.1 343.1,401.0 343.4,399.1 343.8,400.3 344.1,399.7 344.5,399.9 344.8,400.2 345.2,398.0 345.5,400.2 345.9,400.1 346.2,402.1 346.6,400.3 346.9,399.1 347.3,401.2 347.6,402.2 348.0,402.4 348.3,398.2 348.7,402.9 349.0,400.2 349.4,399.1 349.8,402.1 350.1,400.9 350.4,399.3 350.8,401.1 351.1,400.2 351.5,400.5 351.8,398.6 352.2,400.7 352.5,401.3 352.9,400.5 353.2,400.3 353.6,399.8 353.9,403.3 354.3,400.7 354.6,399.5 355.0,401.4 355.3,401.2 355.7,400.9 356.0,399.3 356.4,400.1 356.8,400.1 357.1,401.7 357.4,400.5 357.8,399.3 358.1,397.5 358.5,401.1 358.8,400.6 359.2,399.0 359.5,400.4 359.9,399.9 360.2,401.1 360.6,401.1 360.9,402.0 361.3,400.0 361.6,399.6 362.0,401.5 362.3,400.3 362.7,399.4 363.0,398.3 363.4,400.4 363.8,402.2 364.1,401.0 364.4,401.6 364.8,402.0 365.1,403.3 365.5,401.0 365.8,402.3 366.2,401.5 366.5,401.3 366.9,401.0 367.2,402.2 367.6,401.1 367.9,402.1 368.3,401.3 368.6,400.6 369.0,401.4 369.3,401.0 369.7,402.0 370.0,401.1 370.4,401.7 370.8,400.8 371.1,399.9 371.4,402.1 371.8,402.8 372.1,402.3 372.5,400.7 372.8,400.6 373.2,401.5 373.5,400.0 373.9,403.6 374.2,402.0 374.6,402.2 374.9,401.3 375.3,402.3 375.6,402.8 376.0,400.5 376.3,400.5 376.7,402.1 377.0,402.8 377.4,400.6 377.8,402.8 378.1,402.7 378.4,400.9 378.8,404.3 379.1,401.3 379.5,401.7 379.8,402.7 380.2,401.8 380.5,401.8 380.9,401.1 381.2,401.3 381.6,401.5 381.9,399.5 382.3,403.5 382.6,401.1 383.0,401.6 383.3,400.5 383.7,402.4 384.0,401.3 384.4,403.9 384.8,399.9 385.1,401.4 385.4,399.1 385.8,402.2 386.1,403.6 386.5,401.6 386.8,402.1 387.2,403.3 387.5,402.6 387.9,401.3 388.2,399.9 388.6,402.0 388.9,401.7 389.3,402.2 389.6,399.7 390.0,401.0 390.3,404.2 390.7,401.2 391.0,401.5 391.4,402.7 391.8,401.5 392.1,399.0 392.4,402.3 392.8,402.5 393.1,401.1 393.5,402.3 393.8,401.0 394.2,402.1 394.5,401.5 394.9,402.4 395.2,402.9 395.6,401.2 395.9,403.9 396.3,401.2 396.6,401.9 397.0,401.0 397.3,401.6 397.7,404.5 398.0,401.8 398.4,402.1 398.8,402.0 399.1,401.7 399.4,402.4 399.8,400.1 400.1,402.6 400.5,400.8 400.8,402.9 401.2,402.5 401.5,401.3 401.9,400.2 402.2,398.7 402.6,395.1 402.9,389.9 403.3,385.1 403.6,379.6 404.0,373.9 404.3,369.9 404.7,367.1 405.0,365.1 405.4,365.3 405.8,367.0 406.1,368.8 406.4,370.5 406.8,374.5 407.1,374.5 407.5,377.5 407.8,376.1 408.2,381.8 408.5,382.7 408.9,386.5 409.2,386.4 409.6,390.6 409.9,388.6 410.3,393.0 410.6,391.4 411.0,394.1 411.3,390.6 411.7,396.0 412.0,397.5 412.4,397.3 412.8,398.7 413.1,400.9 413.4,398.9 413.8,398.7 414.1,401.2 414.5,399.2 414.8,397.5 415.2,394.7 415.5,389.6 415.9,384.2 416.2,379.8 416.6,376.8 416.9,375.8 417.3,376.7 417.6,377.6 418.0,379.1 418.3,382.7 418.7,384.4 419.0,383.5 419.4,386.2 419.8,389.1 420.1,387.8 420.4,388.6 420.8,390.2 421.1,393.1 421.5,394.1 421.8,397.7 422.2,397.0 422.5,399.5 422.9,399.1 423.2,398.2 423.6,399.8 423.9,400.1 424.3,399.2 424.6,400.2 425.0,400.7 425.3,400.2 425.7,399.6 426.0,400.8 426.4,400.4 426.8,401.1 427.1,402.2 427.4,400.0 427.8,400.4 428.1,405.1 428.5,400.9 428.8,400.9 429.2,400.7 429.5,402.3 429.9,401.8 430.2,402.4 430.6,402.2 430.9,402.1 431.3,401.5 431.6,400.9 432.0,401.1 432.3,403.0 432.7,404.8 433.0,401.2 433.4,402.1 433.8,404.2 434.1,404.7 434.4,401.8 434.8,400.1 435.1,402.7 435.5,402.8 435.8,406.3 436.2,402.3 436.5,404.4 436.9,401.4 437.2,404.8 437.6,403.1 437.9,403.1 438.3,402.8 438.6,403.8 439.0,403.1 439.3,402.7 439.7,402.3 440.0,402.6 440.4,401.5 440.8,399.9 441.1,403.4 441.4,401.9 441.8,401.2 442.1,403.5 442.5,402.1 442.8,402.3 443.2,400.4 443.5,403.6 443.9,402.2 444.2,403.2 444.6,400.9 444.9,403.9 445.3,401.4 445.6,403.1 446.0,402.2 446.3,402.9 446.7,404.2 447.0,400.0 447.4,402.6 447.8,400.6 448.1,401.5 448.4,403.8 448.8,401.3 449.1,401.9 449.5,401.1 449.8,399.9 450.2,401.7 450.5,401.3 450.9,405.1 451.2,401.7 451.6,401.8 451.9,401.7 452.3,403.1 452.6,405.2 453.0,402.7 453.3,403.4 453.7,402.4 454.0,405.2 454.4,403.9 454.8,400.3 455.1,404.4 455.4,401.7 455.8,401.0 456.1,401.5 456.5,399.8 456.8,401.5 457.2,402.7 457.5,403.2 457.9,403.0 458.2,401.4 458.6,404.0 458.9,402.1 459.3,402.2 459.6,402.5 460.0,402.2 460.3,403.3 460.7,403.5 461.0,403.0 461.4,402.1 461.8,400.5 462.1,405.0 462.4,403.7 462.8,401.5 463.1,402.5 463.5,406.7 463.8,403.7 464.2,402.3 464.5,402.2 464.9,401.7 465.2,404.1 465.6,403.3 465.9,403.1 466.3,404.1 466.6,402.4 467.0,403.3 467.3,403.5 467.7,400.5 468.0,406.4 468.4,401.9 468.8,402.3 469.1,402.9 469.4,402.6 469.8,402.7 470.1,402.6 470.5,401.3 470.8,402.2 471.2,402.5 471.5,401.2 471.9,399.6 472.2,404.4 472.6,403.2 472.9,402.6 473.3,403.6 473.6,403.0 474.0,402.3 474.3,403.4 474.7,403.0 475.0,403.6 475.4,403.0 475.8,404.1 476.1,404.5 476.4,405.6 476.8,402.7 477.1,400.6 477.5,402.6 477.8,403.6 478.2,404.1 478.5,404.9 478.9,403.3 479.2,403.9 479.6,402.2 479.9,403.9 480.3,402.8 480.6,404.4 481.0,403.2 481.3,401.3 481.7,402.9 482.0,404.3 482.4,406.1 482.8,401.8 483.1,402.5 483.4,403.8 483.8,403.5 484.1,404.4 484.5,403.6 484.8,402.7 485.2,401.2 485.5,402.6 485.9,405.0 486.2,403.9 486.6,404.0 486.9,403.8 487.3,402.1 487.6,403.6 488.0,403.1 488.3,404.0 488.7,401.4 489.0,405.0 489.4,404.1 489.8,402.4 490.1,404.8 490.4,404.4 490.8,401.2 491.1,403.4 491.5,402.2 491.8,403.4" fill="none" stroke="#111" stroke-width="1.9" stroke-linejoin="round" stroke-linecap="round"/>
<path d="M68.0,444.5 68.3,446.4 68.7,444.2 69.0,446.0 69.4,443.9 69.8,446.5 70.1,445.4 70.5,447.3 70.8,446.6 71.2,445.6 71.5,445.2 71.8,446.1 72.2,446.6 72.5,444.4 72.9,446.2 73.2,442.3 73.6,445.4 74.0,448.1 74.3,446.1 74.7,443.7 75.0,446.9 75.3,445.7 75.7,444.7 76.0,444.7 76.4,445.6 76.8,446.6 77.1,445.3 77.5,447.7 77.8,444.9 78.2,446.7 78.5,443.8 78.8,443.3 79.2,445.7 79.5,446.1 79.9,448.1 80.2,445.4 80.6,446.2 81.0,444.4 81.3,446.0 81.7,446.5 82.0,445.2 82.3,447.1 82.7,447.5 83.0,446.6 83.4,445.7 83.8,445.5 84.1,446.5 84.5,444.6 84.8,447.2 85.2,445.3 85.5,446.4 85.8,444.7 86.2,444.9 86.5,445.1 86.9,446.7 87.2,446.1 87.6,446.2 88.0,447.4 88.3,445.0 88.7,447.4 89.0,445.5 89.3,445.1 89.7,445.7 90.0,447.7 90.4,448.4 90.8,445.7 91.1,444.9 91.5,444.2 91.8,446.2 92.2,446.7 92.5,446.7 92.8,446.5 93.2,448.0 93.5,446.3 93.9,446.8 94.2,446.0 94.6,445.1 95.0,443.6 95.3,446.4 95.7,445.6 96.0,445.2 96.3,445.5 96.7,446.4 97.0,446.6 97.4,443.6 97.8,446.0 98.1,447.0 98.5,446.8 98.8,446.1 99.2,446.6 99.5,444.4 99.8,446.8 100.2,446.0 100.5,446.5 100.9,447.2 101.2,446.6 101.6,445.0 101.9,444.0 102.3,445.9 102.7,446.4 103.0,446.6 103.3,447.7 103.7,446.9 104.0,446.8 104.4,444.3 104.8,447.4 105.1,446.7 105.4,449.1 105.8,447.6 106.2,445.8 106.5,446.9 106.8,447.5 107.2,445.5 107.5,444.7 107.9,447.4 108.2,446.2 108.6,446.6 108.9,447.0 109.3,446.5 109.7,447.9 110.0,447.3 110.3,447.3 110.7,448.2 111.0,447.0 111.4,445.5 111.8,446.9 112.1,445.0 112.4,445.9 112.8,444.1 113.2,441.9 113.5,438.3 113.8,433.1 114.2,427.0 114.5,421.4 114.9,417.3 115.2,414.6 115.6,412.5 115.9,411.0 116.3,411.4 116.7,411.3 117.0,411.7 117.3,412.6 117.7,412.9 118.0,415.2 118.4,416.5 118.8,419.5 119.1,420.1 119.4,421.3 119.8,425.9 120.2,429.6 120.5,430.9 120.8,433.5 121.2,436.6 121.5,438.6 121.9,440.3 122.2,441.8 122.6,445.5 122.9,444.2 123.3,445.6 123.7,447.2 124.0,447.3 124.3,444.0 124.7,445.2 125.0,444.7 125.4,446.0 125.8,442.0 126.1,444.7 126.4,446.4 126.8,446.9 127.2,445.0 127.5,446.8 127.8,446.4 128.2,445.5 128.6,448.4 128.9,446.8 129.2,444.0 129.6,447.1 129.9,447.1 130.3,448.8 130.7,446.3 131.0,449.4 131.3,447.1 131.7,447.9 132.1,446.9 132.4,447.8 132.8,448.7 133.1,447.2 133.4,446.5 133.8,448.0 134.1,446.9 134.5,447.6 134.8,448.5 135.2,447.5 135.6,447.7 135.9,447.5 136.2,447.3 136.6,448.2 136.9,448.7 137.3,447.6 137.6,445.1 138.0,445.5 138.3,448.3 138.7,449.3 139.1,449.2 139.4,447.0 139.8,447.9 140.1,446.9 140.4,448.0 140.8,447.4 141.1,446.3 141.5,448.3 141.8,447.6 142.2,450.2 142.6,449.0 142.9,445.7 143.2,450.6 143.6,446.4 143.9,446.7 144.3,447.2 144.6,445.7 145.0,451.1 145.3,448.3 145.7,446.1 146.1,448.7 146.4,444.5 146.8,448.9 147.1,447.7 147.4,447.8 147.8,450.6 148.1,447.9 148.5,448.4 148.8,446.5 149.2,448.2 149.6,447.3 149.9,448.4 150.2,447.5 150.6,448.3 150.9,447.2 151.3,446.3 151.6,446.9 152.0,449.1 152.3,447.4 152.7,447.9 153.1,447.2 153.4,448.7 153.8,444.9 154.1,444.2 154.4,448.3 154.8,446.7 155.1,449.0 155.5,446.5 155.8,446.8 156.2,448.2 156.6,448.5 156.9,447.0 157.2,449.0 157.6,446.9 157.9,447.6 158.3,446.3 158.6,444.7 159.0,446.6 159.3,446.7 159.7,446.5 160.1,450.5 160.4,445.6 160.8,448.3 161.1,449.5 161.4,448.5 161.8,448.4 162.1,447.1 162.5,447.0 162.8,449.5 163.2,449.9 163.6,447.2 163.9,448.5 164.2,446.6 164.6,448.9 164.9,447.2 165.3,449.3 165.6,447.6 166.0,448.4 166.3,447.3 166.7,449.3 167.1,447.7 167.4,448.8 167.8,447.8 168.1,449.0 168.4,448.5 168.8,451.0 169.1,446.9 169.5,449.0 169.8,447.3 170.2,448.2 170.6,445.8 170.9,449.5 171.2,445.0 171.6,448.9 171.9,446.0 172.3,447.5 172.6,448.6 173.0,447.0 173.3,448.4 173.7,448.0 174.1,447.3 174.4,448.6 174.8,450.0 175.1,448.6 175.4,448.2 175.8,448.2 176.1,448.0 176.5,449.8 176.8,449.2 177.2,448.0 177.6,448.7 177.9,447.0 178.2,448.2 178.6,448.6 178.9,448.2 179.3,448.1 179.6,449.4 180.0,449.0 180.3,448.9 180.7,445.1 181.1,448.3 181.4,447.1 181.8,447.3 182.1,448.1 182.4,448.7 182.8,445.5 183.1,449.8 183.5,448.4 183.8,447.6 184.2,446.4 184.6,446.0 184.9,449.5 185.2,446.7 185.6,447.4 185.9,447.5 186.3,447.6 186.6,450.8 187.0,450.1 187.3,446.6 187.7,446.8 188.1,449.9 188.4,448.3 188.8,446.8 189.1,447.4 189.4,449.4 189.8,447.9 190.1,448.1 190.5,452.9 190.8,448.9 191.2,447.2 191.6,449.0 191.9,446.9 192.2,447.4 192.6,447.8 192.9,446.8 193.3,448.5 193.6,448.3 194.0,448.0 194.3,449.3 194.7,449.6 195.1,448.1 195.4,449.8 195.8,450.0 196.1,447.7 196.4,449.3 196.8,446.9 197.2,446.7 197.5,448.2 197.8,449.5 198.2,451.1 198.5,448.3 198.9,449.8 199.2,446.7 199.6,448.7 199.9,450.0 200.3,447.7 200.7,448.7 201.0,448.9 201.3,450.7 201.7,446.9 202.0,447.3 202.4,449.5 202.8,449.7 203.1,449.1 203.4,448.0 203.8,448.7 204.1,451.3 204.5,448.3 204.8,449.9 205.2,450.2 205.5,447.5 205.9,448.1 206.2,449.7 206.6,448.6 206.9,448.9 207.3,447.9 207.6,448.5 208.0,448.5 208.3,451.0 208.7,449.0 209.0,449.0 209.4,450.3 209.8,449.1 210.1,448.7 210.4,449.6 210.8,446.0 211.1,448.4 211.5,449.1 211.8,448.5 212.2,448.4 212.5,448.7 212.9,447.5 213.2,450.1 213.6,448.1 213.9,449.9 214.3,447.5 214.6,452.0 215.0,449.1 215.3,446.4 215.7,446.9 216.0,447.2 216.4,448.6 216.8,448.5 217.1,451.0 217.4,451.2 217.8,447.0 218.1,448.3 218.5,446.4 218.8,448.0 219.2,449.1 219.5,448.3 219.9,447.1 220.2,445.2 220.6,441.0 220.9,436.9 221.3,433.3 221.6,430.6 222.0,428.6 222.3,428.5 222.7,429.4 223.0,429.7 223.4,431.5 223.8,431.5 224.1,435.5 224.4,434.1 224.8,438.1 225.1,442.7 225.5,441.5 225.8,442.6 226.2,444.8 226.5,446.0 226.9,446.4 227.2,446.9 227.6,448.3 227.9,448.7 228.3,447.6 228.6,449.0 229.0,447.9 229.3,448.4 229.7,448.2 230.0,446.9 230.4,446.4 230.8,451.8 231.1,447.6 231.4,448.0 231.8,449.0 232.1,450.0 232.5,448.7 232.8,447.8 233.2,450.0 233.5,449.7 233.9,448.2 234.2,449.0 234.6,449.1 234.9,451.8 235.3,449.5 235.6,447.9 236.0,449.3 236.3,447.4 236.7,448.6 237.0,450.6 237.4,450.7 237.8,449.9 238.1,448.7 238.4,449.0 238.8,448.2 239.1,449.1 239.5,447.2 239.8,445.9 240.2,447.3 240.5,448.7 240.9,447.9 241.2,448.2 241.6,449.8 241.9,448.5 242.3,449.9 242.6,449.7 243.0,447.8 243.3,451.3 243.7,450.5 244.0,448.1 244.4,449.3 244.8,449.0 245.1,449.2 245.4,450.5 245.8,448.7 246.1,448.1 246.5,449.7 246.8,447.8 247.2,449.1 247.5,450.6 247.9,449.8 248.2,448.2 248.6,448.4 248.9,450.4 249.3,451.2 249.6,448.3 250.0,448.8 250.3,448.1 250.7,447.5 251.0,447.7 251.4,448.6 251.8,450.6 252.1,450.7 252.4,451.6 252.8,448.5 253.1,447.7 253.5,450.1 253.8,447.3 254.2,448.4 254.5,450.7 254.9,450.6 255.2,450.6 255.6,448.3 255.9,450.5 256.3,449.9 256.6,448.5 257.0,450.2 257.4,451.5 257.7,448.7 258.0,452.1 258.4,450.1 258.8,449.1 259.1,446.6 259.4,448.3 259.8,448.4 260.1,447.9 260.5,450.2 260.9,450.4 261.2,449.4 261.5,449.3 261.9,449.1 262.2,448.3 262.6,448.9 262.9,451.7 263.3,448.4 263.6,450.5 264.0,450.4 264.4,449.3 264.7,450.4 265.0,449.2 265.4,449.2 265.8,449.3 266.1,450.9 266.4,449.4 266.8,446.2 267.1,448.7 267.5,447.4 267.9,445.4 268.2,442.2 268.5,438.1 268.9,433.9 269.2,428.3 269.6,423.3 269.9,418.4 270.3,415.4 270.6,413.1 271.0,411.8 271.4,411.3 271.7,410.9 272.0,410.9 272.4,411.5 272.8,412.5 273.1,413.3 273.4,415.7 273.8,418.7 274.1,417.6 274.5,421.0 274.9,424.4 275.2,424.5 275.5,429.5 275.9,432.0 276.2,437.3 276.6,437.4 276.9,441.0 277.3,443.3 277.6,442.6 278.0,444.4 278.4,448.2 278.7,446.9 279.0,450.1 279.4,447.5 279.8,447.2 280.1,448.1 280.4,450.4 280.8,448.8 281.1,452.1 281.5,446.8 281.9,448.0 282.2,449.5 282.5,449.1 282.9,448.6 283.2,449.6 283.6,447.8 283.9,450.3 284.3,449.2 284.6,448.6 285.0,448.7 285.4,448.5 285.7,449.1 286.0,446.5 286.4,448.7 286.8,448.0 287.1,448.0 287.4,450.9 287.8,449.7 288.1,448.8 288.5,449.1 288.9,451.6 289.2,449.5 289.5,448.5 289.9,449.6 290.2,449.8 290.6,448.9 290.9,451.8 291.3,448.8 291.6,449.2 292.0,449.9 292.4,450.2 292.7,449.2 293.0,450.1 293.4,450.9 293.8,450.7 294.1,449.9 294.4,449.9 294.8,451.9 295.1,450.3 295.5,449.7 295.9,449.6 296.2,452.1 296.5,448.9 296.9,452.2 297.2,449.7 297.6,450.4 297.9,449.5 298.3,450.5 298.6,450.5 299.0,449.0 299.4,448.7 299.7,447.5 300.0,448.1 300.4,450.1 300.8,449.6 301.1,449.4 301.4,449.2 301.8,449.1 302.1,450.4 302.5,449.4 302.9,449.5 303.2,451.5 303.5,449.9 303.9,449.8 304.2,449.5 304.6,449.3 304.9,450.9 305.3,450.6 305.6,448.2 306.0,449.3 306.4,449.3 306.7,446.7 307.0,450.9 307.4,448.2 307.8,449.9 308.1,450.0 308.4,448.9 308.8,448.7 309.1,452.9 309.5,449.4 309.9,448.9 310.2,448.5 310.5,449.2 310.9,448.6 311.2,447.7 311.6,450.5 311.9,448.3 312.3,450.5 312.6,450.6 313.0,450.5 313.4,450.3 313.7,448.4 314.0,450.1 314.4,449.5 314.8,450.2 315.1,449.4 315.4,451.5 315.8,450.4 316.1,450.9 316.5,453.0 316.9,449.0 317.2,449.9 317.5,448.5 317.9,448.7 318.2,447.9 318.6,451.0 318.9,449.1 319.3,452.5 319.6,450.8 320.0,450.5 320.4,452.8 320.7,450.8 321.0,449.4 321.4,450.0 321.8,452.6 322.1,451.2 322.4,449.0 322.8,451.2 323.1,450.8 323.5,450.9 323.9,449.3 324.2,448.2 324.6,447.8 324.9,448.6 325.2,449.4 325.6,448.9 325.9,449.2 326.3,450.2 326.6,449.0 327.0,449.9 327.3,448.3 327.7,450.3 328.1,452.5 328.4,450.6 328.8,449.7 329.1,448.7 329.4,452.3 329.8,451.4 330.1,451.6 330.5,449.5 330.8,451.4 331.2,450.0 331.6,450.4 331.9,447.4 332.2,450.2 332.6,450.8 332.9,452.2 333.3,452.4 333.6,452.1 334.0,451.4 334.3,450.6 334.7,450.6 335.1,452.3 335.4,448.7 335.8,450.3 336.1,448.3 336.4,449.3 336.8,450.6 337.1,451.1 337.5,448.3 337.8,449.5 338.2,447.7 338.5,451.1 338.9,450.0 339.2,452.4 339.6,447.8 339.9,449.6 340.3,452.3 340.6,449.2 341.0,450.1 341.3,447.7 341.7,448.4 342.0,451.2 342.4,448.4 342.8,448.7 343.1,451.6 343.4,451.6 343.8,450.9 344.1,447.1 344.5,448.6 344.8,450.0 345.2,447.6 345.5,448.4 345.9,449.1 346.2,450.8 346.6,447.5 346.9,446.4 347.3,448.3 347.6,446.8 348.0,449.0 348.3,450.3 348.7,451.2 349.0,448.3 349.4,449.6 349.8,449.3 350.1,450.5 350.4,449.7 350.8,447.8 351.1,449.7 351.5,450.4 351.8,449.9 352.2,452.3 352.5,447.7 352.9,451.2 353.2,450.1 353.6,452.0 353.9,450.4 354.3,449.9 354.6,449.8 355.0,449.9 355.3,450.3 355.7,452.5 356.0,451.9 356.4,449.5 356.8,449.6 357.1,449.8 357.4,450.1 357.8,449.3 358.1,452.0 358.5,450.4 358.8,451.1 359.2,451.0 359.5,450.3 359.9,449.5 360.2,449.7 360.6,448.5 360.9,450.1 361.3,450.5 361.6,451.9 362.0,449.9 362.3,451.7 362.7,449.6 363.0,449.5 363.4,450.7 363.8,448.5 364.1,449.8 364.4,447.4 364.8,449.8 365.1,451.7 365.5,449.4 365.8,448.1 366.2,446.1 366.5,441.9 366.9,435.5 367.2,429.7 367.6,423.2 367.9,417.9 368.3,412.7 368.6,409.4 369.0,408.5 369.3,408.5 369.7,408.7 370.0,409.2 370.4,410.8 370.8,412.2 371.1,416.6 371.4,418.7 371.8,419.7 372.1,425.7 372.5,428.5 372.8,430.2 373.2,433.9 373.5,435.5 373.9,437.9 374.2,442.9 374.6,444.8 374.9,447.4 375.3,448.4 375.6,448.7 376.0,451.5 376.3,446.5 376.7,449.1 377.0,450.8 377.4,448.9 377.8,449.3 378.1,450.4 378.4,451.1 378.8,451.5 379.1,451.5 379.5,450.6 379.8,449.3 380.2,450.4 380.5,450.1 380.9,452.4 381.2,451.6 381.6,447.8 381.9,447.6 382.3,449.0 382.6,448.7 383.0,448.8 383.3,451.2 383.7,451.2 384.0,450.4 384.4,450.9 384.8,450.8 385.1,450.0 385.4,451.4 385.8,450.2 386.1,452.0 386.5,450.1 386.8,450.3 387.2,449.6 387.5,452.9 387.9,451.5 388.2,452.5 388.6,450.4 388.9,450.2 389.3,448.3 389.6,452.2 390.0,449.9 390.3,450.4 390.7,450.5 391.0,449.6 391.4,448.3 391.8,450.0 392.1,454.0 392.4,451.0 392.8,450.7 393.1,450.6 393.5,450.4 393.8,450.7 394.2,449.6 394.5,449.4 394.9,448.9 395.2,450.4 395.6,451.6 395.9,451.2 396.3,453.1 396.6,449.9 397.0,449.3 397.3,449.2 397.7,451.9 398.0,448.2 398.4,452.0 398.8,450.9 399.1,452.8 399.4,450.7 399.8,449.7 400.1,449.3 400.5,452.6 400.8,451.5 401.2,450.4 401.5,450.7 401.9,451.4 402.2,451.5 402.6,450.3 402.9,451.5 403.3,449.5 403.6,449.1 404.0,451.4 404.3,449.3 404.7,449.7 405.0,449.9 405.4,450.1 405.8,449.0 406.1,452.8 406.4,451.8 406.8,454.4 407.1,450.6 407.5,450.5 407.8,451.6 408.2,452.9 408.5,449.9 408.9,452.1 409.2,451.7 409.6,450.5 409.9,450.4 410.3,451.5 410.6,450.5 411.0,451.2 411.3,450.0 411.7,451.5 412.0,450.8 412.4,452.4 412.8,451.2 413.1,449.7 413.4,450.0 413.8,450.7 414.1,449.5 414.5,449.7 414.8,451.0 415.2,447.5 415.5,449.4 415.9,450.9 416.2,448.0 416.6,451.5 416.9,448.9 417.3,450.3 417.6,451.9 418.0,449.0 418.3,451.1 418.7,450.0 419.0,451.1 419.4,453.1 419.8,449.2 420.1,449.3 420.4,449.9 420.8,451.7 421.1,451.8 421.5,452.1 421.8,451.1 422.2,449.8 422.5,451.9 422.9,450.1 423.2,450.1 423.6,451.1 423.9,451.0 424.3,450.2 424.6,452.3 425.0,451.2 425.3,451.5 425.7,452.7 426.0,451.0 426.4,452.4 426.8,448.6 427.1,450.6 427.4,450.0 427.8,449.4 428.1,450.7 428.5,449.2 428.8,451.5 429.2,452.1 429.5,448.7 429.9,451.5 430.2,451.7 430.6,451.8 430.9,448.4 431.3,450.5 431.6,452.4 432.0,451.1 432.3,450.7 432.7,451.4 433.0,450.4 433.4,449.2 433.8,450.9 434.1,450.3 434.4,450.7 434.8,449.7 435.1,450.0 435.5,450.2 435.8,448.7 436.2,449.0 436.5,451.1 436.9,451.8 437.2,451.0 437.6,447.1 437.9,450.0 438.3,452.9 438.6,449.8 439.0,451.1 439.3,450.5 439.7,454.9 440.0,450.2 440.4,452.2 440.8,450.0 441.1,451.0 441.4,451.4 441.8,448.8 442.1,452.0 442.5,451.1 442.8,451.9 443.2,447.6 443.5,448.9 443.9,450.8 444.2,448.3 444.6,450.4 444.9,449.0 445.3,449.9 445.6,449.9 446.0,448.6 446.3,447.1 446.7,443.9 447.0,439.9 447.4,436.4 447.8,431.0 448.1,427.2 448.4,423.9 448.8,421.0 449.1,420.0 449.5,418.1 449.8,417.4 450.2,418.2 450.5,418.3 450.9,419.1 451.2,421.0 451.6,420.1 451.9,422.6 452.3,425.4 452.6,432.0 453.0,431.2 453.3,432.8 453.7,436.2 454.0,439.4 454.4,442.1 454.8,442.4 455.1,446.4 455.4,445.5 455.8,448.5 456.1,449.0 456.5,449.2 456.8,449.2 457.2,451.8 457.5,451.1 457.9,451.4 458.2,450.2 458.6,454.2 458.9,450.1 459.3,448.7 459.6,450.4 460.0,450.1 460.3,453.6 460.7,452.1 461.0,449.5 461.4,449.7 461.8,451.3 462.1,453.3 462.4,450.8 462.8,449.7 463.1,450.0 463.5,452.2 463.8,451.5 464.2,452.9 464.5,450.3 464.9,451.9 465.2,451.8 465.6,453.7 465.9,450.9 466.3,449.6 466.6,449.2 467.0,449.4 467.3,449.6 467.7,449.0 468.0,450.6 468.4,452.1 468.8,449.5 469.1,451.9 469.4,450.3 469.8,451.3 470.1,448.9 470.5,450.4 470.8,448.2 471.2,448.0 471.5,451.0 471.9,450.2 472.2,450.8 472.6,453.8 472.9,450.6 473.3,449.9 473.6,451.4 474.0,450.9 474.3,450.3 474.7,450.3 475.0,452.5 475.4,448.7 475.8,450.6 476.1,452.3 476.4,451.2 476.8,451.4 477.1,451.7 477.5,447.0 477.8,450.6 478.2,450.0 478.5,451.9 478.9,449.4 479.2,451.4 479.6,450.0 479.9,449.1 480.3,452.1 480.6,450.4 481.0,451.9 481.3,450.2 481.7,451.5 482.0,452.5 482.4,450.2 482.8,451.5 483.1,449.8 483.4,448.1 483.8,449.5 484.1,453.4 484.5,450.7 484.8,449.9 485.2,452.1 485.5,450.9 485.9,452.0 486.2,449.6 486.6,448.5 486.9,451.3 487.3,449.0 487.6,448.9 488.0,448.8 488.3,450.1 488.7,448.6 489.0,452.5 489.4,450.8 489.8,449.6 490.1,450.1 490.4,450.3 490.8,452.8 491.1,450.5 491.5,451.4 491.8,448.2" fill="none" stroke="#111" stroke-width="1.9" stroke-linejoin="round" stroke-linecap="round"/>
<path d="M68.0,497.8 68.3,499.0 68.7,499.8 69.0,499.0 69.4,499.3 69.8,498.0 70.1,499.0 70.5,498.9 70.8,500.0 71.2,499.3 71.5,499.2 71.8,498.6 72.2,498.5 72.5,499.2 72.9,500.3 73.2,497.6 73.6,496.9 74.0,500.9 74.3,500.6 74.7,499.8 75.0,499.5 75.3,498.9 75.7,498.9 76.0,498.2 76.4,499.7 76.8,499.1 77.1,497.6 77.5,498.8 77.8,498.8 78.2,498.7 78.5,499.3 78.8,495.1 79.2,480.6 79.5,468.9 79.9,469.2 80.2,475.0 80.6,481.0 81.0,486.6 81.3,493.4 81.7,496.1 82.0,498.2 82.3,497.5 82.7,496.0 83.0,499.0 83.4,496.5 83.8,498.6 84.1,498.1 84.5,497.4 84.8,496.0 85.2,497.3 85.5,497.4 85.8,498.0 86.2,498.1 86.5,499.7 86.9,498.8 87.2,499.4 87.6,497.5 88.0,498.2 88.3,499.4 88.7,499.5 89.0,499.3 89.3,498.3 89.7,498.6 90.0,500.3 90.4,498.2 90.8,498.5 91.1,500.2 91.5,499.0 91.8,498.4 92.2,499.7 92.5,498.8 92.8,500.1 93.2,498.9 93.5,498.3 93.9,501.1 94.2,500.1 94.6,499.2 95.0,499.0 95.3,497.9 95.7,498.6 96.0,498.0 96.3,499.8 96.7,500.1 97.0,499.7 97.4,498.7 97.8,499.5 98.1,498.0 98.5,499.6 98.8,499.6 99.2,499.5 99.5,499.7 99.8,498.3 100.2,499.8 100.5,497.5 100.9,499.3 101.2,498.9 101.6,499.5 101.9,499.0 102.3,499.4 102.7,497.7 103.0,498.7 103.3,498.5 103.7,499.5 104.0,499.3 104.4,498.8 104.8,498.7 105.1,498.6 105.4,499.1 105.8,499.5 106.2,499.8 106.5,499.1 106.8,498.3 107.2,498.5 107.5,499.8 107.9,498.3 108.2,498.9 108.6,497.2 108.9,499.9 109.3,499.2 109.7,498.6 110.0,499.0 110.3,499.3 110.7,499.2 111.0,499.2 111.4,499.1 111.8,498.8 112.1,498.6 112.4,498.4 112.8,492.6 113.2,480.1 113.5,469.8 113.8,469.6 114.2,474.8 114.5,480.7 114.9,487.1 115.2,492.2 115.6,495.7 115.9,497.7 116.3,496.4 116.7,496.8 117.0,497.0 117.3,497.5 117.7,496.6 118.0,497.2 118.4,498.0 118.8,497.1 119.1,497.2 119.4,498.5 119.8,497.3 120.2,498.1 120.5,499.0 120.8,498.5 121.2,500.0 121.5,498.4 121.9,497.3 122.2,498.9 122.6,498.8 122.9,499.3 123.3,497.5 123.7,498.6 124.0,499.7 124.3,499.0 124.7,499.8 125.0,498.3 125.4,499.3 125.8,498.9 126.1,500.2 126.4,498.1 126.8,500.0 127.2,499.2 127.5,499.0 127.8,498.5 128.2,498.1 128.6,497.8 128.9,499.3 129.2,498.3 129.6,500.0 129.9,499.5 130.3,499.5 130.7,500.0 131.0,499.0 131.3,499.9 131.7,497.7 132.1,498.7 132.4,500.0 132.8,499.0 133.1,500.5 133.4,499.2 133.8,498.5 134.1,499.1 134.5,499.3 134.8,499.0 135.2,499.1 135.6,498.5 135.9,498.9 136.2,499.8 136.6,498.6 136.9,499.1 137.3,498.5 137.6,499.2 138.0,499.6 138.3,499.6 138.7,498.9 139.1,498.6 139.4,499.4 139.8,499.9 140.1,499.7 140.4,501.5 140.8,499.3 141.1,498.8 141.5,499.0 141.8,500.0 142.2,498.4 142.6,499.1 142.9,497.9 143.2,499.0 143.6,499.8 143.9,500.1 144.3,499.7 144.6,500.1 145.0,498.6 145.3,500.5 145.7,500.7 146.1,497.9 146.4,498.3 146.8,499.8 147.1,499.9 147.4,500.3 147.8,499.4 148.1,498.4 148.5,498.6 148.8,500.4 149.2,499.2 149.6,497.8 149.9,499.1 150.2,499.8 150.6,499.2 150.9,499.8 151.3,499.6 151.6,499.3 152.0,498.4 152.3,499.3 152.7,499.8 153.1,498.7 153.4,500.1 153.8,500.9 154.1,499.9 154.4,499.6 154.8,499.3 155.1,498.5 155.5,500.5 155.8,498.9 156.2,498.7 156.6,500.7 156.9,500.1 157.2,498.8 157.6,500.1 157.9,499.5 158.3,499.9 158.6,497.7 159.0,498.5 159.3,498.1 159.7,499.4 160.1,498.7 160.4,499.6 160.8,500.8 161.1,499.7 161.4,498.5 161.8,500.1 162.1,499.6 162.5,497.8 162.8,500.2 163.2,499.4 163.6,499.9 163.9,500.3 164.2,499.5 164.6,500.4 164.9,499.7 165.3,498.4 165.6,499.3 166.0,499.2 166.3,499.9 166.7,500.7 167.1,498.1 167.4,499.3 167.8,500.1 168.1,499.4 168.4,500.0 168.8,500.6 169.1,499.5 169.5,499.4 169.8,500.4 170.2,498.6 170.6,499.9 170.9,499.8 171.2,500.5 171.6,499.6 171.9,497.4 172.3,498.4 172.6,499.3 173.0,499.0 173.3,498.9 173.7,500.2 174.1,498.3 174.4,499.4 174.8,500.1 175.1,497.7 175.4,499.4 175.8,499.0 176.1,498.7 176.5,501.0 176.8,498.7 177.2,499.8 177.6,498.5 177.9,498.4 178.2,499.4 178.6,500.2 178.9,499.1 179.3,499.7 179.6,499.1 180.0,500.1 180.3,499.4 180.7,499.4 181.1,499.8 181.4,499.7 181.8,499.3 182.1,498.9 182.4,499.4 182.8,498.9 183.1,500.3 183.5,499.2 183.8,499.9 184.2,498.8 184.6,499.7 184.9,497.8 185.2,498.7 185.6,500.2 185.9,499.4 186.3,497.5 186.6,498.9 187.0,499.1 187.3,498.6 187.7,498.0 188.1,498.1 188.4,500.6 188.8,498.8 189.1,499.9 189.4,499.7 189.8,498.5 190.1,499.4 190.5,499.3 190.8,498.3 191.2,499.4 191.6,499.2 191.9,499.4 192.2,498.9 192.6,498.8 192.9,499.2 193.3,498.4 193.6,500.9 194.0,499.5 194.3,499.2 194.7,499.0 195.1,499.5 195.4,499.2 195.8,498.8 196.1,499.7 196.4,500.6 196.8,500.9 197.2,499.7 197.5,499.0 197.8,501.9 198.2,499.5 198.5,499.5 198.9,498.6 199.2,499.4 199.6,498.8 199.9,498.7 200.3,499.2 200.7,499.4 201.0,499.3 201.3,499.3 201.7,497.7 202.0,499.7 202.4,498.6 202.8,499.1 203.1,497.9 203.4,499.6 203.8,500.7 204.1,499.0 204.5,498.9 204.8,498.7 205.2,500.4 205.5,498.7 205.9,498.3 206.2,498.6 206.6,499.3 206.9,499.0 207.3,499.2 207.6,499.5 208.0,500.3 208.3,500.8 208.7,498.8 209.0,499.0 209.4,499.0 209.8,500.1 210.1,500.5 210.4,500.0 210.8,499.1 211.1,499.5 211.5,498.4 211.8,499.2 212.2,499.3 212.5,498.6 212.9,499.3 213.2,500.2 213.6,498.9 213.9,499.5 214.3,499.1 214.6,497.7 215.0,499.8 215.3,498.2 215.7,497.9 216.0,499.5 216.4,499.4 216.8,499.6 217.1,499.5 217.4,500.2 217.8,499.5 218.1,500.1 218.5,498.6 218.8,492.0 219.2,475.4 219.5,459.7 219.9,457.9 220.2,464.5 220.6,472.6 220.9,481.1 221.3,489.0 221.6,493.7 222.0,497.2 222.3,496.7 222.7,496.8 223.0,496.8 223.4,495.0 223.8,495.1 224.1,496.8 224.4,498.4 224.8,498.0 225.1,496.6 225.5,498.4 225.8,499.1 226.2,497.0 226.5,497.5 226.9,496.9 227.2,497.3 227.6,496.7 227.9,497.6 228.3,498.6 228.6,498.6 229.0,499.1 229.3,499.3 229.7,498.3 230.0,496.9 230.4,498.8 230.8,498.8 231.1,497.9 231.4,499.6 231.8,498.3 232.1,499.3 232.5,499.3 232.8,500.1 233.2,497.4 233.5,497.8 233.9,498.6 234.2,499.8 234.6,500.2 234.9,498.8 235.3,499.0 235.6,500.4 236.0,498.8 236.3,499.2 236.7,499.9 237.0,499.7 237.4,498.9 237.8,499.7 238.1,499.1 238.4,498.6 238.8,498.3 239.1,499.5 239.5,500.6 239.8,499.3 240.2,499.1 240.5,499.7 240.9,498.7 241.2,499.2 241.6,499.6 241.9,499.3 242.3,500.0 242.6,499.4 243.0,499.0 243.3,499.7 243.7,499.9 244.0,500.6 244.4,498.3 244.8,498.8 245.1,501.1 245.4,499.4 245.8,500.6 246.1,499.5 246.5,498.8 246.8,498.6 247.2,498.8 247.5,500.1 247.9,497.9 248.2,498.5 248.6,499.6 248.9,499.4 249.3,498.8 249.6,498.8 250.0,498.6 250.3,498.9 250.7,500.7 251.0,499.6 251.4,499.6 251.8,499.9 252.1,499.2 252.4,497.5 252.8,500.4 253.1,497.8 253.5,499.0 253.8,499.8 254.2,497.8 254.5,499.7 254.9,498.6 255.2,498.4 255.6,499.1 255.9,498.7 256.3,498.5 256.6,498.9 257.0,499.8 257.4,498.8 257.7,498.2 258.0,499.0 258.4,498.9 258.8,497.9 259.1,499.3 259.4,498.9 259.8,499.5 260.1,499.2 260.5,499.2 260.9,498.6 261.2,499.9 261.5,499.7 261.9,499.7 262.2,499.7 262.6,500.7 262.9,499.0 263.3,498.7 263.6,500.0 264.0,498.7 264.4,498.9 264.7,499.9 265.0,499.9 265.4,500.4 265.8,497.6 266.1,498.9 266.4,497.8 266.8,494.5 267.1,490.9 267.5,489.0 267.9,489.5 268.2,491.9 268.5,494.0 268.9,495.9 269.2,497.9 269.6,497.3 269.9,498.8 270.3,497.9 270.6,498.5 271.0,499.2 271.4,499.3 271.7,498.9 272.0,498.2 272.4,500.4 272.8,498.6 273.1,498.8 273.4,499.8 273.8,499.0 274.1,498.9 274.5,499.1 274.9,498.2 275.2,499.0 275.5,499.0 275.9,498.9 276.2,498.9 276.6,498.9 276.9,500.2 277.3,498.6 277.6,498.6 278.0,499.1 278.4,499.9 278.7,499.0 279.0,499.7 279.4,499.2 279.8,500.1 280.1,499.2 280.4,497.7 280.8,497.7 281.1,500.4 281.5,498.4 281.9,500.5 282.2,499.8 282.5,498.0 282.9,500.2 283.2,498.7 283.6,499.7 283.9,499.1 284.3,497.8 284.6,491.9 285.0,478.6 285.4,467.6 285.7,466.9 286.0,472.5 286.4,478.3 286.8,485.1 287.1,490.9 287.4,494.5 287.8,497.5 288.1,497.7 288.5,497.9 288.9,497.1 289.2,498.7 289.5,498.4 289.9,497.4 290.2,498.2 290.6,496.2 290.9,497.9 291.3,497.6 291.6,498.0 292.0,499.1 292.4,498.4 292.7,498.2 293.0,500.5 293.4,500.2 293.8,497.1 294.1,499.2 294.4,498.3 294.8,498.1 295.1,498.0 295.5,497.8 295.9,498.6 296.2,499.0 296.5,499.4 296.9,500.1 297.2,499.4 297.6,499.8 297.9,500.4 298.3,498.6 298.6,498.5 299.0,499.3 299.4,498.9 299.7,499.5 300.0,500.5 300.4,497.9 300.8,500.4 301.1,499.1 301.4,499.2 301.8,501.3 302.1,498.2 302.5,498.0 302.9,499.6 303.2,499.1 303.5,498.9 303.9,499.2 304.2,498.3 304.6,499.2 304.9,499.2 305.3,498.8 305.6,499.5 306.0,499.4 306.4,499.1 306.7,500.0 307.0,499.4 307.4,499.5 307.8,498.2 308.1,498.7 308.4,498.0 308.8,498.6 309.1,498.8 309.5,499.3 309.9,498.9 310.2,499.1 310.5,500.9 310.9,499.4 311.2,499.9 311.6,499.9 311.9,500.0 312.3,499.7 312.6,499.1 313.0,497.6 313.4,499.2 313.7,500.1 314.0,499.8 314.4,499.0 314.8,500.3 315.1,501.1 315.4,498.6 315.8,499.0 316.1,499.8 316.5,497.4 316.9,499.2 317.2,499.3 317.5,499.9 317.9,497.9 318.2,500.5 318.6,499.2 318.9,499.8 319.3,498.5 319.6,499.9 320.0,499.6 320.4,500.7 320.7,499.6 321.0,500.2 321.4,498.3 321.8,500.6 322.1,500.2 322.4,499.2 322.8,498.7 323.1,499.8 323.5,499.0 323.9,499.0 324.2,499.9 324.6,499.5 324.9,498.7 325.2,499.0 325.6,499.8 325.9,500.2 326.3,501.2 326.6,498.9 327.0,499.3 327.3,499.8 327.7,498.7 328.1,497.9 328.4,500.0 328.8,500.0 329.1,498.5 329.4,501.2 329.8,499.9 330.1,499.1 330.5,499.8 330.8,499.2 331.2,499.3 331.6,501.2 331.9,498.2 332.2,501.0 332.6,498.3 332.9,498.8 333.3,500.5 333.6,498.7 334.0,499.0 334.3,500.1 334.7,499.0 335.1,499.8 335.4,498.8 335.8,500.4 336.1,499.1 336.4,498.5 336.8,499.8 337.1,498.2 337.5,500.2 337.8,498.8 338.2,498.5 338.5,500.5 338.9,499.0 339.2,498.3 339.6,498.7 339.9,498.9 340.3,499.3 340.6,499.5 341.0,498.5 341.3,499.7 341.7,500.2 342.0,501.0 342.4,499.9 342.8,499.0 343.1,499.5 343.4,499.6 343.8,498.4 344.1,498.3 344.5,498.6 344.8,499.9 345.2,499.3 345.5,501.0 345.9,499.4 346.2,499.5 346.6,501.0 346.9,499.4 347.3,499.5 347.6,499.6 348.0,498.9 348.3,498.8 348.7,500.2 349.0,499.3 349.4,500.2 349.8,499.7 350.1,499.8 350.4,497.7 350.8,500.2 351.1,499.3 351.5,499.4 351.8,498.4 352.2,499.2 352.5,498.6 352.9,499.4 353.2,500.0 353.6,499.1 353.9,500.4 354.3,499.3 354.6,497.9 355.0,499.1 355.3,498.9 355.7,499.2 356.0,498.8 356.4,499.9 356.8,500.1 357.1,500.5 357.4,499.3 357.8,498.7 358.1,498.1 358.5,499.0 358.8,499.0 359.2,498.6 359.5,498.3 359.9,499.3 360.2,499.7 360.6,500.5 360.9,499.8 361.3,499.5 361.6,499.3 362.0,498.1 362.3,500.1 362.7,500.2 363.0,498.3 363.4,499.7 363.8,500.0 364.1,500.1 364.4,499.6 364.8,499.3 365.1,497.5 365.5,490.1 365.8,474.8 366.2,461.6 366.5,460.1 366.9,465.6 367.2,473.4 367.6,480.7 367.9,489.3 368.3,492.8 368.6,495.4 369.0,497.6 369.3,495.5 369.7,498.1 370.0,496.8 370.4,496.9 370.8,497.7 371.1,497.6 371.4,498.7 371.8,497.9 372.1,497.0 372.5,498.7 372.8,498.3 373.2,497.7 373.5,498.1 373.9,498.9 374.2,498.0 374.6,499.8 374.9,499.7 375.3,498.1 375.6,498.8 376.0,499.5 376.3,499.3 376.7,499.4 377.0,498.5 377.4,497.8 377.8,500.1 378.1,498.1 378.4,497.8 378.8,500.6 379.1,499.0 379.5,499.8 379.8,499.0 380.2,499.2 380.5,498.7 380.9,499.1 381.2,500.9 381.6,499.3 381.9,498.8 382.3,499.0 382.6,499.6 383.0,499.5 383.3,499.0 383.7,499.9 384.0,499.0 384.4,498.8 384.8,498.6 385.1,499.0 385.4,500.3 385.8,500.3 386.1,498.8 386.5,499.6 386.8,500.3 387.2,498.3 387.5,497.2 387.9,497.9 388.2,500.4 388.6,496.9 388.9,499.9 389.3,498.7 389.6,499.1 390.0,498.9 390.3,497.6 390.7,499.8 391.0,499.9 391.4,497.5 391.8,499.6 392.1,499.8 392.4,499.0 392.8,497.7 393.1,498.4 393.5,499.1 393.8,499.2 394.2,497.8 394.5,500.2 394.9,499.1 395.2,501.2 395.6,499.4 395.9,498.5 396.3,499.4 396.6,499.9 397.0,500.1 397.3,498.5 397.7,499.7 398.0,498.6 398.4,498.9 398.8,498.8 399.1,499.8 399.4,500.1 399.8,499.6 400.1,500.2 400.5,499.1 400.8,499.8 401.2,499.1 401.5,498.5 401.9,493.0 402.2,483.1 402.6,478.0 402.9,479.9 403.3,483.6 403.6,487.7 404.0,491.6 404.3,496.3 404.7,497.8 405.0,497.7 405.4,497.1 405.8,498.0 406.1,496.7 406.4,500.0 406.8,499.8 407.1,498.5 407.5,498.8 407.8,497.8 408.2,498.6 408.5,497.2 408.9,498.3 409.2,498.9 409.6,499.0 409.9,500.7 410.3,498.0 410.6,500.0 411.0,500.2 411.3,499.7 411.7,498.8 412.0,500.2 412.4,498.7 412.8,500.3 413.1,498.4 413.4,496.9 413.8,499.1 414.1,497.7 414.5,490.2 414.8,476.0 415.2,466.2 415.5,466.9 415.9,472.5 416.2,479.0 416.6,485.8 416.9,492.0 417.3,495.4 417.6,497.7 418.0,495.9 418.3,497.3 418.7,498.3 419.0,499.0 419.4,498.9 419.8,498.4 420.1,497.1 420.4,498.4 420.8,497.3 421.1,497.7 421.5,496.1 421.8,498.7 422.2,497.5 422.5,497.0 422.9,498.4 423.2,500.5 423.6,498.3 423.9,498.1 424.3,499.3 424.6,498.6 425.0,500.6 425.3,498.2 425.7,499.1 426.0,498.3 426.4,499.8 426.8,498.7 427.1,499.9 427.4,499.1 427.8,498.2 428.1,498.9 428.5,499.6 428.8,499.1 429.2,499.2 429.5,499.9 429.9,499.1 430.2,500.9 430.6,499.5 430.9,498.6 431.3,498.6 431.6,499.2 432.0,498.6 432.3,499.5 432.7,498.7 433.0,499.6 433.4,500.3 433.8,499.1 434.1,497.8 434.4,500.2 434.8,498.0 435.1,498.4 435.5,500.1 435.8,497.4 436.2,499.2 436.5,500.5 436.9,499.9 437.2,498.8 437.6,499.6 437.9,499.1 438.3,499.8 438.6,499.6 439.0,499.0 439.3,499.8 439.7,499.3 440.0,500.3 440.4,498.8 440.8,499.0 441.1,501.2 441.4,497.9 441.8,500.6 442.1,499.1 442.5,500.6 442.8,499.0 443.2,500.2 443.5,499.0 443.9,499.5 444.2,498.7 444.6,499.1 444.9,498.2 445.3,500.4 445.6,499.6 446.0,497.9 446.3,493.4 446.7,482.9 447.0,470.8 447.4,463.3 447.8,463.4 448.1,469.1 448.4,476.3 448.8,482.8 449.1,489.0 449.5,494.3 449.8,497.2 450.2,496.9 450.5,496.4 450.9,496.2 451.2,497.0 451.6,497.5 451.9,497.4 452.3,497.8 452.6,498.5 453.0,496.9 453.3,498.6 453.7,497.4 454.0,498.1 454.4,497.0 454.8,499.1 455.1,499.8 455.4,498.2 455.8,498.5 456.1,498.9 456.5,498.6 456.8,498.6 457.2,498.8 457.5,499.2 457.9,498.9 458.2,499.1 458.6,500.8 458.9,499.7 459.3,499.1 459.6,498.9 460.0,500.0 460.3,498.0 460.7,500.4 461.0,498.6 461.4,498.8 461.8,500.4 462.1,500.1 462.4,499.7 462.8,499.3 463.1,498.9 463.5,500.1 463.8,500.9 464.2,498.7 464.5,499.4 464.9,498.7 465.2,499.8 465.6,500.8 465.9,499.4 466.3,498.3 466.6,499.9 467.0,498.3 467.3,497.6 467.7,499.8 468.0,498.4 468.4,498.6 468.8,500.1 469.1,499.4 469.4,500.5 469.8,498.9 470.1,497.4 470.5,499.6 470.8,499.1 471.2,499.1 471.5,498.1 471.9,499.3 472.2,498.6 472.6,498.0 472.9,499.5 473.3,499.9 473.6,499.9 474.0,500.3 474.3,500.0 474.7,499.0 475.0,500.7 475.4,501.1 475.8,499.8 476.1,498.5 476.4,499.4 476.8,500.0 477.1,499.7 477.5,499.1 477.8,498.6 478.2,499.6 478.5,499.7 478.9,499.3 479.2,498.7 479.6,498.6 479.9,499.0 480.3,499.0 480.6,499.2 481.0,499.6 481.3,499.0 481.7,499.1 482.0,498.2 482.4,500.1 482.8,498.6 483.1,498.6 483.4,498.6 483.8,499.1 484.1,499.9 484.5,499.5 484.8,501.0 485.2,498.5 485.5,499.2 485.9,500.7 486.2,499.1 486.6,498.8 486.9,498.3 487.3,499.8 487.6,500.3 488.0,499.8 488.3,500.7 488.7,498.9 489.0,499.2 489.4,497.7 489.8,500.8 490.1,500.1 490.4,498.7 490.8,499.3 491.1,500.0 491.5,499.0 491.8,499.3 492.2,498.5 492.5,499.1 492.9,498.0" fill="none" stroke="#111" stroke-width="2.1" stroke-linejoin="round" stroke-linecap="round"/>
<path d="M68.0,552.6 68.5,552.7 69.0,552.5 69.5,552.7 70.0,552.5 70.5,552.7 71.0,552.6 71.5,552.8 72.0,552.8 72.5,552.8 73.0,552.6 73.5,552.5 74.0,552.5 74.5,552.4 75.0,552.8 75.5,552.2 76.0,552.4 76.5,552.5 77.0,552.4 77.5,552.3 78.0,552.5 78.5,551.9 79.0,549.0 79.5,542.9 80.0,538.2 80.5,538.5 81.0,541.7 81.5,545.5 82.0,549.2 82.5,551.9 83.0,552.3 83.5,552.6 84.0,552.4 84.5,552.6 85.0,552.4 85.5,552.5 86.0,552.8 86.5,552.7 87.0,552.7 87.5,552.5 88.0,552.5 88.5,552.4 89.0,552.6 89.5,552.7 90.0,552.6 90.5,552.4 91.0,552.3 91.5,552.6 92.0,552.7 92.5,552.7 93.0,552.4 93.5,552.5 94.0,552.4 94.5,552.8 95.0,552.6 95.5,552.3 96.0,552.5 96.5,552.5 97.0,552.5 97.5,552.5 98.0,552.4 98.5,552.3 99.0,552.6 99.5,552.8 100.0,552.3 100.5,552.3 101.0,552.6 101.5,552.3 102.0,552.1 102.5,552.5 103.0,552.8 103.5,552.8 104.0,552.7 104.5,552.5 105.0,552.6 105.5,552.4 106.0,552.5 106.5,552.7 107.0,552.5 107.5,552.8 108.0,552.7 108.5,552.7 109.0,552.7 109.5,552.5 110.0,552.9 110.5,553.0 111.0,552.5 111.5,551.9 112.0,548.4 112.5,538.8 113.0,526.6 113.5,520.6 114.0,523.7 114.5,531.2 115.0,539.2 115.5,546.3 116.0,550.6 116.5,552.2 117.0,552.4 117.5,552.1 118.0,552.2 118.5,552.4 119.0,552.2 119.5,552.3 120.0,552.2 120.5,552.6 121.0,552.5 121.5,552.5 122.0,552.6 122.5,552.7 123.0,552.7 123.5,552.5 124.0,552.5 124.5,552.5 125.0,552.6 125.5,552.1 126.0,552.4 126.5,552.1 127.0,552.4 127.5,552.2 128.0,552.4 128.5,552.2 129.0,552.5 129.5,552.3 130.0,552.2 130.5,552.0 131.0,552.4 131.5,552.5 132.0,552.3 132.5,552.4 133.0,552.3 133.5,552.5 134.0,552.5 134.5,552.3 135.0,552.3 135.5,552.5 136.0,552.3 136.5,552.5 137.0,552.5 137.5,552.5 138.0,552.8 138.5,552.5 139.0,552.8 139.5,552.7 140.0,552.7 140.5,552.9 141.0,552.7 141.5,552.7 142.0,552.6 142.5,552.4 143.0,552.8 143.5,552.8 144.0,552.6 144.5,552.5 145.0,552.8 145.5,552.5 146.0,552.6 146.5,552.6 147.0,552.6 147.5,552.3 148.0,553.0 148.5,552.5 149.0,552.9 149.5,553.1 150.0,552.8 150.5,552.8 151.0,552.4 151.5,552.6 152.0,552.4 152.5,552.6 153.0,552.7 153.5,552.3 154.0,552.5 154.5,552.4 155.0,552.8 155.5,552.7 156.0,552.7 156.5,552.6 157.0,552.8 157.5,552.8 158.0,552.7 158.5,553.0 159.0,552.8 159.5,552.6 160.0,552.8 160.5,552.9 161.0,552.9 161.5,553.0 162.0,552.8 162.5,552.7 163.0,552.6 163.5,552.5 164.0,552.8 164.5,552.7 165.0,552.8 165.5,552.6 166.0,552.6 166.5,552.7 167.0,552.5 167.5,552.6 168.0,552.6 168.5,552.6 169.0,552.4 169.5,552.4 170.0,552.4 170.5,552.6 171.0,552.4 171.5,553.0 172.0,552.4 172.5,552.8 173.0,552.6 173.5,552.5 174.0,552.7 174.5,552.5 175.0,552.6 175.5,552.7 176.0,553.1 176.5,552.7 177.0,552.7 177.5,552.9 178.0,553.0 178.5,552.6 179.0,553.0 179.5,552.8 180.0,552.8 180.5,552.8 181.0,552.7 181.5,552.6 182.0,552.7 182.5,552.9 183.0,552.6 183.5,552.6 184.0,552.5 184.5,552.6 185.0,552.6 185.5,552.3 186.0,552.7 186.5,552.5 187.0,552.3 187.5,552.5 188.0,552.5 188.5,552.6 189.0,552.6 189.5,552.6 190.0,553.0 190.5,552.5 191.0,552.7 191.5,552.8 192.0,552.8 192.5,552.6 193.0,552.8 193.5,552.6 194.0,552.8 194.5,552.3 195.0,552.5 195.5,552.5 196.0,552.3 196.5,552.4 197.0,552.4 197.5,552.3 198.0,552.4 198.5,552.5 199.0,552.6 199.5,552.7 200.0,552.6 200.5,552.8 201.0,552.9 201.5,552.8 202.0,552.7 202.5,552.3 203.0,552.8 203.5,552.6 204.0,552.5 204.5,552.4 205.0,552.6 205.5,552.4 206.0,552.2 206.5,552.3 207.0,552.5 207.5,552.4 208.0,552.6 208.5,553.0 209.0,552.7 209.5,552.8 210.0,552.5 210.5,552.7 211.0,552.6 211.5,552.7 212.0,552.5 212.5,552.7 213.0,552.8 213.5,552.5 214.0,552.6 214.5,552.8 215.0,552.7 215.5,552.7 216.0,552.6 216.5,552.8 217.0,552.9 217.5,552.4 218.0,550.4 218.5,542.2 219.0,526.8 219.5,514.0 220.0,513.2 220.5,521.0 221.0,531.4 221.5,541.9 222.0,549.4 222.5,552.2 223.0,552.6 223.5,552.6 224.0,552.6 224.5,552.5 225.0,552.6 225.5,552.3 226.0,552.7 226.5,552.2 227.0,552.8 227.5,552.6 228.0,552.4 228.5,552.1 229.0,552.6 229.5,552.3 230.0,552.4 230.5,552.2 231.0,552.5 231.5,552.3 232.0,552.4 232.5,552.2 233.0,552.3 233.5,552.3 234.0,552.5 234.5,552.3 235.0,552.6 235.5,552.7 236.0,552.4 236.5,552.4 237.0,552.5 237.5,552.3 238.0,552.4 238.5,552.2 239.0,552.3 239.5,552.5 240.0,552.3 240.5,552.3 241.0,552.5 241.5,552.5 242.0,552.4 242.5,552.3 243.0,552.4 243.5,552.3 244.0,552.5 244.5,552.4 245.0,552.6 245.5,552.3 246.0,552.6 246.5,552.2 247.0,552.4 247.5,552.8 248.0,552.5 248.5,552.7 249.0,552.5 249.5,552.6 250.0,552.4 250.5,552.5 251.0,552.5 251.5,552.4 252.0,552.6 252.5,552.5 253.0,552.7 253.5,552.6 254.0,552.7 254.5,552.4 255.0,552.6 255.5,552.8 256.0,552.5 256.5,552.4 257.0,552.6 257.5,552.6 258.0,552.3 258.5,552.5 259.0,552.6 259.5,552.3 260.0,552.7 260.5,552.5 261.0,552.4 261.5,552.8 262.0,552.7 262.5,552.5 263.0,552.7 263.5,552.6 264.0,552.7 264.5,552.8 265.0,552.5 265.5,552.6 266.0,551.4 266.5,546.1 267.0,534.8 267.5,524.7 268.0,523.7 268.5,529.4 269.0,536.9 269.5,544.2 270.0,550.0 270.5,552.2 271.0,552.9 271.5,552.3 272.0,552.9 272.5,552.8 273.0,552.8 273.5,552.7 274.0,552.5 274.5,552.9 275.0,552.4 275.5,552.6 276.0,552.6 276.5,552.3 277.0,552.4 277.5,552.4 278.0,552.4 278.5,552.6 279.0,552.7 279.5,552.1 280.0,552.4 280.5,552.6 281.0,552.4 281.5,552.6 282.0,552.8 282.5,552.5 283.0,552.5 283.5,552.2 284.0,552.3 284.5,551.9 285.0,549.3 285.5,543.2 286.0,537.2 286.5,535.9 287.0,538.7 287.5,542.9 288.0,547.1 288.5,550.6 289.0,552.1 289.5,552.6 290.0,552.6 290.5,552.6 291.0,552.4 291.5,552.4 292.0,552.3 292.5,552.6 293.0,552.8 293.5,552.7 294.0,552.7 294.5,552.6 295.0,552.6 295.5,552.5 296.0,552.6 296.5,552.8 297.0,552.7 297.5,552.7 298.0,552.5 298.5,552.7 299.0,552.4 299.5,552.7 300.0,552.5 300.5,552.7 301.0,552.6 301.5,552.3 302.0,552.3 302.5,552.7 303.0,552.5 303.5,552.5 304.0,552.5 304.5,552.9 305.0,552.8 305.5,552.9 306.0,552.5 306.5,552.9 307.0,552.8 307.5,552.7 308.0,552.5 308.5,552.7 309.0,552.8 309.5,552.6 310.0,552.5 310.5,552.8 311.0,552.6 311.5,552.2 312.0,552.6 312.5,552.6 313.0,552.7 313.5,552.8 314.0,552.2 314.5,552.3 315.0,552.7 315.5,552.5 316.0,552.3 316.5,552.3 317.0,552.6 317.5,552.8 318.0,552.7 318.5,552.8 319.0,552.7 319.5,552.4 320.0,552.6 320.5,552.6 321.0,552.5 321.5,552.6 322.0,552.7 322.5,552.8 323.0,552.9 323.5,552.8 324.0,552.6 324.5,552.4 325.0,552.4 325.5,552.4 326.0,552.4 326.5,552.4 327.0,552.6 327.5,552.4 328.0,552.3 328.5,552.2 329.0,552.3 329.5,552.8 330.0,552.3 330.5,552.5 331.0,552.6 331.5,552.5 332.0,552.7 332.5,552.5 333.0,552.5 333.5,552.4 334.0,552.5 334.5,552.7 335.0,552.9 335.5,552.5 336.0,552.5 336.5,552.6 337.0,552.7 337.5,552.8 338.0,552.8 338.5,552.4 339.0,552.7 339.5,552.6 340.0,552.7 340.5,552.7 341.0,552.9 341.5,552.5 342.0,552.6 342.5,552.6 343.0,552.4 343.5,552.7 344.0,552.6 344.5,552.3 345.0,552.7 345.5,552.4 346.0,552.6 346.5,552.4 347.0,552.5 347.5,552.2 348.0,552.6 348.5,552.4 349.0,552.6 349.5,552.6 350.0,552.6 350.5,552.7 351.0,553.0 351.5,552.6 352.0,552.6 352.5,552.5 353.0,552.6 353.5,552.7 354.0,552.7 354.5,552.8 355.0,552.8 355.5,552.4 356.0,552.5 356.5,552.6 357.0,552.3 357.5,552.6 358.0,552.5 358.5,552.6 359.0,552.7 359.5,552.6 360.0,552.4 360.5,552.2 361.0,552.2 361.5,552.5 362.0,552.4 362.5,552.5 363.0,552.6 363.5,552.5 364.0,552.2 364.5,551.8 365.0,547.2 365.5,533.3 366.0,515.5 366.5,507.8 367.0,513.3 367.5,524.3 368.0,535.9 368.5,545.3 369.0,550.9 369.5,552.2 370.0,552.4 370.5,552.6 371.0,552.6 371.5,552.4 372.0,552.5 372.5,552.5 373.0,552.6 373.5,552.7 374.0,552.6 374.5,552.6 375.0,552.8 375.5,552.6 376.0,552.7 376.5,552.9 377.0,552.5 377.5,552.8 378.0,552.7 378.5,552.4 379.0,552.4 379.5,552.7 380.0,552.7 380.5,552.8 381.0,552.8 381.5,552.6 382.0,552.8 382.5,552.6 383.0,552.8 383.5,552.8 384.0,552.7 384.5,552.8 385.0,552.8 385.5,552.9 386.0,552.9 386.5,552.8 387.0,552.9 387.5,552.6 388.0,552.5 388.5,552.7 389.0,552.7 389.5,552.7 390.0,552.6 390.5,552.7 391.0,552.3 391.5,552.8 392.0,552.6 392.5,552.6 393.0,552.8 393.5,552.4 394.0,552.6 394.5,552.7 395.0,552.6 395.5,552.7 396.0,552.5 396.5,552.9 397.0,552.8 397.5,552.8 398.0,552.6 398.5,552.6 399.0,552.5 399.5,552.8 400.0,552.7 400.5,552.7 401.0,552.7 401.5,552.5 402.0,552.0 402.5,549.2 403.0,543.2 403.5,537.0 404.0,535.6 404.5,538.4 405.0,542.8 405.5,547.3 406.0,550.9 406.5,552.0 407.0,552.7 407.5,552.6 408.0,553.0 408.5,552.5 409.0,552.5 409.5,552.8 410.0,552.2 410.5,552.7 411.0,552.6 411.5,552.6 412.0,552.8 412.5,552.6 413.0,552.6 413.5,552.7 414.0,552.6 414.5,552.7 415.0,551.8 415.5,549.2 416.0,545.0 416.5,542.1 417.0,542.6 417.5,544.9 418.0,547.6 418.5,550.2 419.0,551.8 419.5,552.5 420.0,552.8 420.5,552.5 421.0,552.7 421.5,552.7 422.0,552.7 422.5,552.4 423.0,552.4 423.5,552.5 424.0,552.2 424.5,552.7 425.0,552.9 425.5,552.5 426.0,552.4 426.5,552.5 427.0,552.3 427.5,552.3 428.0,552.5 428.5,552.6 429.0,552.4 429.5,552.5 430.0,552.6 430.5,552.3 431.0,552.2 431.5,552.8 432.0,552.7 432.5,552.6 433.0,552.6 433.5,552.8 434.0,552.5 434.5,552.7 435.0,552.9 435.5,552.8 436.0,552.9 436.5,553.2 437.0,552.9 437.5,552.5 438.0,552.7 438.5,552.8 439.0,552.9 439.5,552.8 440.0,552.7 440.5,552.9 441.0,552.7 441.5,552.6 442.0,553.0 442.5,552.6 443.0,552.7 443.5,552.8 444.0,552.6 444.5,552.2 445.0,552.7 445.5,552.1 446.0,549.6 446.5,539.4 447.0,521.8 447.5,510.6 448.0,513.7 448.5,523.5 449.0,534.5 449.5,543.9 450.0,550.3 450.5,552.2 451.0,552.4 451.5,552.4 452.0,552.4 452.5,552.5 453.0,552.7 453.5,552.6 454.0,552.7 454.5,552.7 455.0,552.5 455.5,552.9 456.0,552.5 456.5,552.4 457.0,552.6 457.5,552.6 458.0,552.7 458.5,552.8 459.0,552.5 459.5,552.8 460.0,552.6 460.5,552.8 461.0,552.6 461.5,552.9 462.0,552.5 462.5,552.5 463.0,552.5 463.5,552.7 464.0,552.7 464.5,552.6 465.0,552.3 465.5,552.4 466.0,552.5 466.5,552.3 467.0,552.4 467.5,552.3 468.0,552.5 468.5,552.5 469.0,552.8 469.5,552.3 470.0,552.6 470.5,552.6 471.0,552.8 471.5,552.3 472.0,552.2 472.5,552.5 473.0,552.1 473.5,552.4 474.0,552.3 474.5,552.2 475.0,552.4 475.5,552.3 476.0,552.7 476.5,552.5 477.0,552.4 477.5,552.6 478.0,552.6 478.5,552.4 479.0,552.7 479.5,552.8 480.0,552.9 480.5,552.9 481.0,552.7 481.5,552.6 482.0,552.8 482.5,552.6 483.0,552.6 483.5,552.1 484.0,552.9 484.5,552.7 485.0,552.4 485.5,552.7 486.0,552.6 486.5,552.5 487.0,552.3 487.5,552.0 488.0,552.3 488.5,552.2 489.0,552.2 489.5,552.3 490.0,552.1 490.5,552.4 491.0,552.4 491.5,552.1 492.0,552.3 492.5,552.6 493.0,552.7" fill="none" stroke="#111" stroke-width="1.8" stroke-linejoin="round" stroke-linecap="round"/>
<text x="47.6" y="402.8" font-size="15.5" font-weight="normal" font-style="normal" text-anchor="start" >L</text>
<text x="47.5" y="448.9" font-size="15.5" font-weight="normal" font-style="normal" text-anchor="start" >R</text>
<text x="0" y="427.7" font-size="15.5" font-weight="normal" font-style="normal" text-anchor="start" >VII</text>
<path d="M0,530.9 C1.4,531.2 2.0,530.3 2.1,528.3 L2.4,518.0 C2.5,516.2 3.1,515.6 4.2,516.0" fill="none" stroke="#1a1a1a" stroke-width="1.15"/>
<text x="3.8" y="530.3" font-size="15.5" font-weight="normal" font-style="normal" text-anchor="start" >C4</text>
<text x="47.6" y="503.1" font-size="15.5" font-weight="normal" font-style="normal" text-anchor="start" >L</text>
<text x="47.5" y="552.6" font-size="15.5" font-weight="normal" font-style="normal" text-anchor="start" >R</text>
<rect x="40.15" y="396.1" width="1.5" height="51.6" fill="#111"/>
<rect x="40.15" y="496.3" width="1.5" height="56.2" fill="#111"/>
<line x1="482.8" y1="371.8" x2="482.8" y2="384.6" stroke="#111" stroke-width="2.9" stroke-linecap="round"/>
<line x1="454.8" y1="565.95" x2="493" y2="565.95" stroke="#111" stroke-width="3.5" stroke-linecap="round"/>
<text x="462.1" y="587.1" font-size="15.5" font-weight="normal" font-style="normal" text-anchor="start" >10 s</text>
<text x="0" y="632.5" font-size="23" font-weight="bold" font-style="normal" text-anchor="start" >e</text>
<text x="88.6" y="658.4" font-size="15.5" font-weight="normal" font-style="normal" text-anchor="start" >P0</text>
<text x="195.2" y="657.7" font-size="15.5" font-style="italic">Dbx1<tspan font-size="10.2" dy="-4.5">cre</tspan><tspan dy="4.5">; Robo3</tspan><tspan font-size="10.2" dy="-4.5">lox/lox</tspan></text>
<line x1="98.8" y1="673" x2="98.8" y2="795.6" stroke="#8c8c8c" stroke-width="1.0"/>
<line x1="115.9" y1="673" x2="115.9" y2="795.6" stroke="#8c8c8c" stroke-width="1.0"/>
<line x1="147.8" y1="673" x2="147.8" y2="795.6" stroke="#8c8c8c" stroke-width="1.0"/>
<line x1="220.7" y1="673" x2="220.7" y2="795.6" stroke="#8c8c8c" stroke-width="1.0"/>
<line x1="294.5" y1="673" x2="294.5" y2="795.6" stroke="#8c8c8c" stroke-width="1.0"/>
<line x1="329.5" y1="673" x2="329.5" y2="795.6" stroke="#8c8c8c" stroke-width="1.0"/>
<line x1="395" y1="673" x2="395" y2="795.6" stroke="#8c8c8c" stroke-width="1.0"/>
<line x1="435.6" y1="673" x2="435.6" y2="795.6" stroke="#8c8c8c" stroke-width="1.0"/>
<polygon points="99.9,676.5 107.1,676.5 103.5,688.8" fill="#fff" stroke="#222" stroke-width="1.1"/>
<polygon points="117.2,676.5 124.4,676.5 120.8,688.8" fill="#111" stroke="#111" stroke-width="0.5"/>
<polygon points="149.8,676.5 157.0,676.5 153.4,688.8" fill="#fff" stroke="#222" stroke-width="1.1"/>
<polygon points="296.9,676.5 304.1,676.5 300.5,688.8" fill="#fff" stroke="#222" stroke-width="1.1"/>
<polygon points="332.4,676.5 339.6,676.5 336.0,688.8" fill="#111" stroke="#111" stroke-width="0.5"/>
<polygon points="396.9,676.5 404.1,676.5 400.5,688.8" fill="#fff" stroke="#222" stroke-width="1.1"/>
<polygon points="437.6,676.5 444.8,676.5 441.2,688.8" fill="#111" stroke="#111" stroke-width="0.5"/>
<text x="226.1" y="692.8" font-size="11.5" text-anchor="middle">*</text>
<path d="M68.0,728.7 68.5,728.3 69.0,728.3 69.5,728.3 70.0,726.9 70.5,728.1 71.0,727.3 71.5,727.5 72.0,727.9 72.5,728.6 73.0,728.6 73.5,729.2 74.0,729.4 74.5,729.2 75.0,729.2 75.5,729.7 76.0,729.6 76.5,729.7 77.0,729.9 77.5,730.0 78.0,728.9 78.5,729.2 79.0,728.6 79.5,728.0 80.0,728.4 80.5,728.6 81.0,728.8 81.5,729.1 82.0,729.5 82.5,729.9 83.0,730.6 83.5,729.7 84.0,730.3 84.5,729.2 85.0,729.8 85.5,730.4 86.0,730.0 86.5,729.5 87.0,730.2 87.5,730.5 88.0,730.1 88.5,729.9 89.0,729.9 89.5,729.8 90.0,729.3 90.5,729.7 91.0,729.7 91.5,729.0 92.0,728.1 92.5,728.2 93.0,728.4 93.5,727.8 94.0,729.1 94.5,729.0 95.0,729.7 95.5,729.7 96.0,729.9 96.5,729.7 97.0,729.3 97.5,728.9 98.0,728.5 98.5,727.9 99.0,726.9 99.5,725.9 100.0,726.0 100.5,726.7 101.0,727.4 101.5,727.9 102.0,728.3 102.5,728.6 103.0,729.5 103.5,729.3 104.0,729.1 104.5,729.7 105.0,730.3 105.5,729.9 106.0,730.2 106.5,730.3 107.0,730.4 107.5,730.5 108.0,730.3 108.5,730.4 109.0,730.0 109.5,730.0 110.0,730.2 110.5,730.3 111.0,730.2 111.5,730.1 112.0,730.5 112.5,730.4 113.0,729.7 113.5,729.3 114.0,730.2 114.5,729.6 115.0,729.1 115.5,729.0 116.0,724.9 116.5,714.4 117.0,701.2 117.5,693.9 118.0,695.1 118.5,700.2 119.0,706.2 119.5,712.3 120.0,717.9 120.5,723.4 121.0,727.2 121.5,729.3 122.0,729.4 122.5,730.4 123.0,729.8 123.5,729.3 124.0,730.0 124.5,730.0 125.0,729.7 125.5,730.1 126.0,729.2 126.5,729.2 127.0,729.4 127.5,729.3 128.0,729.3 128.5,729.4 129.0,730.0 129.5,729.2 130.0,729.6 130.5,729.3 131.0,729.4 131.5,729.6 132.0,729.9 132.5,730.3 133.0,729.5 133.5,730.1 134.0,730.3 134.5,730.0 135.0,729.8 135.5,729.8 136.0,730.2 136.5,730.3 137.0,730.1 137.5,730.6 138.0,729.9 138.5,730.5 139.0,730.1 139.5,730.3 140.0,730.2 140.5,731.4 141.0,729.8 141.5,730.8 142.0,730.4 142.5,730.4 143.0,729.5 143.5,729.7 144.0,729.3 144.5,730.1 145.0,730.0 145.5,730.2 146.0,730.0 146.5,729.6 147.0,729.7 147.5,729.8 148.0,728.6 148.5,727.8 149.0,727.5 149.5,727.3 150.0,727.1 150.5,727.7 151.0,729.0 151.5,729.5 152.0,729.3 152.5,729.8 153.0,729.6 153.5,730.5 154.0,730.0 154.5,730.2 155.0,730.1 155.5,731.1 156.0,730.5 156.5,730.9 157.0,730.1 157.5,730.4 158.0,729.8 158.5,729.4 159.0,729.2 159.5,729.3 160.0,729.2 160.5,729.2 161.0,728.3 161.5,729.3 162.0,729.0 162.5,729.8 163.0,730.2 163.5,730.2 164.0,730.2 164.5,730.6 165.0,730.4 165.5,730.0 166.0,730.5 166.5,730.5 167.0,730.3 167.5,730.5 168.0,730.3 168.5,730.3 169.0,730.1 169.5,729.5 170.0,729.7 170.5,729.0 171.0,729.1 171.5,728.6 172.0,729.3 172.5,728.9 173.0,729.9 173.5,730.4 174.0,730.2 174.5,730.0 175.0,730.8 175.5,730.2 176.0,730.6 176.5,730.3 177.0,730.6 177.5,730.4 178.0,729.8 178.5,729.9 179.0,731.4 179.5,729.8 180.0,730.1 180.5,730.0 181.0,730.1 181.5,729.3 182.0,728.9 182.5,728.6 183.0,728.5 183.5,728.4 184.0,729.5 184.5,729.8 185.0,730.7 185.5,730.4 186.0,730.4 186.5,730.6 187.0,731.1 187.5,730.8 188.0,731.4 188.5,731.5 189.0,731.0 189.5,731.1 190.0,731.1 190.5,731.1 191.0,730.6 191.5,730.6 192.0,730.3 192.5,730.1 193.0,730.7 193.5,729.7 194.0,729.5 194.5,729.5 195.0,729.0 195.5,729.7 196.0,729.4 196.5,730.0 197.0,730.0 197.5,730.2 198.0,730.8 198.5,730.1 199.0,730.3 199.5,730.7 200.0,730.4 200.5,730.5 201.0,730.1 201.5,730.7 202.0,731.2 202.5,730.8 203.0,730.4 203.5,731.0 204.0,730.3 204.5,731.0 205.0,730.7 205.5,731.4 206.0,731.4 206.5,730.9 207.0,730.8 207.5,731.2 208.0,730.4 208.5,730.6 209.0,730.4 209.5,730.4 210.0,730.8 210.5,729.7 211.0,729.0 211.5,728.4 212.0,729.2 212.5,729.0 213.0,730.2 213.5,730.9 214.0,730.9 214.5,730.5 215.0,730.6 215.5,730.7 216.0,731.5 216.5,730.9 217.0,730.8 217.5,730.5 218.0,730.7 218.5,731.3 219.0,730.6 219.5,730.6 220.0,730.7 220.5,729.0 221.0,722.5 221.5,710.0 222.0,698.2 222.5,694.8 223.0,698.2 223.5,703.6 224.0,709.9 224.5,715.7 225.0,721.7 225.5,726.5 226.0,729.9 226.5,731.2 227.0,730.8 227.5,730.8 228.0,730.7 228.5,731.3 229.0,730.7 229.5,731.3 230.0,730.4 230.5,731.0 231.0,730.7 231.5,731.1 232.0,730.9 232.5,730.8 233.0,730.7 233.5,730.6 234.0,730.5 234.5,730.9 235.0,730.9 235.5,730.8 236.0,730.9 236.5,731.1 237.0,730.6 237.5,730.8 238.0,731.6 238.5,730.9 239.0,731.4 239.5,730.8 240.0,731.2 240.5,730.7 241.0,731.0 241.5,730.8 242.0,730.9 242.5,731.2 243.0,730.4 243.5,730.3 244.0,730.4 244.5,730.3 245.0,729.6 245.5,729.6 246.0,729.2 246.5,729.7 247.0,729.7 247.5,730.5 248.0,730.7 248.5,731.0 249.0,731.4 249.5,730.9 250.0,731.6 250.5,731.6 251.0,731.4 251.5,731.9 252.0,731.4 252.5,731.1 253.0,730.7 253.5,731.0 254.0,730.6 254.5,731.6 255.0,730.3 255.5,730.8 256.0,730.9 256.5,729.9 257.0,730.4 257.5,729.8 258.0,729.5 258.5,729.8 259.0,729.7 259.5,730.1 260.0,729.7 260.5,730.1 261.0,730.7 261.5,731.5 262.0,731.8 262.5,731.1 263.0,731.7 263.5,731.4 264.0,731.7 264.5,731.1 265.0,731.2 265.5,731.9 266.0,731.7 266.5,730.8 267.0,731.2 267.5,731.6 268.0,730.9 268.5,730.6 269.0,730.7 269.5,730.0 270.0,729.7 270.5,729.8 271.0,729.6 271.5,729.7 272.0,729.8 272.5,729.5 273.0,730.2 273.5,730.3 274.0,730.6 274.5,731.5 275.0,731.2 275.5,731.2 276.0,731.1 276.5,730.6 277.0,731.5 277.5,731.4 278.0,731.3 278.5,731.0 279.0,730.8 279.5,730.9 280.0,731.2 280.5,731.8 281.0,731.3 281.5,731.4 282.0,731.3 282.5,731.9 283.0,731.9 283.5,731.4 284.0,731.6 284.5,731.0 285.0,731.0 285.5,731.3 286.0,731.4 286.5,731.6 287.0,731.7 287.5,731.5 288.0,731.5 288.5,732.2 289.0,731.7 289.5,731.7 290.0,732.1 290.5,731.3 291.0,731.9 291.5,731.3 292.0,731.6 292.5,730.7 293.0,730.8 293.5,730.6 294.0,729.9 294.5,728.0 295.0,727.0 295.5,726.5 296.0,727.6 296.5,728.7 297.0,729.8 297.5,730.4 298.0,731.1 298.5,731.4 299.0,732.1 299.5,731.2 300.0,731.5 300.5,731.7 301.0,731.6 301.5,731.0 302.0,731.8 302.5,731.9 303.0,731.5 303.5,731.3 304.0,732.3 304.5,732.0 305.0,731.5 305.5,731.4 306.0,732.0 306.5,731.8 307.0,730.8 307.5,730.9 308.0,730.5 308.5,731.1 309.0,729.8 309.5,729.9 310.0,729.9 310.5,729.9 311.0,730.1 311.5,730.7 312.0,730.4 312.5,731.2 313.0,731.2 313.5,731.4 314.0,731.8 314.5,732.0 315.0,731.8 315.5,731.6 316.0,731.8 316.5,732.1 317.0,731.9 317.5,731.9 318.0,731.1 318.5,731.2 319.0,730.9 319.5,731.7 320.0,731.6 320.5,731.9 321.0,732.0 321.5,731.6 322.0,732.0 322.5,731.8 323.0,732.1 323.5,731.7 324.0,731.9 324.5,731.7 325.0,731.9 325.5,732.3 326.0,732.1 326.5,732.4 327.0,731.7 327.5,732.8 328.0,732.1 328.5,732.0 329.0,732.5 329.5,731.9 330.0,731.5 330.5,729.9 331.0,726.1 331.5,719.3 332.0,711.2 332.5,703.7 333.0,698.2 333.5,696.7 334.0,699.0 334.5,703.1 335.0,707.4 335.5,712.0 336.0,716.0 336.5,719.7 337.0,722.5 337.5,724.4 338.0,725.9 338.5,728.4 339.0,730.7 339.5,731.7 340.0,732.4 340.5,732.2 341.0,732.0 341.5,732.1 342.0,731.6 342.5,732.0 343.0,731.9 343.5,732.2 344.0,732.4 344.5,731.8 345.0,732.0 345.5,731.8 346.0,731.6 346.5,731.9 347.0,732.3 347.5,731.6 348.0,731.5 348.5,731.3 349.0,731.0 349.5,730.4 350.0,730.5 350.5,730.3 351.0,730.5 351.5,730.8 352.0,730.8 352.5,731.6 353.0,732.5 353.5,732.7 354.0,732.5 354.5,732.3 355.0,732.1 355.5,731.9 356.0,731.6 356.5,731.3 357.0,731.6 357.5,731.8 358.0,732.3 358.5,731.3 359.0,732.0 359.5,731.9 360.0,732.1 360.5,732.5 361.0,732.1 361.5,732.1 362.0,731.7 362.5,731.6 363.0,731.3 363.5,731.8 364.0,731.6 364.5,731.9 365.0,731.6 365.5,731.9 366.0,730.3 366.5,730.8 367.0,730.0 367.5,730.4 368.0,730.6 368.5,731.2 369.0,731.6 369.5,731.2 370.0,731.5 370.5,731.2 371.0,730.0 371.5,730.1 372.0,729.9 372.5,730.0 373.0,730.2 373.5,730.7 374.0,730.4 374.5,731.3 375.0,731.6 375.5,732.1 376.0,732.5 376.5,732.6 377.0,732.9 377.5,731.7 378.0,731.1 378.5,731.9 379.0,731.7 379.5,732.3 380.0,732.1 380.5,732.4 381.0,731.9 381.5,732.4 382.0,731.8 382.5,731.1 383.0,731.6 383.5,731.8 384.0,731.9 384.5,732.4 385.0,731.9 385.5,731.9 386.0,731.5 386.5,731.3 387.0,731.0 387.5,730.0 388.0,730.2 388.5,730.5 389.0,730.3 389.5,730.7 390.0,731.0 390.5,731.1 391.0,731.3 391.5,731.6 392.0,731.5 392.5,731.5 393.0,731.5 393.5,731.6 394.0,731.1 394.5,730.9 395.0,730.3 395.5,729.9 396.0,729.1 396.5,728.9 397.0,727.9 397.5,728.6 398.0,729.4 398.5,730.5 399.0,731.2 399.5,731.7 400.0,731.9 400.5,732.1 401.0,732.5 401.5,732.4 402.0,732.3 402.5,732.1 403.0,731.8 403.5,731.8 404.0,731.7 404.5,732.0 405.0,732.5 405.5,731.7 406.0,732.2 406.5,731.8 407.0,730.9 407.5,730.4 408.0,729.9 408.5,730.5 409.0,730.8 409.5,731.2 410.0,731.6 410.5,731.7 411.0,731.7 411.5,731.8 412.0,731.7 412.5,731.9 413.0,731.7 413.5,732.5 414.0,732.3 414.5,732.7 415.0,731.7 415.5,732.1 416.0,731.9 416.5,732.2 417.0,732.3 417.5,732.0 418.0,731.6 418.5,731.0 419.0,730.3 419.5,730.9 420.0,730.4 420.5,730.7 421.0,731.0 421.5,731.0 422.0,731.5 422.5,732.1 423.0,731.6 423.5,731.9 424.0,731.5 424.5,731.7 425.0,731.7 425.5,731.7 426.0,730.9 426.5,731.1 427.0,730.2 427.5,730.4 428.0,730.8 428.5,731.9 429.0,731.9 429.5,731.7 430.0,732.8 430.5,733.2 431.0,732.7 431.5,733.0 432.0,732.3 432.5,732.5 433.0,731.9 433.5,732.0 434.0,731.3 434.5,731.2 435.0,731.6 435.5,731.2 436.0,730.6 436.5,726.8 437.0,718.3 437.5,707.1 438.0,698.4 438.5,696.0 439.0,699.3 439.5,705.1 440.0,711.6 440.5,718.7 441.0,724.6 441.5,729.3 442.0,731.3 442.5,732.1 443.0,731.9 443.5,732.2 444.0,732.4 444.5,732.6 445.0,731.7 445.5,732.0 446.0,732.7 446.5,732.6 447.0,731.8 447.5,732.4 448.0,731.9 448.5,732.3 449.0,732.8 449.5,732.4 450.0,732.4 450.5,732.1 451.0,732.2 451.5,732.1 452.0,732.0 452.5,731.5 453.0,732.0 453.5,732.3 454.0,732.3 454.5,732.5 455.0,731.7 455.5,732.8 456.0,732.1 456.5,732.4 457.0,732.0 457.5,732.2 458.0,732.3 458.5,732.4 459.0,732.3 459.5,732.2 460.0,731.7 460.5,732.4 461.0,731.9 461.5,732.1 462.0,732.4 462.5,732.2 463.0,732.1 463.5,732.0 464.0,732.5 464.5,732.7 465.0,733.2 465.5,732.7 466.0,732.3 466.5,731.7 467.0,731.9 467.5,732.1 468.0,731.9 468.5,732.0 469.0,731.5 469.5,732.4 470.0,732.2 470.5,732.0 471.0,732.0 471.5,732.8 472.0,732.2 472.5,731.5 473.0,731.4 473.5,731.1 474.0,731.3 474.5,730.2 475.0,731.4 475.5,730.7 476.0,731.0 476.5,731.1 477.0,732.1 477.5,732.4 478.0,732.0 478.5,732.3 479.0,732.3 479.5,732.6 480.0,731.6 480.5,732.5 481.0,732.6 481.5,732.1 482.0,731.4 482.5,731.8 483.0,731.3 483.5,732.6 484.0,731.1 484.5,730.8 485.0,730.4 485.5,731.0 486.0,730.9 486.5,731.1 487.0,731.4 487.5,732.0 488.0,732.1 488.5,732.2 489.0,732.3 489.5,732.2 490.0,732.3 490.5,731.7 491.0,732.4 491.5,732.2 492.0,732.2 492.5,732.4 493.0,732.6 493.5,732.5 494.0,732.1 494.5,732.5 495.0,732.4" fill="none" stroke="#111" stroke-width="1.9" stroke-linejoin="round" stroke-linecap="round"/>
<path d="M68.0,784.6 68.5,784.1 69.0,784.3 69.5,783.6 70.0,784.1 70.5,784.5 71.0,784.5 71.5,783.9 72.0,783.9 72.5,784.0 73.0,783.4 73.5,784.6 74.0,784.3 74.5,784.4 75.0,784.6 75.5,784.3 76.0,784.4 76.5,784.5 77.0,784.6 77.5,784.3 78.0,784.0 78.5,784.5 79.0,784.5 79.5,784.1 80.0,784.6 80.5,784.5 81.0,784.5 81.5,784.4 82.0,784.6 82.5,784.7 83.0,784.2 83.5,784.7 84.0,784.4 84.5,784.4 85.0,784.6 85.5,784.2 86.0,784.3 86.5,784.0 87.0,784.2 87.5,784.2 88.0,784.1 88.5,784.1 89.0,784.4 89.5,784.4 90.0,784.0 90.5,784.1 91.0,784.4 91.5,784.5 92.0,783.9 92.5,784.2 93.0,784.5 93.5,784.6 94.0,784.5 94.5,784.0 95.0,784.5 95.5,784.1 96.0,784.0 96.5,784.3 97.0,784.0 97.5,784.0 98.0,783.3 98.5,783.3 99.0,778.8 99.5,768.1 100.0,754.8 100.5,747.2 101.0,747.9 101.5,752.9 102.0,758.9 102.5,764.2 103.0,770.4 103.5,776.5 104.0,781.4 104.5,783.5 105.0,784.2 105.5,784.3 106.0,784.2 106.5,784.2 107.0,784.3 107.5,784.1 108.0,784.2 108.5,784.3 109.0,784.1 109.5,784.0 110.0,784.3 110.5,784.3 111.0,784.3 111.5,784.5 112.0,784.4 112.5,784.2 113.0,784.0 113.5,783.8 114.0,784.1 114.5,783.9 115.0,783.4 115.5,782.7 116.0,781.5 116.5,780.9 117.0,780.3 117.5,780.4 118.0,780.6 118.5,781.9 119.0,782.7 119.5,782.9 120.0,783.6 120.5,783.9 121.0,784.2 121.5,784.4 122.0,783.7 122.5,784.4 123.0,784.3 123.5,784.0 124.0,783.9 124.5,784.2 125.0,784.1 125.5,784.0 126.0,784.0 126.5,784.6 127.0,783.7 127.5,784.6 128.0,783.7 128.5,784.4 129.0,783.9 129.5,784.0 130.0,784.0 130.5,784.0 131.0,784.4 131.5,784.0 132.0,783.6 132.5,784.1 133.0,783.6 133.5,784.1 134.0,784.2 134.5,784.2 135.0,784.2 135.5,784.7 136.0,784.8 136.5,784.7 137.0,784.8 137.5,784.4 138.0,784.1 138.5,784.2 139.0,784.1 139.5,784.1 140.0,784.2 140.5,784.5 141.0,784.8 141.5,784.6 142.0,784.6 142.5,784.2 143.0,784.6 143.5,784.3 144.0,784.4 144.5,784.9 145.0,784.6 145.5,784.4 146.0,784.7 146.5,784.3 147.0,784.5 147.5,783.6 148.0,780.2 148.5,770.4 149.0,756.8 149.5,747.4 150.0,746.6 150.5,751.3 151.0,757.2 151.5,763.4 152.0,769.8 152.5,775.7 153.0,780.8 153.5,783.6 154.0,784.7 154.5,784.5 155.0,784.5 155.5,784.7 156.0,784.5 156.5,784.7 157.0,784.5 157.5,784.6 158.0,784.2 158.5,784.6 159.0,784.4 159.5,784.3 160.0,784.1 160.5,784.1 161.0,784.2 161.5,784.7 162.0,784.6 162.5,784.5 163.0,784.4 163.5,784.6 164.0,784.2 164.5,784.0 165.0,784.1 165.5,784.4 166.0,785.1 166.5,784.1 167.0,784.2 167.5,784.2 168.0,784.2 168.5,784.0 169.0,784.2 169.5,784.0 170.0,784.4 170.5,784.1 171.0,784.3 171.5,784.3 172.0,784.4 172.5,784.7 173.0,784.4 173.5,784.6 174.0,784.5 174.5,784.6 175.0,784.7 175.5,784.4 176.0,784.8 176.5,784.3 177.0,784.9 177.5,784.1 178.0,784.5 178.5,784.6 179.0,784.7 179.5,784.4 180.0,784.6 180.5,784.4 181.0,784.5 181.5,784.4 182.0,784.4 182.5,784.4 183.0,784.6 183.5,784.4 184.0,784.3 184.5,784.1 185.0,784.2 185.5,784.1 186.0,784.7 186.5,784.7 187.0,784.2 187.5,784.4 188.0,784.7 188.5,784.4 189.0,784.3 189.5,784.1 190.0,784.4 190.5,784.5 191.0,784.6 191.5,784.7 192.0,784.6 192.5,784.8 193.0,784.9 193.5,784.7 194.0,784.6 194.5,784.2 195.0,784.6 195.5,784.5 196.0,784.8 196.5,783.9 197.0,784.2 197.5,783.8 198.0,784.2 198.5,784.4 199.0,783.9 199.5,784.3 200.0,784.0 200.5,784.3 201.0,784.3 201.5,784.1 202.0,783.9 202.5,784.1 203.0,784.4 203.5,784.6 204.0,784.2 204.5,784.4 205.0,784.7 205.5,784.0 206.0,784.3 206.5,784.4 207.0,784.1 207.5,784.2 208.0,784.8 208.5,784.4 209.0,784.4 209.5,784.0 210.0,784.4 210.5,784.4 211.0,784.4 211.5,783.9 212.0,783.6 212.5,784.3 213.0,784.5 213.5,784.2 214.0,784.4 214.5,783.8 215.0,784.6 215.5,784.4 216.0,783.8 216.5,784.0 217.0,784.6 217.5,784.8 218.0,784.4 218.5,784.3 219.0,784.1 219.5,784.3 220.0,784.2 220.5,783.8 221.0,780.7 221.5,772.2 222.0,759.9 222.5,751.6 223.0,750.9 223.5,755.0 224.0,760.5 224.5,765.8 225.0,771.4 225.5,776.8 226.0,780.5 226.5,783.4 227.0,784.7 227.5,784.1 228.0,784.8 228.5,784.4 229.0,784.5 229.5,784.2 230.0,784.2 230.5,784.0 231.0,784.3 231.5,784.5 232.0,784.0 232.5,784.6 233.0,784.9 233.5,784.5 234.0,784.1 234.5,784.9 235.0,784.2 235.5,784.4 236.0,784.4 236.5,784.9 237.0,784.0 237.5,784.4 238.0,784.0 238.5,783.9 239.0,784.2 239.5,784.4 240.0,784.4 240.5,784.6 241.0,784.3 241.5,784.4 242.0,784.1 242.5,784.6 243.0,784.4 243.5,784.6 244.0,784.9 244.5,784.9 245.0,785.0 245.5,784.0 246.0,784.3 246.5,784.3 247.0,784.2 247.5,784.4 248.0,784.1 248.5,783.6 249.0,784.2 249.5,784.1 250.0,783.8 250.5,783.7 251.0,784.1 251.5,784.0 252.0,783.3 252.5,784.0 253.0,784.2 253.5,784.8 254.0,784.0 254.5,784.3 255.0,784.6 255.5,784.2 256.0,784.2 256.5,784.0 257.0,784.4 257.5,784.2 258.0,783.9 258.5,784.6 259.0,784.6 259.5,784.7 260.0,784.4 260.5,784.6 261.0,785.3 261.5,784.5 262.0,784.5 262.5,785.0 263.0,785.0 263.5,784.6 264.0,784.2 264.5,784.5 265.0,784.3 265.5,784.6 266.0,784.0 266.5,784.3 267.0,784.3 267.5,784.3 268.0,784.9 268.5,784.4 269.0,784.2 269.5,784.5 270.0,784.4 270.5,784.2 271.0,784.5 271.5,783.9 272.0,784.0 272.5,784.6 273.0,784.7 273.5,784.5 274.0,784.8 274.5,784.5 275.0,785.1 275.5,784.6 276.0,784.2 276.5,784.6 277.0,784.7 277.5,784.6 278.0,784.4 278.5,784.5 279.0,784.1 279.5,784.4 280.0,784.3 280.5,784.3 281.0,784.4 281.5,784.5 282.0,784.4 282.5,784.0 283.0,784.5 283.5,784.5 284.0,784.7 284.5,785.0 285.0,785.0 285.5,784.9 286.0,784.9 286.5,784.8 287.0,784.8 287.5,784.7 288.0,784.5 288.5,784.8 289.0,784.7 289.5,784.6 290.0,785.0 290.5,784.3 291.0,784.6 291.5,784.4 292.0,784.7 292.5,784.7 293.0,784.5 293.5,784.7 294.0,784.0 294.5,782.6 295.0,776.5 295.5,764.1 296.0,752.7 296.5,749.2 297.0,752.2 297.5,756.9 298.0,762.5 298.5,767.2 299.0,772.3 299.5,777.5 300.0,781.7 300.5,784.2 301.0,784.9 301.5,784.5 302.0,784.6 302.5,784.9 303.0,784.8 303.5,785.3 304.0,784.3 304.5,784.4 305.0,784.9 305.5,784.3 306.0,784.6 306.5,784.6 307.0,784.7 307.5,784.4 308.0,784.6 308.5,784.6 309.0,784.2 309.5,784.6 310.0,784.7 310.5,784.7 311.0,784.2 311.5,784.6 312.0,784.6 312.5,785.0 313.0,784.3 313.5,784.5 314.0,784.6 314.5,784.0 315.0,784.3 315.5,784.6 316.0,784.3 316.5,784.5 317.0,784.5 317.5,784.4 318.0,784.6 318.5,784.9 319.0,784.2 319.5,784.7 320.0,784.9 320.5,785.0 321.0,785.4 321.5,784.6 322.0,784.8 322.5,784.7 323.0,784.8 323.5,784.9 324.0,784.2 324.5,784.4 325.0,784.4 325.5,784.6 326.0,784.3 326.5,784.6 327.0,784.1 327.5,784.0 328.0,784.9 328.5,784.8 329.0,784.7 329.5,784.4 330.0,784.7 330.5,784.3 331.0,783.9 331.5,784.0 332.0,783.8 332.5,782.6 333.0,782.3 333.5,782.1 334.0,781.7 334.5,781.9 335.0,781.9 335.5,782.1 336.0,783.0 336.5,783.3 337.0,783.4 337.5,784.0 338.0,784.2 338.5,784.3 339.0,784.7 339.5,784.7 340.0,784.7 340.5,784.8 341.0,785.1 341.5,784.6 342.0,785.1 342.5,784.8 343.0,785.1 343.5,785.1 344.0,784.7 344.5,784.8 345.0,784.7 345.5,784.6 346.0,784.7 346.5,784.8 347.0,784.7 347.5,784.4 348.0,784.3 348.5,784.6 349.0,783.4 349.5,783.2 350.0,783.0 350.5,782.7 351.0,782.0 351.5,782.1 352.0,782.3 352.5,782.6 353.0,782.8 353.5,783.1 354.0,783.6 354.5,783.7 355.0,784.6 355.5,784.2 356.0,784.2 356.5,784.9 357.0,784.9 357.5,784.3 358.0,784.6 358.5,784.7 359.0,785.0 359.5,784.3 360.0,784.5 360.5,784.7 361.0,784.7 361.5,784.1 362.0,784.3 362.5,784.2 363.0,783.9 363.5,783.5 364.0,782.6 364.5,782.1 365.0,782.4 365.5,782.4 366.0,782.4 366.5,782.7 367.0,782.7 367.5,783.6 368.0,784.3 368.5,784.2 369.0,784.1 369.5,784.5 370.0,784.4 370.5,784.8 371.0,784.2 371.5,784.6 372.0,784.3 372.5,784.4 373.0,784.7 373.5,784.8 374.0,784.8 374.5,784.8 375.0,784.4 375.5,784.2 376.0,784.4 376.5,784.6 377.0,784.3 377.5,784.4 378.0,784.4 378.5,784.7 379.0,784.4 379.5,784.4 380.0,784.3 380.5,784.2 381.0,785.0 381.5,784.4 382.0,784.2 382.5,784.2 383.0,784.2 383.5,784.1 384.0,783.7 384.5,783.8 385.0,783.9 385.5,783.5 386.0,783.8 386.5,784.0 387.0,784.3 387.5,784.5 388.0,784.4 388.5,784.8 389.0,783.9 389.5,784.9 390.0,784.3 390.5,784.7 391.0,784.6 391.5,784.5 392.0,784.5 392.5,784.0 393.0,784.9 393.5,784.2 394.0,784.8 394.5,783.1 395.0,777.4 395.5,765.4 396.0,752.3 396.5,746.3 397.0,748.0 397.5,753.4 398.0,759.2 398.5,765.3 399.0,771.4 399.5,777.3 400.0,781.7 400.5,783.8 401.0,785.0 401.5,784.7 402.0,783.9 402.5,784.2 403.0,784.5 403.5,784.7 404.0,784.7 404.5,784.3 405.0,784.9 405.5,784.2 406.0,784.5 406.5,784.4 407.0,784.0 407.5,784.7 408.0,785.2 408.5,784.8 409.0,785.2 409.5,784.6 410.0,784.3 410.5,784.7 411.0,784.4 411.5,784.7 412.0,785.3 412.5,784.6 413.0,784.7 413.5,784.7 414.0,784.6 414.5,784.3 415.0,784.5 415.5,784.6 416.0,785.3 416.5,784.7 417.0,784.4 417.5,784.2 418.0,785.1 418.5,785.0 419.0,785.2 419.5,785.2 420.0,784.5 420.5,784.7 421.0,784.6 421.5,784.9 422.0,784.6 422.5,785.1 423.0,784.5 423.5,784.1 424.0,784.9 424.5,784.4 425.0,784.9 425.5,784.6 426.0,784.6 426.5,784.7 427.0,784.3 427.5,785.0 428.0,784.6 428.5,784.7 429.0,784.5 429.5,784.4 430.0,784.3 430.5,784.6 431.0,784.3 431.5,784.4 432.0,784.6 432.5,784.2 433.0,784.6 433.5,784.3 434.0,783.7 434.5,784.0 435.0,784.1 435.5,783.2 436.0,782.5 436.5,781.7 437.0,781.7 437.5,781.5 438.0,781.0 438.5,781.6 439.0,782.3 439.5,782.9 440.0,783.1 440.5,783.3 441.0,784.3 441.5,784.7 442.0,784.8 442.5,784.7 443.0,784.8 443.5,784.6 444.0,784.9 444.5,785.0 445.0,784.4 445.5,785.2 446.0,785.3 446.5,784.9 447.0,784.5 447.5,784.1 448.0,784.8 448.5,785.1 449.0,785.1 449.5,784.9 450.0,784.8 450.5,784.8 451.0,784.2 451.5,784.6 452.0,784.7 452.5,784.4 453.0,784.8 453.5,784.5 454.0,784.9 454.5,785.0 455.0,785.0 455.5,785.1 456.0,785.5 456.5,785.2 457.0,785.6 457.5,785.1 458.0,784.8 458.5,785.1 459.0,784.7 459.5,785.1 460.0,784.5 460.5,784.7 461.0,785.1 461.5,784.8 462.0,784.9 462.5,784.6 463.0,784.7 463.5,784.6 464.0,785.0 464.5,784.9 465.0,784.7 465.5,784.5 466.0,785.0 466.5,785.1 467.0,784.9 467.5,784.7 468.0,784.8 468.5,784.7 469.0,784.5 469.5,784.8 470.0,785.2 470.5,784.3 471.0,784.5 471.5,784.8 472.0,784.9 472.5,784.8 473.0,784.9 473.5,784.8 474.0,784.8 474.5,785.4 475.0,785.1 475.5,784.6 476.0,784.6 476.5,784.8 477.0,784.7 477.5,784.7 478.0,784.8 478.5,784.8 479.0,784.5 479.5,784.7 480.0,785.2 480.5,784.4 481.0,784.5 481.5,784.7 482.0,784.4 482.5,784.3 483.0,784.8 483.5,785.0 484.0,785.3 484.5,784.8 485.0,784.6 485.5,785.3 486.0,785.2 486.5,785.2 487.0,785.3 487.5,784.9 488.0,784.9 488.5,784.5 489.0,784.8 489.5,784.6 490.0,784.6 490.5,785.0 491.0,784.6 491.5,784.4 492.0,784.9 492.5,784.7 493.0,784.4 493.5,784.7 494.0,784.4 494.5,784.7 495.0,784.9" fill="none" stroke="#111" stroke-width="1.8" stroke-linejoin="round" stroke-linecap="round"/>
<text x="49.9" y="732.4" font-size="15.5" font-weight="normal" font-style="normal" text-anchor="start" >L</text>
<text x="51.8" y="782.1" font-size="15.5" font-weight="normal" font-style="normal" text-anchor="start" >R</text>
<path d="M0,760.5 C1.4,760.8 2.0,759.9 2.1,757.9 L2.4,747.6 C2.5,745.8 3.1,745.2 4.2,745.6" fill="none" stroke="#1a1a1a" stroke-width="1.15"/>
<text x="3.8" y="759.9" font-size="15.5" font-weight="normal" font-style="normal" text-anchor="start" >C4</text>
<rect x="42.15" y="726.2" width="1.5" height="55.8" fill="#111"/>
<line x1="375.6" y1="800.65" x2="493.6" y2="800.65" stroke="#111" stroke-width="3.5" stroke-linecap="round"/>
<text x="420.5" y="821.9" font-size="15.5" font-weight="normal" font-style="normal" text-anchor="start" >10 s</text>
<text x="561.5" y="16.1" font-size="23" font-weight="bold" font-style="normal" text-anchor="start" >b</text>
<line x1="622.4" y1="63.8" x2="622.4" y2="216.2" stroke="#111" stroke-width="1.5"/>
<line x1="621.65" y1="216.2" x2="686" y2="216.2" stroke="#111" stroke-width="1.5"/>
<line x1="614.6" y1="213.4" x2="622.4" y2="213.4" stroke="#111" stroke-width="1.5"/>
<text x="610.2" y="219.3" font-size="15.5" font-weight="normal" font-style="normal" text-anchor="end" >0.0</text>
<line x1="614.6" y1="170.2" x2="622.4" y2="170.2" stroke="#111" stroke-width="1.5"/>
<text x="610.2" y="176.1" font-size="15.5" font-weight="normal" font-style="normal" text-anchor="end" >0.5</text>
<line x1="614.6" y1="127.0" x2="622.4" y2="127.0" stroke="#111" stroke-width="1.5"/>
<text x="610.2" y="132.9" font-size="15.5" font-weight="normal" font-style="normal" text-anchor="end" >1.0</text>
<line x1="614.6" y1="83.8" x2="622.4" y2="83.8" stroke="#111" stroke-width="1.5"/>
<text x="610.2" y="89.7" font-size="15.5" font-weight="normal" font-style="normal" text-anchor="end" >1.5</text>
<line x1="637" y1="216.2" x2="637" y2="223.7" stroke="#111" stroke-width="1.5"/>
<line x1="674.2" y1="216.2" x2="674.2" y2="223.7" stroke="#111" stroke-width="1.5"/>
<text x="0" y="0" font-size="15.8" text-anchor="middle" transform="translate(576.0,139.0) rotate(-90)">Normalized Amp.</text>
<text x="0" y="0" font-size="15.5" text-anchor="end" transform="translate(641.2,230.0) rotate(-90)">L C4</text>
<text x="0" y="0" font-size="15.5" text-anchor="end" transform="translate(678.3,230.0) rotate(-90)">R C4</text>
<line x1="637" y1="82.6" x2="674" y2="119.0" stroke="#959595" stroke-width="1.6"/>
<path d="M634.7,80.3 L639.3,84.89999999999999 M634.7,84.89999999999999 L639.3,80.3" stroke="#959595" stroke-width="1.1"/>
<path d="M671.7,116.7 L676.3,121.3 M671.7,121.3 L676.3,116.7" stroke="#959595" stroke-width="1.1"/>
<line x1="637" y1="110.0" x2="674" y2="111.5" stroke="#959595" stroke-width="1.6"/>
<path d="M634.7,107.7 L639.3,112.3 M634.7,112.3 L639.3,107.7" stroke="#959595" stroke-width="1.1"/>
<path d="M671.7,109.2 L676.3,113.8 M671.7,113.8 L676.3,109.2" stroke="#959595" stroke-width="1.1"/>
<line x1="637" y1="111.0" x2="674" y2="107.4" stroke="#959595" stroke-width="1.6"/>
<path d="M634.7,108.7 L639.3,113.3 M634.7,113.3 L639.3,108.7" stroke="#959595" stroke-width="1.1"/>
<path d="M671.7,105.10000000000001 L676.3,109.7 M671.7,109.7 L676.3,105.10000000000001" stroke="#959595" stroke-width="1.1"/>
<line x1="637" y1="117.6" x2="674" y2="110.0" stroke="#959595" stroke-width="1.6"/>
<path d="M634.7,115.3 L639.3,119.89999999999999 M634.7,119.89999999999999 L639.3,115.3" stroke="#959595" stroke-width="1.1"/>
<path d="M671.7,107.7 L676.3,112.3 M671.7,112.3 L676.3,107.7" stroke="#959595" stroke-width="1.1"/>
<line x1="637" y1="119.0" x2="674" y2="121.6" stroke="#959595" stroke-width="1.6"/>
<path d="M634.7,116.7 L639.3,121.3 M634.7,121.3 L639.3,116.7" stroke="#959595" stroke-width="1.1"/>
<path d="M671.7,119.3 L676.3,123.89999999999999 M671.7,123.89999999999999 L676.3,119.3" stroke="#959595" stroke-width="1.1"/>
<line x1="637" y1="121.0" x2="674" y2="117.6" stroke="#959595" stroke-width="1.6"/>
<path d="M634.7,118.7 L639.3,123.3 M634.7,123.3 L639.3,118.7" stroke="#959595" stroke-width="1.1"/>
<path d="M671.7,115.3 L676.3,119.89999999999999 M671.7,119.89999999999999 L676.3,115.3" stroke="#959595" stroke-width="1.1"/>
<line x1="637" y1="123.0" x2="674" y2="123.6" stroke="#959595" stroke-width="1.6"/>
<path d="M634.7,120.7 L639.3,125.3 M634.7,125.3 L639.3,120.7" stroke="#959595" stroke-width="1.1"/>
<path d="M671.7,121.3 L676.3,125.89999999999999 M671.7,125.89999999999999 L676.3,121.3" stroke="#959595" stroke-width="1.1"/>
<line x1="637" y1="124.6" x2="674" y2="130.2" stroke="#959595" stroke-width="1.6"/>
<path d="M634.7,122.3 L639.3,126.89999999999999 M634.7,126.89999999999999 L639.3,122.3" stroke="#959595" stroke-width="1.1"/>
<path d="M671.7,127.89999999999999 L676.3,132.5 M671.7,132.5 L676.3,127.89999999999999" stroke="#959595" stroke-width="1.1"/>
<line x1="637" y1="134.3" x2="674" y2="104.4" stroke="#959595" stroke-width="1.6"/>
<path d="M634.7,132.0 L639.3,136.60000000000002 M634.7,136.60000000000002 L639.3,132.0" stroke="#959595" stroke-width="1.1"/>
<path d="M671.7,102.10000000000001 L676.3,106.7 M671.7,106.7 L676.3,102.10000000000001" stroke="#959595" stroke-width="1.1"/>
<line x1="637" y1="135.8" x2="674" y2="132.8" stroke="#959595" stroke-width="1.6"/>
<path d="M634.7,133.5 L639.3,138.10000000000002 M634.7,138.10000000000002 L639.3,133.5" stroke="#959595" stroke-width="1.1"/>
<path d="M671.7,130.5 L676.3,135.10000000000002 M671.7,135.10000000000002 L676.3,130.5" stroke="#959595" stroke-width="1.1"/>
<line x1="637" y1="138.8" x2="674" y2="135.8" stroke="#959595" stroke-width="1.6"/>
<path d="M634.7,136.5 L639.3,141.10000000000002 M634.7,141.10000000000002 L639.3,136.5" stroke="#959595" stroke-width="1.1"/>
<path d="M671.7,133.5 L676.3,138.10000000000002 M671.7,138.10000000000002 L676.3,133.5" stroke="#959595" stroke-width="1.1"/>
<line x1="637" y1="141.0" x2="674" y2="137.8" stroke="#959595" stroke-width="1.6"/>
<path d="M634.7,138.7 L639.3,143.3 M634.7,143.3 L639.3,138.7" stroke="#959595" stroke-width="1.1"/>
<path d="M671.7,135.5 L676.3,140.10000000000002 M671.7,140.10000000000002 L676.3,135.5" stroke="#959595" stroke-width="1.1"/>
<line x1="637" y1="143.9" x2="674" y2="144.9" stroke="#959595" stroke-width="1.6"/>
<path d="M634.7,141.6 L639.3,146.20000000000002 M634.7,146.20000000000002 L639.3,141.6" stroke="#959595" stroke-width="1.1"/>
<path d="M671.7,142.6 L676.3,147.20000000000002 M671.7,147.20000000000002 L676.3,142.6" stroke="#959595" stroke-width="1.1"/>
<line x1="637" y1="146.0" x2="674" y2="135.8" stroke="#959595" stroke-width="1.6"/>
<path d="M634.7,143.7 L639.3,148.3 M634.7,148.3 L639.3,143.7" stroke="#959595" stroke-width="1.1"/>
<path d="M671.7,133.5 L676.3,138.10000000000002 M671.7,138.10000000000002 L676.3,133.5" stroke="#959595" stroke-width="1.1"/>
<line x1="637" y1="153.0" x2="674" y2="144.9" stroke="#959595" stroke-width="1.6"/>
<path d="M634.7,150.7 L639.3,155.3 M634.7,155.3 L639.3,150.7" stroke="#959595" stroke-width="1.1"/>
<path d="M671.7,142.6 L676.3,147.20000000000002 M671.7,147.20000000000002 L676.3,142.6" stroke="#959595" stroke-width="1.1"/>
<line x1="630.9" y1="127" x2="680" y2="127" stroke="#111" stroke-width="1.5"/>
<path d="M630.9,122 L630.9,132 M628.4,122 L633.4,122 M628.4,132 L633.4,132" stroke="#222" stroke-width="1"/>
<path d="M680,123.7 L680,130.3 M677.5,123.7 L682.5,123.7 M677.5,130.3 L682.5,130.3" stroke="#222" stroke-width="1"/>
<circle cx="630.9" cy="127" r="2.5" fill="#111"/>
<circle cx="680" cy="127" r="2.5" fill="#111"/>
<text x="653.5" y="176.5" font-size="16" font-weight="normal" font-style="normal" text-anchor="middle" >NS</text>
<text x="557" y="311" font-size="23" font-weight="bold" font-style="normal" text-anchor="start" >d</text>
<line x1="622.8" y1="350.2" x2="622.8" y2="503.1" stroke="#111" stroke-width="1.5"/>
<line x1="622.05" y1="503.1" x2="686" y2="503.1" stroke="#111" stroke-width="1.5"/>
<line x1="615.0" y1="499.3" x2="622.8" y2="499.3" stroke="#111" stroke-width="1.5"/>
<text x="610.2" y="505.2" font-size="15.5" font-weight="normal" font-style="normal" text-anchor="end" >0.0</text>
<line x1="615.0" y1="456.3" x2="622.8" y2="456.3" stroke="#111" stroke-width="1.5"/>
<text x="610.2" y="462.2" font-size="15.5" font-weight="normal" font-style="normal" text-anchor="end" >0.5</text>
<line x1="615.0" y1="413.3" x2="622.8" y2="413.3" stroke="#111" stroke-width="1.5"/>
<text x="610.2" y="419.2" font-size="15.5" font-weight="normal" font-style="normal" text-anchor="end" >1.0</text>
<line x1="615.0" y1="370.3" x2="622.8" y2="370.3" stroke="#111" stroke-width="1.5"/>
<text x="610.2" y="376.2" font-size="15.5" font-weight="normal" font-style="normal" text-anchor="end" >1.5</text>
<line x1="637" y1="503.1" x2="637" y2="510.6" stroke="#111" stroke-width="1.5"/>
<line x1="674.2" y1="503.1" x2="674.2" y2="510.6" stroke="#111" stroke-width="1.5"/>
<text x="0" y="0" font-size="15.8" text-anchor="middle" transform="translate(576.0,424.8) rotate(-90)">Normalized Amp.</text>
<text x="0" y="0" font-size="15.5" text-anchor="end" transform="translate(641.2,516.9) rotate(-90)">ip.C4</text>
<text x="0" y="0" font-size="15.5" text-anchor="end" transform="translate(678.3,516.9) rotate(-90)">co.C4</text>
<line x1="637" y1="393.4" x2="674" y2="406.8" stroke="#959595" stroke-width="1.6"/>
<path d="M634.7,391.09999999999997 L639.3,395.7 M634.7,395.7 L639.3,391.09999999999997" stroke="#959595" stroke-width="1.1"/>
<path d="M671.7,404.5 L676.3,409.1 M671.7,409.1 L676.3,404.5" stroke="#959595" stroke-width="1.1"/>
<line x1="637" y1="393.4" x2="674" y2="420.8" stroke="#959595" stroke-width="1.6"/>
<path d="M634.7,391.09999999999997 L639.3,395.7 M634.7,395.7 L639.3,391.09999999999997" stroke="#959595" stroke-width="1.1"/>
<path d="M671.7,418.5 L676.3,423.1 M671.7,423.1 L676.3,418.5" stroke="#959595" stroke-width="1.1"/>
<line x1="637" y1="401.5" x2="674" y2="404.7" stroke="#959595" stroke-width="1.6"/>
<path d="M634.7,399.2 L639.3,403.8 M634.7,403.8 L639.3,399.2" stroke="#959595" stroke-width="1.1"/>
<path d="M671.7,402.4 L676.3,407.0 M671.7,407.0 L676.3,402.4" stroke="#959595" stroke-width="1.1"/>
<line x1="637" y1="408.4" x2="674" y2="417.6" stroke="#959595" stroke-width="1.6"/>
<path d="M634.7,406.09999999999997 L639.3,410.7 M634.7,410.7 L639.3,406.09999999999997" stroke="#959595" stroke-width="1.1"/>
<path d="M671.7,415.3 L676.3,419.90000000000003 M671.7,419.90000000000003 L676.3,415.3" stroke="#959595" stroke-width="1.1"/>
<line x1="637" y1="410.0" x2="674" y2="419.2" stroke="#959595" stroke-width="1.6"/>
<path d="M634.7,407.7 L639.3,412.3 M634.7,412.3 L639.3,407.7" stroke="#959595" stroke-width="1.1"/>
<path d="M671.7,416.9 L676.3,421.5 M671.7,421.5 L676.3,416.9" stroke="#959595" stroke-width="1.1"/>
<line x1="637" y1="412.2" x2="674" y2="422.4" stroke="#959595" stroke-width="1.6"/>
<path d="M634.7,409.9 L639.3,414.5 M634.7,414.5 L639.3,409.9" stroke="#959595" stroke-width="1.1"/>
<path d="M671.7,420.09999999999997 L676.3,424.7 M671.7,424.7 L676.3,420.09999999999997" stroke="#959595" stroke-width="1.1"/>
<line x1="637" y1="415.4" x2="674" y2="433.7" stroke="#959595" stroke-width="1.6"/>
<path d="M634.7,413.09999999999997 L639.3,417.7 M634.7,417.7 L639.3,413.09999999999997" stroke="#959595" stroke-width="1.1"/>
<path d="M671.7,431.4 L676.3,436.0 M671.7,436.0 L676.3,431.4" stroke="#959595" stroke-width="1.1"/>
<line x1="637" y1="417.0" x2="674" y2="424.0" stroke="#959595" stroke-width="1.6"/>
<path d="M634.7,414.7 L639.3,419.3 M634.7,419.3 L639.3,414.7" stroke="#959595" stroke-width="1.1"/>
<path d="M671.7,421.7 L676.3,426.3 M671.7,426.3 L676.3,421.7" stroke="#959595" stroke-width="1.1"/>
<line x1="637" y1="418.1" x2="674" y2="438.5" stroke="#959595" stroke-width="1.6"/>
<path d="M634.7,415.8 L639.3,420.40000000000003 M634.7,420.40000000000003 L639.3,415.8" stroke="#959595" stroke-width="1.1"/>
<path d="M671.7,436.2 L676.3,440.8 M671.7,440.8 L676.3,436.2" stroke="#959595" stroke-width="1.1"/>
<line x1="637" y1="419.2" x2="674" y2="441.2" stroke="#959595" stroke-width="1.6"/>
<path d="M634.7,416.9 L639.3,421.5 M634.7,421.5 L639.3,416.9" stroke="#959595" stroke-width="1.1"/>
<path d="M671.7,438.9 L676.3,443.5 M671.7,443.5 L676.3,438.9" stroke="#959595" stroke-width="1.1"/>
<line x1="637" y1="420.2" x2="674" y2="443.3" stroke="#959595" stroke-width="1.6"/>
<path d="M634.7,417.9 L639.3,422.5 M634.7,422.5 L639.3,417.9" stroke="#959595" stroke-width="1.1"/>
<path d="M671.7,441.0 L676.3,445.6 M671.7,445.6 L676.3,441.0" stroke="#959595" stroke-width="1.1"/>
<line x1="637" y1="425.1" x2="674" y2="465.3" stroke="#959595" stroke-width="1.6"/>
<path d="M634.7,422.8 L639.3,427.40000000000003 M634.7,427.40000000000003 L639.3,422.8" stroke="#959595" stroke-width="1.1"/>
<path d="M671.7,463.0 L676.3,467.6 M671.7,467.6 L676.3,463.0" stroke="#959595" stroke-width="1.1"/>
<line x1="637" y1="433.1" x2="674" y2="450.8" stroke="#959595" stroke-width="1.6"/>
<path d="M634.7,430.8 L639.3,435.40000000000003 M634.7,435.40000000000003 L639.3,430.8" stroke="#959595" stroke-width="1.1"/>
<path d="M671.7,448.5 L676.3,453.1 M671.7,453.1 L676.3,448.5" stroke="#959595" stroke-width="1.1"/>
<line x1="630.9" y1="413.5" x2="680.3" y2="429.4" stroke="#111" stroke-width="1.5"/>
<path d="M630.9,410.5 L630.9,416.5 M628.4,410.5 L633.4,410.5 M628.4,416.5 L633.4,416.5" stroke="#222" stroke-width="1"/>
<path d="M680.3,424.4 L680.3,434.4 M677.8,424.4 L682.8,424.4 M677.8,434.4 L682.8,434.4" stroke="#222" stroke-width="1"/>
<circle cx="630.9" cy="413.5" r="2.5" fill="#111"/>
<circle cx="680.3" cy="429.4" r="2.5" fill="#111"/>
<text x="654.5" y="382" font-size="15" font-weight="normal" font-style="normal" text-anchor="middle" >***</text>
<text x="556.5" y="632.5" font-size="23" font-weight="bold" font-style="normal" text-anchor="start" >f</text>
<line x1="622.6" y1="634" x2="622.6" y2="783.8" stroke="#111" stroke-width="1.5"/>
<line x1="621.85" y1="783.8" x2="686" y2="783.8" stroke="#111" stroke-width="1.5"/>
<line x1="614.8000000000001" y1="781.2" x2="622.6" y2="781.2" stroke="#111" stroke-width="1.5"/>
<text x="610.2" y="787.0999999999999" font-size="15.5" font-weight="normal" font-style="normal" text-anchor="end" >0.0</text>
<line x1="614.8000000000001" y1="737.8" x2="622.6" y2="737.8" stroke="#111" stroke-width="1.5"/>
<text x="610.2" y="743.6999999999999" font-size="15.5" font-weight="normal" font-style="normal" text-anchor="end" >0.5</text>
<line x1="614.8000000000001" y1="694.4" x2="622.6" y2="694.4" stroke="#111" stroke-width="1.5"/>
<text x="610.2" y="700.3" font-size="15.5" font-weight="normal" font-style="normal" text-anchor="end" >1.0</text>
<line x1="614.8000000000001" y1="651.0" x2="622.6" y2="651.0" stroke="#111" stroke-width="1.5"/>
<text x="610.2" y="656.9" font-size="15.5" font-weight="normal" font-style="normal" text-anchor="end" >1.5</text>
<line x1="637" y1="783.8" x2="637" y2="791.3" stroke="#111" stroke-width="1.5"/>
<line x1="674.2" y1="783.8" x2="674.2" y2="791.3" stroke="#111" stroke-width="1.5"/>
<text x="0" y="0" font-size="15.8" text-anchor="middle" transform="translate(576.0,709.8) rotate(-90)">Normalized Amp.</text>
<text x="0" y="0" font-size="15.5" text-anchor="end" transform="translate(641.2,797.5999999999999) rotate(-90)">ip.C4</text>
<text x="0" y="0" font-size="15.5" text-anchor="end" transform="translate(678.3,797.5999999999999) rotate(-90)">co.C4</text>
<line x1="637" y1="682.3" x2="674" y2="760.9" stroke="#959595" stroke-width="1.6"/>
<path d="M634.7,680.0 L639.3,684.5999999999999 M634.7,684.5999999999999 L639.3,680.0" stroke="#959595" stroke-width="1.1"/>
<path d="M671.7,758.5923315101304 L676.3,763.1923315101303 M671.7,763.1923315101303 L676.3,758.5923315101304" stroke="#959595" stroke-width="1.1"/>
<line x1="637" y1="682.6" x2="674" y2="757.4" stroke="#959595" stroke-width="1.6"/>
<path d="M634.7,680.3169355072475 L639.3,684.9169355072474 M634.7,684.9169355072474 L639.3,680.3169355072475" stroke="#959595" stroke-width="1.1"/>
<path d="M671.7,755.117211690568 L676.3,759.7172116905679 M671.7,759.7172116905679 L676.3,755.117211690568" stroke="#959595" stroke-width="1.1"/>
<line x1="637" y1="683.2" x2="674" y2="759.5" stroke="#959595" stroke-width="1.6"/>
<path d="M634.7,680.896428985494 L639.3,685.4964289854939 M634.7,685.4964289854939 L639.3,680.896428985494" stroke="#959595" stroke-width="1.1"/>
<path d="M671.7,757.1744733518481 L676.3,761.774473351848 M671.7,761.774473351848 L676.3,757.1744733518481" stroke="#959595" stroke-width="1.1"/>
<line x1="637" y1="683.9" x2="674" y2="759.6" stroke="#959595" stroke-width="1.6"/>
<path d="M634.7,681.6468452038259 L639.3,686.2468452038258 M634.7,686.2468452038258 L639.3,681.6468452038259" stroke="#959595" stroke-width="1.1"/>
<path d="M671.7,757.299977295581 L676.3,761.8999772955809 M671.7,761.8999772955809 L676.3,757.299977295581" stroke="#959595" stroke-width="1.1"/>
<line x1="637" y1="684.8" x2="674" y2="763.3" stroke="#959595" stroke-width="1.6"/>
<path d="M634.7,682.53548405798 L639.3,687.13548405798 M634.7,687.13548405798 L639.3,682.53548405798" stroke="#959595" stroke-width="1.1"/>
<path d="M671.7,761.0419871992211 L676.3,765.641987199221 M671.7,765.641987199221 L676.3,761.0419871992211" stroke="#959595" stroke-width="1.1"/>
<line x1="637" y1="685.8" x2="674" y2="763.4" stroke="#959595" stroke-width="1.6"/>
<path d="M634.7,683.543446693444 L639.3,688.1434466934439 M634.7,688.1434466934439 L639.3,683.543446693444" stroke="#959595" stroke-width="1.1"/>
<path d="M671.7,761.1165910052209 L676.3,765.7165910052208 M671.7,765.7165910052208 L676.3,761.1165910052209" stroke="#959595" stroke-width="1.1"/>
<line x1="637" y1="687.0" x2="674" y2="765.3" stroke="#959595" stroke-width="1.6"/>
<path d="M634.7,684.6579816447594 L639.3,689.2579816447593 M634.7,689.2579816447593 L639.3,684.6579816447594" stroke="#959595" stroke-width="1.1"/>
<path d="M671.7,762.9528063761682 L676.3,767.5528063761681 M671.7,767.5528063761681 L676.3,762.9528063761682" stroke="#959595" stroke-width="1.1"/>
<line x1="637" y1="688.2" x2="674" y2="760.6" stroke="#959595" stroke-width="1.6"/>
<path d="M634.7,685.8697277367612 L639.3,690.4697277367611 M634.7,690.4697277367611 L639.3,685.8697277367612" stroke="#959595" stroke-width="1.1"/>
<path d="M671.7,758.2564085288283 L676.3,762.8564085288282 M671.7,762.8564085288282 L676.3,758.2564085288283" stroke="#959595" stroke-width="1.1"/>
<line x1="637" y1="689.5" x2="674" y2="763.2" stroke="#959595" stroke-width="1.6"/>
<path d="M634.7,687.1714318839524 L639.3,691.7714318839523 M634.7,691.7714318839523 L639.3,687.1714318839524" stroke="#959595" stroke-width="1.1"/>
<path d="M671.7,760.8574425031286 L676.3,765.4574425031285 M671.7,765.4574425031285 L676.3,760.8574425031286" stroke="#959595" stroke-width="1.1"/>
<line x1="637" y1="690.9" x2="674" y2="761.1" stroke="#959595" stroke-width="1.6"/>
<path d="M634.7,688.5572586956829 L639.3,693.1572586956828 M634.7,693.1572586956828 L639.3,688.5572586956829" stroke="#959595" stroke-width="1.1"/>
<path d="M671.7,758.8049879186893 L676.3,763.4049879186892 M671.7,763.4049879186892 L676.3,758.8049879186893" stroke="#959595" stroke-width="1.1"/>
<line x1="637" y1="692.3" x2="674" y2="762.8" stroke="#959595" stroke-width="1.6"/>
<path d="M634.7,690.0223807428295 L639.3,694.6223807428294 M634.7,694.6223807428294 L639.3,690.0223807428295" stroke="#959595" stroke-width="1.1"/>
<path d="M671.7,760.4707116101716 L676.3,765.0707116101715 M671.7,765.0707116101715 L676.3,760.4707116101716" stroke="#959595" stroke-width="1.1"/>
<line x1="637" y1="693.9" x2="674" y2="765.1" stroke="#959595" stroke-width="1.6"/>
<path d="M634.7,691.5627177630906 L639.3,696.1627177630905 M634.7,696.1627177630905 L639.3,691.5627177630906" stroke="#959595" stroke-width="1.1"/>
<path d="M671.7,762.762845272433 L676.3,767.3628452724329 M671.7,767.3628452724329 L676.3,762.762845272433" stroke="#959595" stroke-width="1.1"/>
<line x1="637" y1="695.5" x2="674" y2="762.5" stroke="#959595" stroke-width="1.6"/>
<path d="M634.7,693.1747616306073 L639.3,697.7747616306073 M634.7,697.7747616306073 L639.3,693.1747616306073" stroke="#959595" stroke-width="1.1"/>
<path d="M671.7,760.155544491691 L676.3,764.7555444916909 M671.7,764.7555444916909 L676.3,760.155544491691" stroke="#959595" stroke-width="1.1"/>
<line x1="637" y1="697.2" x2="674" y2="764.0" stroke="#959595" stroke-width="1.6"/>
<path d="M634.7,694.8554538911493 L639.3,699.4554538911492 M634.7,699.4554538911492 L639.3,694.8554538911493" stroke="#959595" stroke-width="1.1"/>
<path d="M671.7,761.7154181072517 L676.3,766.3154181072516 M671.7,766.3154181072516 L676.3,761.7154181072517" stroke="#959595" stroke-width="1.1"/>
<line x1="637" y1="698.9" x2="674" y2="767.4" stroke="#959595" stroke-width="1.6"/>
<path d="M634.7,696.6020971455305 L639.3,701.2020971455304 M634.7,701.2020971455304 L639.3,696.6020971455305" stroke="#959595" stroke-width="1.1"/>
<path d="M671.7,765.059260401789 L676.3,769.6592604017889 M671.7,769.6592604017889 L676.3,765.059260401789" stroke="#959595" stroke-width="1.1"/>
<line x1="637" y1="700.7" x2="674" y2="767.1" stroke="#959595" stroke-width="1.6"/>
<path d="M634.7,698.4122891208713 L639.3,703.0122891208712 M634.7,703.0122891208712 L639.3,698.4122891208713" stroke="#959595" stroke-width="1.1"/>
<path d="M671.7,764.8447683330035 L676.3,769.4447683330034 M671.7,769.4447683330034 L676.3,764.8447683330035" stroke="#959595" stroke-width="1.1"/>
<line x1="637" y1="702.6" x2="674" y2="765.5" stroke="#959595" stroke-width="1.6"/>
<path d="M634.7,700.2838724638408 L639.3,704.8838724638407 M634.7,704.8838724638407 L639.3,700.2838724638408" stroke="#959595" stroke-width="1.1"/>
<path d="M671.7,763.2251056953462 L676.3,767.8251056953461 M671.7,767.8251056953461 L676.3,763.2251056953462" stroke="#959595" stroke-width="1.1"/>
<line x1="637" y1="704.5" x2="674" y2="768.3" stroke="#959595" stroke-width="1.6"/>
<path d="M634.7,702.2148957391336 L639.3,706.8148957391335 M634.7,706.8148957391335 L639.3,702.2148957391336" stroke="#959595" stroke-width="1.1"/>
<path d="M671.7,766.0427289482344 L676.3,770.6427289482343 M671.7,770.6427289482343 L676.3,766.0427289482344" stroke="#959595" stroke-width="1.1"/>
<line x1="637" y1="706.5" x2="674" y2="770.2" stroke="#959595" stroke-width="1.6"/>
<path d="M634.7,704.2035826083395 L639.3,708.8035826083394 M634.7,708.8035826083394 L639.3,704.2035826083395" stroke="#959595" stroke-width="1.1"/>
<path d="M671.7,767.9089263513096 L676.3,772.5089263513095 M671.7,772.5089263513095 L676.3,767.9089263513096" stroke="#959595" stroke-width="1.1"/>
<line x1="637" y1="708.5" x2="674" y2="765.5" stroke="#959595" stroke-width="1.6"/>
<path d="M634.7,706.2483071065225 L639.3,710.8483071065224 M634.7,710.8483071065224 L639.3,706.2483071065225" stroke="#959595" stroke-width="1.1"/>
<path d="M671.7,763.2273063476539 L676.3,767.8273063476538 M671.7,767.8273063476538 L676.3,763.2273063476539" stroke="#959595" stroke-width="1.1"/>
<line x1="637" y1="710.6" x2="674" y2="771.1" stroke="#959595" stroke-width="1.6"/>
<path d="M634.7,708.3475735475527 L639.3,712.9475735475526 M634.7,712.9475735475526 L639.3,708.3475735475527" stroke="#959595" stroke-width="1.1"/>
<path d="M671.7,768.8001003545871 L676.3,773.400100354587 M671.7,773.400100354587 L676.3,768.8001003545871" stroke="#959595" stroke-width="1.1"/>
<line x1="637" y1="712.8" x2="674" y2="770.9" stroke="#959595" stroke-width="1.6"/>
<path d="M634.7,710.5 L639.3,715.0999999999999 M634.7,715.0999999999999 L639.3,710.5" stroke="#959595" stroke-width="1.1"/>
<path d="M671.7,768.5680921279246 L676.3,773.1680921279245 M671.7,773.1680921279245 L676.3,768.5680921279246" stroke="#959595" stroke-width="1.1"/>
<line x1="630.9" y1="693.6" x2="680.1" y2="763.6" stroke="#111" stroke-width="1.5"/>
<rect x="628.3" y="691.0" width="5.2" height="5.2" fill="#111"/>
<circle cx="680.1" cy="763.6" r="2.8" fill="#111"/>
<text x="653.8" y="663.5" font-size="15" font-weight="normal" font-style="normal" text-anchor="middle" >***</text>
</svg>
</body></html>
